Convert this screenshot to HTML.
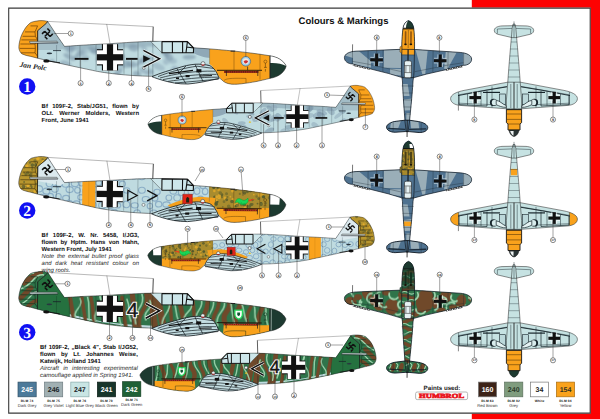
<!DOCTYPE html>
<html><head><meta charset="utf-8"><title>Colours &amp; Markings</title>
<style>html,body{margin:0;padding:0;background:#fff}body{width:600px;height:419px;overflow:hidden;position:relative;font-family:"Liberation Sans",sans-serif}svg{position:absolute;left:0;top:0;display:block}svg text{text-rendering:geometricPrecision}.t{text-rendering:geometricPrecision}.t{position:absolute;font-weight:bold;font-size:5.95px;line-height:7.2px;color:#111;text-align:justify;width:97.6px}.t i{font-weight:normal;color:#262626}.t div{text-align:justify;text-align-last:justify;white-space:nowrap}.t div.l{text-align-last:left}</style></head><body>
<svg width="600" height="419" viewBox="0 0 600 419" font-family="Liberation Sans, sans-serif">
<defs><filter id="bl" x="-5%" y="-20%" width="110%" height="140%"><feGaussianBlur stdDeviation="0.9"/></filter><filter id="b2" x="-5%" y="-20%" width="110%" height="140%"><feGaussianBlur stdDeviation="0.75"/></filter></defs>
<rect width="600" height="419" fill="#fff"/>
<rect x="471.8" y="0" width="129" height="7.6" fill="#fd0202"/><rect x="590.5" y="0" width="10" height="419" fill="#fd0202"/><rect x="471.8" y="413.6" width="129" height="6" fill="#fd0202"/>
<path d="M8.7,8.1 H590.2 V413.1 H8.7 Z" fill="none" stroke="#3a3a3a" stroke-width="1.1"/>
<text x="298.6" y="23.5" font-size="9.52" font-weight="bold" fill="#111">Colours &amp; Markings</text>
<g transform="translate(0,0) rotate(0.7 408 60)">
<clipPath id="tv1w"><path d="M408,49.4 L401,49.4 L356,51.8 C349.4,52.2 344.4,54.6 344.4,58.4 C344.4,62 348,64.6 352.4,64.6 L369,69 L389,73.8 L401.6,77.4 L408,77.4 Z M408,49.4 L415,49.4 L460,51.8 C466.6,52.2 471.6,54.6 471.6,58.4 C471.6,62 468,64.6 463.6,64.6 L447,69 L427,73.8 L414.4,77.4 L408,77.4 Z"/></clipPath><clipPath id="tv1f"><path d="M408,20.6 C405.2,21.4 403,24.6 402.6,28.4 C402,33 401.6,40 401.6,46 L401.8,70 C402,76 402.4,79 402.7,81 C403.6,98 405,112 405.8,122 L407.1,131.6 L408.9,131.6 L410.2,122 C411,112 412.4,98 413.3,81 C413.6,79 414,76 414.2,70 L414.4,46 C414.4,40 414,33 413.4,28.4 C413,24.6 410.8,21.4 408,20.6 Z"/></clipPath><clipPath id="tv1t"><path d="M406,120.2 L397,121.4 C391.4,122.2 387.6,124.6 387.4,127.2 C387.4,130.4 391,132.4 396,132.4 L406,131.6 L410,131.6 L420,132.4 C425,132.4 428.6,130.4 428.6,127.2 C428.4,124.6 424.6,122.2 419,121.4 L410,120.2 Z"/></clipPath>
<path d="M408,49.4 L401,49.4 L356,51.8 C349.4,52.2 344.4,54.6 344.4,58.4 C344.4,62 348,64.6 352.4,64.6 L369,69 L389,73.8 L401.6,77.4 L408,77.4 Z M408,49.4 L415,49.4 L460,51.8 C466.6,52.2 471.6,54.6 471.6,58.4 C471.6,62 468,64.6 463.6,64.6 L447,69 L427,73.8 L414.4,77.4 L408,77.4 Z" fill="#4f7290"/>
<g clip-path="url(#tv1w)" fill="#9aaeb8">
<path d="M344,56 L351,50 L358,51 L371,61.6 L371,68 L353,64.8 L353,58.6 Z"/>
<path d="M383.8,48 L401,48 L401,68 L383.8,68 Z"/>
<path d="M390.2,69 L401,69 L401,75.6 L390.2,74.6 Z"/>
<path d="M414.9,48 L427.8,48 L425.4,74 L422.5,74 Z"/>
<path d="M445.8,50 L457.6,50 L447.6,68.4 L444.2,68.4 Z"/>
<path d="M463.3,50 L473,50 L473,68 L463.3,68 Z"/>
</g>
<path d="M406,120.2 L397,121.4 C391.4,122.2 387.6,124.6 387.4,127.2 C387.4,130.4 391,132.4 396,132.4 L406,131.6 L410,131.6 L420,132.4 C425,132.4 428.6,130.4 428.6,127.2 C428.4,124.6 424.6,122.2 419,121.4 L410,120.2 Z" fill="#4f7290"/>
<g clip-path="url(#tv1t)" fill="#9aaeb8"><path d="M392,120 L402,120 L399,128.4 L391,128.4 Z"/><path d="M411,120 L419,120 L420,128.4 L412,128.4 Z"/></g>
<path d="M408,20.6 C405.2,21.4 403,24.6 402.6,28.4 C402,33 401.6,40 401.6,46 L401.8,70 C402,76 402.4,79 402.7,81 C403.6,98 405,112 405.8,122 L407.1,131.6 L408.9,131.6 L410.2,122 C411,112 412.4,98 413.3,81 C413.6,79 414,76 414.2,70 L414.4,46 C414.4,40 414,33 413.4,28.4 C413,24.6 410.8,21.4 408,20.6 Z" fill="#4f7290"/>
<g clip-path="url(#tv1f)"><path d="M400,84 L408,84 L410,96 L400,96 Z M400,100 L416,98 L416,110 L400,111 Z M407,113 L416,113 L416,120 L407,120 Z" fill="#9aaeb8"/>
<rect x="400" y="28.2" width="16" height="26.4" fill="#f9a21c"/>
</g>
<path d="M408,20.6 C405.2,21.4 403,24.6 402.6,28.4 L413.4,28.4 C413,24.6 410.8,21.4 408,20.6 Z" fill="#1d3a30"/>
<path d="M408,20.6 C405.2,21.4 403,24.6 402.6,28.4 L405.6,28.4 C405.6,25 406.4,22.4 408,20.6 Z" fill="#fff"/>
<path d="M402.6,28.2 H413.4" stroke="#111" stroke-width="1"/>
<path d="M408,49.4 L401,49.4 L356,51.8 C349.4,52.2 344.4,54.6 344.4,58.4 C344.4,62 348,64.6 352.4,64.6 L369,69 L389,73.8 L401.6,77.4 L408,77.4 Z M408,49.4 L415,49.4 L460,51.8 C466.6,52.2 471.6,54.6 471.6,58.4 C471.6,62 468,64.6 463.6,64.6 L447,69 L427,73.8 L414.4,77.4 L408,77.4 Z" fill="none" stroke="#0e1822" stroke-width="0.7"/>
<path d="M389,128.6 L406,129.4 M427,128.6 L410,129.4" stroke="#0e1822" stroke-width="1.3" opacity="0.75"/>
<path d="M406,120.2 L397,121.4 C391.4,122.2 387.6,124.6 387.4,127.2 C387.4,130.4 391,132.4 396,132.4 L406,131.6 L410,131.6 L420,132.4 C425,132.4 428.6,130.4 428.6,127.2 C428.4,124.6 424.6,122.2 419,121.4 L410,120.2 Z" fill="none" stroke="#0e1822" stroke-width="0.9"/>
<path d="M408,20.6 C405.2,21.4 403,24.6 402.6,28.4 C402,33 401.6,40 401.6,46 L401.8,70 C402,76 402.4,79 402.7,81 C403.6,98 405,112 405.8,122 L407.1,131.6 L408.9,131.6 L410.2,122 C411,112 412.4,98 413.3,81 C413.6,79 414,76 414.2,70 L414.4,46 C414.4,40 414,33 413.4,28.4 C413,24.6 410.8,21.4 408,20.6 Z" fill="none" stroke="#0e1822" stroke-width="0.7"/>
<path d="M408,120 V137" stroke="#1a1a1a" stroke-width="0.8"/>
<path d="M353,65.6 L370,69.6 M463,65.6 L446,69.6" stroke="#111" stroke-width="1.5"/><path d="M353,65.6 L370,69.6 M463,65.6 L446,69.6" stroke="#f4f8fa" stroke-width="1" stroke-dasharray="1 0.7"/>
<path d="M352.4,52 V64.6 M463.6,52 V64.6 M368,51.2 V68.6 M448,51.2 V68.6 M383,50.4 V72 M433,50.4 V72 M352.4,62 L368,64.6 L401,71.6 M463.6,62 L448,64.6 L415,71.6 M401.1,55 H414.9 M401.6,78 H414.4 M402,86 H414 M402.8,93 H413.2 M403.4,100 H412.6 M404,107 H412 M404.8,114 H411.2 M394,123 V131.6 M422,123 V131.6" fill="none" stroke="#15222c" stroke-width="0.4" opacity="0.8"/>
<path d="M352.4,45 V52.6" stroke="#1c1c1c" stroke-width="0.6"/>
<path d="M405.3,31.6 V43 M410.7,31.6 V43" stroke="#b86c10" stroke-width="2" fill="none" opacity="0.9"/>
<path d="M405.3,31 V43.6 M410.7,31 V43.6 M408,30 V48" stroke="#3b2a10" stroke-width="0.5" fill="none" opacity="0.85"/>
<ellipse cx="405.3" cy="44.2" rx="1.3" ry="1" fill="#1a1208"/><ellipse cx="410.7" cy="44.2" rx="1.3" ry="1" fill="#1a1208"/>
<path d="M402.4,29.6 H413.6" stroke="#3b2a10" stroke-width="0.5"/>
<path d="M401.6,46 l-1.8,1 v5 l1.8,1 z" fill="#f9a21c" stroke="#1c1c1c" stroke-width="0.4"/>
<rect x="404.5" y="60.8" width="7" height="17" rx="1.6" fill="#e6f2f4" stroke="#1c1c1c" stroke-width="0.6"/><path d="M404.5,65.6 H411.5 M404.5,72.6 H411.5 M406,66 V72.4 M410,66 V72.4" stroke="#1c1c1c" stroke-width="0.5"/>
<path d="M374.25,53.90 V57.85 H370.30 M378.95,53.90 V57.85 H382.90 M374.25,66.50 V62.55 H370.30 M378.95,66.50 V62.55 H382.90" fill="none" stroke="#cfdde4" stroke-width="0.7"/><rect x="375.15" y="53.90" width="2.90" height="12.60" fill="#111"/><rect x="370.30" y="58.75" width="12.60" height="2.90" fill="#111"/>
<path d="M437.85,54.00 V57.95 H433.90 M442.55,54.00 V57.95 H446.50 M437.85,66.60 V62.65 H433.90 M442.55,66.60 V62.65 H446.50" fill="none" stroke="#cfdde4" stroke-width="0.7"/><rect x="438.75" y="54.00" width="2.90" height="12.60" fill="#111"/><rect x="433.90" y="58.85" width="12.60" height="2.90" fill="#111"/>
</g>
<g transform="translate(0,120.4) rotate(0.7 408 60)">
<clipPath id="tv2w"><path d="M408,49.4 L401,49.4 L356,51.8 C349.4,52.2 344.4,54.6 344.4,58.4 C344.4,62 348,64.6 352.4,64.6 L369,69 L389,73.8 L401.6,77.4 L408,77.4 Z M408,49.4 L415,49.4 L460,51.8 C466.6,52.2 471.6,54.6 471.6,58.4 C471.6,62 468,64.6 463.6,64.6 L447,69 L427,73.8 L414.4,77.4 L408,77.4 Z"/></clipPath><clipPath id="tv2f"><path d="M408,20.6 C405.2,21.4 403,24.6 402.6,28.4 C402,33 401.6,40 401.6,46 L401.8,70 C402,76 402.4,79 402.7,81 C403.6,98 405,112 405.8,122 L407.1,131.6 L408.9,131.6 L410.2,122 C411,112 412.4,98 413.3,81 C413.6,79 414,76 414.2,70 L414.4,46 C414.4,40 414,33 413.4,28.4 C413,24.6 410.8,21.4 408,20.6 Z"/></clipPath><clipPath id="tv2t"><path d="M406,120.2 L397,121.4 C391.4,122.2 387.6,124.6 387.4,127.2 C387.4,130.4 391,132.4 396,132.4 L406,131.6 L410,131.6 L420,132.4 C425,132.4 428.6,130.4 428.6,127.2 C428.4,124.6 424.6,122.2 419,121.4 L410,120.2 Z"/></clipPath>
<path d="M408,49.4 L401,49.4 L356,51.8 C349.4,52.2 344.4,54.6 344.4,58.4 C344.4,62 348,64.6 352.4,64.6 L369,69 L389,73.8 L401.6,77.4 L408,77.4 Z M408,49.4 L415,49.4 L460,51.8 C466.6,52.2 471.6,54.6 471.6,58.4 C471.6,62 468,64.6 463.6,64.6 L447,69 L427,73.8 L414.4,77.4 L408,77.4 Z" fill="#4f7290"/>
<g clip-path="url(#tv2w)" fill="#9aaeb8">
<path d="M344,56 L351,50 L358,51 L371,61.6 L371,68 L353,64.8 L353,58.6 Z"/>
<path d="M383.8,48 L401,48 L401,68 L383.8,68 Z"/>
<path d="M390.2,69 L401,69 L401,75.6 L390.2,74.6 Z"/>
<path d="M414.9,48 L427.8,48 L425.4,74 L422.5,74 Z"/>
<path d="M445.8,50 L457.6,50 L447.6,68.4 L444.2,68.4 Z"/>
<path d="M463.3,50 L473,50 L473,68 L463.3,68 Z"/>
</g>
<path d="M406,120.2 L397,121.4 C391.4,122.2 387.6,124.6 387.4,127.2 C387.4,130.4 391,132.4 396,132.4 L406,131.6 L410,131.6 L420,132.4 C425,132.4 428.6,130.4 428.6,127.2 C428.4,124.6 424.6,122.2 419,121.4 L410,120.2 Z" fill="#4f7290"/>
<g clip-path="url(#tv2t)" fill="#9aaeb8"><path d="M392,120 L402,120 L399,128.4 L391,128.4 Z"/><path d="M411,120 L419,120 L420,128.4 L412,128.4 Z"/></g>
<path d="M408,20.6 C405.2,21.4 403,24.6 402.6,28.4 C402,33 401.6,40 401.6,46 L401.8,70 C402,76 402.4,79 402.7,81 C403.6,98 405,112 405.8,122 L407.1,131.6 L408.9,131.6 L410.2,122 C411,112 412.4,98 413.3,81 C413.6,79 414,76 414.2,70 L414.4,46 C414.4,40 414,33 413.4,28.4 C413,24.6 410.8,21.4 408,20.6 Z" fill="#4f7290"/>
<g clip-path="url(#tv2f)"><path d="M400,84 L408,84 L410,96 L400,96 Z M400,100 L416,98 L416,110 L400,111 Z M407,113 L416,113 L416,120 L407,120 Z" fill="#9aaeb8"/>
<rect x="400" y="28.2" width="16" height="26.4" fill="#a88a2c"/>
<circle cx="403.1" cy="44.4" r="0.9" fill="#7d702c"/>
<circle cx="406.4" cy="44.5" r="1.2" fill="#6f6a2e"/>
<circle cx="411.1" cy="42.5" r="1.3" fill="#7d702c"/>
<circle cx="411.3" cy="38.2" r="1.0" fill="#7d702c"/>
<circle cx="402.2" cy="29.8" r="0.9" fill="#d9a52a"/>
<circle cx="413.6" cy="50.2" r="1.3" fill="#7d702c"/>
<circle cx="407.9" cy="39.1" r="1.1" fill="#6f6a2e"/>
<circle cx="404.5" cy="30.8" r="1.0" fill="#7d702c"/>
<circle cx="408.1" cy="47.8" r="1.1" fill="#d9a52a"/>
<circle cx="402.9" cy="49.3" r="1.1" fill="#6f6a2e"/>
<circle cx="409.2" cy="44.8" r="1.1" fill="#d9a52a"/>
<circle cx="414.5" cy="48.3" r="1.0" fill="#5f6430"/>
<circle cx="409.9" cy="40.6" r="1.5" fill="#d9a52a"/>
<circle cx="413.2" cy="54.1" r="1.2" fill="#7d702c"/>
<circle cx="406.5" cy="47.7" r="1.2" fill="#7d702c"/>
<circle cx="408.5" cy="53.7" r="1.2" fill="#d9a52a"/>
<circle cx="402.7" cy="40.7" r="1.4" fill="#5f6430"/>
<circle cx="402.0" cy="50.7" r="1.4" fill="#d9a52a"/>
<circle cx="411.2" cy="39.2" r="1.4" fill="#7d702c"/>
<circle cx="404.0" cy="40.0" r="1.3" fill="#7d702c"/>
<circle cx="408.2" cy="32.0" r="1.2" fill="#7d702c"/>
<circle cx="401.1" cy="34.7" r="1.0" fill="#6f6a2e"/>
<circle cx="402.7" cy="32.3" r="1.1" fill="#5f6430"/>
<circle cx="404.7" cy="40.0" r="1.3" fill="#d9a52a"/>
<circle cx="403.6" cy="36.1" r="1.3" fill="#7d702c"/>
<circle cx="401.3" cy="33.3" r="1.3" fill="#d9a52a"/>
<circle cx="409.0" cy="33.8" r="1.3" fill="#5f6430"/>
<circle cx="402.3" cy="32.8" r="1.4" fill="#d9a52a"/>
<circle cx="410.4" cy="48.3" r="1.4" fill="#d9a52a"/>
<circle cx="403.0" cy="35.0" r="1.1" fill="#7d702c"/>
<circle cx="410.1" cy="46.6" r="1.4" fill="#7d702c"/>
<circle cx="414.4" cy="45.0" r="1.1" fill="#7d702c"/>
<circle cx="404.8" cy="48.6" r="1.3" fill="#6f6a2e"/>
<circle cx="410.7" cy="45.8" r="1.4" fill="#7d702c"/>
<circle cx="407.3" cy="44.0" r="1.1" fill="#6f6a2e"/>
<circle cx="414.4" cy="37.3" r="0.9" fill="#d9a52a"/>
<rect x="400" y="101.2" width="16" height="4.6" fill="#f9a21c"/>
</g>
<path d="M408,20.6 C405.2,21.4 403,24.6 402.6,28.4 L413.4,28.4 C413,24.6 410.8,21.4 408,20.6 Z" fill="#1d3a30"/>
<path d="M409,23.6 L412.2,23.6 L413.2,27.6 L409.4,27.6 Z" fill="#fff"/>
<path d="M402.6,28.2 H413.4" stroke="#111" stroke-width="1"/>
<path d="M408,49.4 L401,49.4 L356,51.8 C349.4,52.2 344.4,54.6 344.4,58.4 C344.4,62 348,64.6 352.4,64.6 L369,69 L389,73.8 L401.6,77.4 L408,77.4 Z M408,49.4 L415,49.4 L460,51.8 C466.6,52.2 471.6,54.6 471.6,58.4 C471.6,62 468,64.6 463.6,64.6 L447,69 L427,73.8 L414.4,77.4 L408,77.4 Z" fill="none" stroke="#0e1822" stroke-width="0.7"/>
<path d="M389,128.6 L406,129.4 M427,128.6 L410,129.4" stroke="#0e1822" stroke-width="1.3" opacity="0.75"/>
<path d="M406,120.2 L397,121.4 C391.4,122.2 387.6,124.6 387.4,127.2 C387.4,130.4 391,132.4 396,132.4 L406,131.6 L410,131.6 L420,132.4 C425,132.4 428.6,130.4 428.6,127.2 C428.4,124.6 424.6,122.2 419,121.4 L410,120.2 Z" fill="none" stroke="#0e1822" stroke-width="0.9"/>
<path d="M408,20.6 C405.2,21.4 403,24.6 402.6,28.4 C402,33 401.6,40 401.6,46 L401.8,70 C402,76 402.4,79 402.7,81 C403.6,98 405,112 405.8,122 L407.1,131.6 L408.9,131.6 L410.2,122 C411,112 412.4,98 413.3,81 C413.6,79 414,76 414.2,70 L414.4,46 C414.4,40 414,33 413.4,28.4 C413,24.6 410.8,21.4 408,20.6 Z" fill="none" stroke="#0e1822" stroke-width="0.7"/>
<path d="M408,120 V137" stroke="#1a1a1a" stroke-width="0.8"/>
<path d="M353,65.6 L370,69.6 M463,65.6 L446,69.6" stroke="#111" stroke-width="1.5"/><path d="M353,65.6 L370,69.6 M463,65.6 L446,69.6" stroke="#f4f8fa" stroke-width="1" stroke-dasharray="1 0.7"/>
<path d="M352.4,52 V64.6 M463.6,52 V64.6 M368,51.2 V68.6 M448,51.2 V68.6 M383,50.4 V72 M433,50.4 V72 M352.4,62 L368,64.6 L401,71.6 M463.6,62 L448,64.6 L415,71.6 M401.1,55 H414.9 M401.6,78 H414.4 M402,86 H414 M402.8,93 H413.2 M403.4,100 H412.6 M404,107 H412 M404.8,114 H411.2 M394,123 V131.6 M422,123 V131.6" fill="none" stroke="#15222c" stroke-width="0.4" opacity="0.8"/>
<path d="M352.4,45 V52.6" stroke="#1c1c1c" stroke-width="0.6"/>
<path d="M405.3,31.6 V43 M410.7,31.6 V43" stroke="#4a4418" stroke-width="2" fill="none" opacity="0.9"/>
<path d="M405.3,31 V43.6 M410.7,31 V43.6 M408,30 V48" stroke="#3b2a10" stroke-width="0.5" fill="none" opacity="0.85"/>
<ellipse cx="405.3" cy="44.2" rx="1.3" ry="1" fill="#1a1208"/><ellipse cx="410.7" cy="44.2" rx="1.3" ry="1" fill="#1a1208"/>
<path d="M402.4,29.6 H413.6" stroke="#3b2a10" stroke-width="0.5"/>
<path d="M401.6,46 l-1.8,1 v5 l1.8,1 z" fill="#8a7a2c" stroke="#1c1c1c" stroke-width="0.4"/>
<rect x="404.5" y="60.8" width="7" height="17" rx="1.6" fill="#e6f2f4" stroke="#1c1c1c" stroke-width="0.6"/><path d="M404.5,65.6 H411.5 M404.5,72.6 H411.5 M406,66 V72.4 M410,66 V72.4" stroke="#1c1c1c" stroke-width="0.5"/>
<path d="M374.25,53.90 V57.85 H370.30 M378.95,53.90 V57.85 H382.90 M374.25,66.50 V62.55 H370.30 M378.95,66.50 V62.55 H382.90" fill="none" stroke="#cfdde4" stroke-width="0.7"/><rect x="375.15" y="53.90" width="2.90" height="12.60" fill="#111"/><rect x="370.30" y="58.75" width="12.60" height="2.90" fill="#111"/>
<path d="M437.85,54.00 V57.95 H433.90 M442.55,54.00 V57.95 H446.50 M437.85,66.60 V62.65 H433.90 M442.55,66.60 V62.65 H446.50" fill="none" stroke="#cfdde4" stroke-width="0.7"/><rect x="438.75" y="54.00" width="2.90" height="12.60" fill="#111"/><rect x="433.90" y="58.85" width="12.60" height="2.90" fill="#111"/>
</g>
<g transform="translate(0,240.8) rotate(0.7 408 60)">
<clipPath id="tv3w"><path d="M408,49.4 L401,49.4 L356,51.8 C349.4,52.2 344.4,54.6 344.4,58.4 C344.4,62 348,64.6 352.4,64.6 L369,69 L389,73.8 L401.6,77.4 L408,77.4 Z M408,49.4 L415,49.4 L460,51.8 C466.6,52.2 471.6,54.6 471.6,58.4 C471.6,62 468,64.6 463.6,64.6 L447,69 L427,73.8 L414.4,77.4 L408,77.4 Z"/></clipPath><clipPath id="tv3f"><path d="M408,20.6 C405.2,21.4 403,24.6 402.6,28.4 C402,33 401.6,40 401.6,46 L401.8,70 C402,76 402.4,79 402.7,81 C403.6,98 405,112 405.8,122 L407.1,131.6 L408.9,131.6 L410.2,122 C411,112 412.4,98 413.3,81 C413.6,79 414,76 414.2,70 L414.4,46 C414.4,40 414,33 413.4,28.4 C413,24.6 410.8,21.4 408,20.6 Z"/></clipPath><clipPath id="tv3t"><path d="M406,120.2 L397,121.4 C391.4,122.2 387.6,124.6 387.4,127.2 C387.4,130.4 391,132.4 396,132.4 L406,131.6 L410,131.6 L420,132.4 C425,132.4 428.6,130.4 428.6,127.2 C428.4,124.6 424.6,122.2 419,121.4 L410,120.2 Z"/></clipPath>
<path d="M408,49.4 L401,49.4 L356,51.8 C349.4,52.2 344.4,54.6 344.4,58.4 C344.4,62 348,64.6 352.4,64.6 L369,69 L389,73.8 L401.6,77.4 L408,77.4 Z M408,49.4 L415,49.4 L460,51.8 C466.6,52.2 471.6,54.6 471.6,58.4 C471.6,62 468,64.6 463.6,64.6 L447,69 L427,73.8 L414.4,77.4 L408,77.4 Z" fill="#2f744a"/>
<g clip-path="url(#tv3w)">
<g filter="url(#b2)">
<ellipse cx="351" cy="62" rx="6" ry="5" fill="#70482a" transform="rotate(20 351 62)"/>
<ellipse cx="367" cy="53" rx="5" ry="6" fill="#70482a" transform="rotate(-10 367 53)"/>
<ellipse cx="379" cy="66" rx="5" ry="4" fill="#70482a" transform="rotate(10 379 66)"/>
<ellipse cx="392" cy="66" rx="7" ry="8" fill="#70482a" transform="rotate(0 392 66)"/>
<ellipse cx="386" cy="52" rx="4" ry="3" fill="#70482a" transform="rotate(0 386 52)"/>
<ellipse cx="401" cy="55" rx="3" ry="5" fill="#70482a" transform="rotate(0 401 55)"/>
<ellipse cx="425" cy="60" rx="9" ry="12" fill="#70482a" transform="rotate(10 425 60)"/>
<ellipse cx="415" cy="72" rx="5" ry="4" fill="#70482a" transform="rotate(0 415 72)"/>
<ellipse cx="446" cy="55" rx="6" ry="6" fill="#70482a" transform="rotate(-20 446 55)"/>
<ellipse cx="441" cy="69" rx="5" ry="3" fill="#70482a" transform="rotate(0 441 69)"/>
<ellipse cx="461" cy="60" rx="5" ry="7" fill="#70482a" transform="rotate(15 461 60)"/>
<ellipse cx="471" cy="56" rx="3" ry="4" fill="#70482a" transform="rotate(0 471 56)"/>
<ellipse cx="358" cy="57" rx="4" ry="3" fill="#70482a" transform="rotate(0 358 57)"/>
<ellipse cx="374" cy="60" rx="4" ry="5" fill="#70482a" transform="rotate(30 374 60)"/>
<ellipse cx="436" cy="62" rx="4" ry="6" fill="#70482a" transform="rotate(0 436 62)"/>
<ellipse cx="453" cy="66" rx="4" ry="3" fill="#70482a" transform="rotate(0 453 66)"/>
<path d="M343.3,55.3 A5,5 0 0 1 352.9,56.1" fill="none" stroke="#9fd6ae" stroke-width="1.7" stroke-linecap="round"/>
<path d="M361.7,61.7 A5,5 0 0 1 352.1,60.9" fill="none" stroke="#9fd6ae" stroke-width="1.7" stroke-linecap="round"/>
<path d="M360.6,60.2 A4,4 0 0 0 365.1,66.6" fill="none" stroke="#9fd6ae" stroke-width="1.7" stroke-linecap="round"/>
<path d="M369.5,62.3 A5,5 0 0 1 372.0,53.0" fill="none" stroke="#9fd6ae" stroke-width="1.7" stroke-linecap="round"/>
<path d="M380.0,51.5 A4,4 0 0 0 378.0,59.0" fill="none" stroke="#9fd6ae" stroke-width="1.7" stroke-linecap="round"/>
<path d="M386.5,66.3 A5,5 0 0 1 379.7,59.5" fill="none" stroke="#9fd6ae" stroke-width="1.7" stroke-linecap="round"/>
<path d="M389.2,52.8 A5,5 0 0 0 397.9,56.9" fill="none" stroke="#9fd6ae" stroke-width="1.7" stroke-linecap="round"/>
<path d="M401.5,68.0 A4,4 0 0 1 396.0,73.5" fill="none" stroke="#9fd6ae" stroke-width="1.7" stroke-linecap="round"/>
<path d="M402.0,68.0 A4,4 0 0 1 400.0,60.5" fill="none" stroke="#9fd6ae" stroke-width="1.7" stroke-linecap="round"/>
<path d="M410.7,58.5 A5,5 0 0 0 417.5,51.7" fill="none" stroke="#9fd6ae" stroke-width="1.7" stroke-linecap="round"/>
<path d="M425.3,70.5 A5,5 0 0 1 416.0,68.0" fill="none" stroke="#9fd6ae" stroke-width="1.7" stroke-linecap="round"/>
<path d="M429.1,49.1 A5,5 0 0 1 433.2,57.8" fill="none" stroke="#9fd6ae" stroke-width="1.7" stroke-linecap="round"/>
<path d="M435.1,68.9 A5,5 0 0 0 434.3,59.3" fill="none" stroke="#9fd6ae" stroke-width="1.7" stroke-linecap="round"/>
<path d="M439.2,58.6 A4,4 0 0 1 446.9,59.3" fill="none" stroke="#9fd6ae" stroke-width="1.7" stroke-linecap="round"/>
<path d="M454.7,62.3 A5,5 0 0 0 446.8,67.8" fill="none" stroke="#9fd6ae" stroke-width="1.7" stroke-linecap="round"/>
<path d="M457.0,59.5 A4,4 0 0 1 451.5,54.0" fill="none" stroke="#9fd6ae" stroke-width="1.7" stroke-linecap="round"/>
<path d="M458.0,66.0 A4,4 0 0 0 465.5,64.0" fill="none" stroke="#9fd6ae" stroke-width="1.7" stroke-linecap="round"/>
<path d="M468.7,56.1 A4,4 0 0 1 469.4,63.8" fill="none" stroke="#9fd6ae" stroke-width="1.7" stroke-linecap="round"/>
</g>
</g>
<path d="M406,120.2 L397,121.4 C391.4,122.2 387.6,124.6 387.4,127.2 C387.4,130.4 391,132.4 396,132.4 L406,131.6 L410,131.6 L420,132.4 C425,132.4 428.6,130.4 428.6,127.2 C428.4,124.6 424.6,122.2 419,121.4 L410,120.2 Z" fill="#2f744a"/>
<g clip-path="url(#tv3t)">
<ellipse cx="394" cy="126.6" rx="2.2" ry="4.6" fill="#70482a" transform="rotate(15 394 126.6)"/>
<ellipse cx="402" cy="126.6" rx="2.2" ry="4.6" fill="#70482a" transform="rotate(15 402 126.6)"/>
<ellipse cx="415" cy="126.6" rx="2.2" ry="4.6" fill="#70482a" transform="rotate(15 415 126.6)"/>
<ellipse cx="423" cy="126.6" rx="2.2" ry="4.6" fill="#70482a" transform="rotate(15 423 126.6)"/>
<path d="M-4,0 q2,-2.4 4,0 t4,0" transform="translate(391,126.4) rotate(75)" fill="none" stroke="#9fd6ae" stroke-width="1.1"/>
<path d="M-4,0 q2,-2.4 4,0 t4,0" transform="translate(398,126.4) rotate(75)" fill="none" stroke="#9fd6ae" stroke-width="1.1"/>
<path d="M-4,0 q2,-2.4 4,0 t4,0" transform="translate(412,126.4) rotate(75)" fill="none" stroke="#9fd6ae" stroke-width="1.1"/>
<path d="M-4,0 q2,-2.4 4,0 t4,0" transform="translate(419,126.4) rotate(75)" fill="none" stroke="#9fd6ae" stroke-width="1.1"/>
<path d="M-4,0 q2,-2.4 4,0 t4,0" transform="translate(426,126.4) rotate(75)" fill="none" stroke="#9fd6ae" stroke-width="1.1"/>
</g>
<path d="M408,20.6 C405.2,21.4 403,24.6 402.6,28.4 C402,33 401.6,40 401.6,46 L401.8,70 C402,76 402.4,79 402.7,81 C403.6,98 405,112 405.8,122 L407.1,131.6 L408.9,131.6 L410.2,122 C411,112 412.4,98 413.3,81 C413.6,79 414,76 414.2,70 L414.4,46 C414.4,40 414,33 413.4,28.4 C413,24.6 410.8,21.4 408,20.6 Z" fill="#2f744a"/>
<g clip-path="url(#tv3f)">
<path d="M400,24 q4,-3 8,0 t8,0" fill="none" stroke="#70482a" stroke-width="3.6"/>
<path d="M400,32 q4,3 8,0 t8,0" fill="none" stroke="#70482a" stroke-width="3.6"/>
<path d="M400,40 q4,-3 8,0 t8,0" fill="none" stroke="#70482a" stroke-width="3.6"/>
<path d="M400,48 q4,3 8,0 t8,0" fill="none" stroke="#70482a" stroke-width="3.6"/>
<path d="M400,56 q4,-3 8,0 t8,0" fill="none" stroke="#70482a" stroke-width="3.6"/>
<path d="M400,64 q4,3 8,0 t8,0" fill="none" stroke="#70482a" stroke-width="3.6"/>
<path d="M400,72 q4,-3 8,0 t8,0" fill="none" stroke="#70482a" stroke-width="3.6"/>
<path d="M400,80 q4,3 8,0 t8,0" fill="none" stroke="#70482a" stroke-width="3.6"/>
<path d="M400,88 q4,-3 8,0 t8,0" fill="none" stroke="#70482a" stroke-width="3.6"/>
<path d="M400,96 q4,3 8,0 t8,0" fill="none" stroke="#70482a" stroke-width="3.6"/>
<path d="M400,104 q4,-3 8,0 t8,0" fill="none" stroke="#70482a" stroke-width="3.6"/>
<path d="M400,112 q4,3 8,0 t8,0" fill="none" stroke="#70482a" stroke-width="3.6"/>
<path d="M400,120 q4,-3 8,0 t8,0" fill="none" stroke="#70482a" stroke-width="3.6"/>
<path d="M401,28 q3.5,2.6 7,0 t7,0" fill="none" stroke="#9fd6ae" stroke-width="1.1" opacity="0.9"/>
<path d="M401,36 q3.5,-2.6 7,0 t7,0" fill="none" stroke="#9fd6ae" stroke-width="1.1" opacity="0.9"/>
<path d="M401,44 q3.5,2.6 7,0 t7,0" fill="none" stroke="#9fd6ae" stroke-width="1.1" opacity="0.9"/>
<path d="M401,52 q3.5,-2.6 7,0 t7,0" fill="none" stroke="#9fd6ae" stroke-width="1.1" opacity="0.9"/>
<path d="M401,60 q3.5,2.6 7,0 t7,0" fill="none" stroke="#9fd6ae" stroke-width="1.1" opacity="0.9"/>
<path d="M401,68 q3.5,-2.6 7,0 t7,0" fill="none" stroke="#9fd6ae" stroke-width="1.1" opacity="0.9"/>
<path d="M401,76 q3.5,2.6 7,0 t7,0" fill="none" stroke="#9fd6ae" stroke-width="1.1" opacity="0.9"/>
<path d="M401,84 q3.5,-2.6 7,0 t7,0" fill="none" stroke="#9fd6ae" stroke-width="1.1" opacity="0.9"/>
<path d="M401,92 q3.5,2.6 7,0 t7,0" fill="none" stroke="#9fd6ae" stroke-width="1.1" opacity="0.9"/>
<path d="M401,100 q3.5,-2.6 7,0 t7,0" fill="none" stroke="#9fd6ae" stroke-width="1.1" opacity="0.9"/>
<path d="M401,108 q3.5,2.6 7,0 t7,0" fill="none" stroke="#9fd6ae" stroke-width="1.1" opacity="0.9"/>
<path d="M401,116 q3.5,-2.6 7,0 t7,0" fill="none" stroke="#9fd6ae" stroke-width="1.1" opacity="0.9"/>
<path d="M401,124 q3.5,2.6 7,0 t7,0" fill="none" stroke="#9fd6ae" stroke-width="1.1" opacity="0.9"/>
<rect x="400" y="28" width="16" height="20" fill="#173a2a" opacity="0.55"/>
</g>
<path d="M408,20.6 C405.2,21.4 403,24.6 402.6,28.4 L413.4,28.4 C413,24.6 410.8,21.4 408,20.6 Z" fill="#1d3a30"/>
<path d="M402.6,28.2 H413.4" stroke="#111" stroke-width="1"/>
<path d="M408,49.4 L401,49.4 L356,51.8 C349.4,52.2 344.4,54.6 344.4,58.4 C344.4,62 348,64.6 352.4,64.6 L369,69 L389,73.8 L401.6,77.4 L408,77.4 Z M408,49.4 L415,49.4 L460,51.8 C466.6,52.2 471.6,54.6 471.6,58.4 C471.6,62 468,64.6 463.6,64.6 L447,69 L427,73.8 L414.4,77.4 L408,77.4 Z" fill="none" stroke="#0e1822" stroke-width="0.7"/>
<path d="M389,128.6 L406,129.4 M427,128.6 L410,129.4" stroke="#0e1822" stroke-width="1.3" opacity="0.75"/>
<path d="M406,120.2 L397,121.4 C391.4,122.2 387.6,124.6 387.4,127.2 C387.4,130.4 391,132.4 396,132.4 L406,131.6 L410,131.6 L420,132.4 C425,132.4 428.6,130.4 428.6,127.2 C428.4,124.6 424.6,122.2 419,121.4 L410,120.2 Z" fill="none" stroke="#0e1822" stroke-width="0.9"/>
<path d="M408,20.6 C405.2,21.4 403,24.6 402.6,28.4 C402,33 401.6,40 401.6,46 L401.8,70 C402,76 402.4,79 402.7,81 C403.6,98 405,112 405.8,122 L407.1,131.6 L408.9,131.6 L410.2,122 C411,112 412.4,98 413.3,81 C413.6,79 414,76 414.2,70 L414.4,46 C414.4,40 414,33 413.4,28.4 C413,24.6 410.8,21.4 408,20.6 Z" fill="none" stroke="#0e1822" stroke-width="0.7"/>
<path d="M408,120 V137" stroke="#1a1a1a" stroke-width="0.8"/>
<path d="M353,65.6 L370,69.6 M463,65.6 L446,69.6" stroke="#111" stroke-width="1.5"/><path d="M353,65.6 L370,69.6 M463,65.6 L446,69.6" stroke="#f4f8fa" stroke-width="1" stroke-dasharray="1 0.7"/>
<path d="M352.4,52 V64.6 M463.6,52 V64.6 M368,51.2 V68.6 M448,51.2 V68.6 M383,50.4 V72 M433,50.4 V72 M352.4,62 L368,64.6 L401,71.6 M463.6,62 L448,64.6 L415,71.6 M401.1,55 H414.9 M401.6,78 H414.4 M402,86 H414 M402.8,93 H413.2 M403.4,100 H412.6 M404,107 H412 M404.8,114 H411.2 M394,123 V131.6 M422,123 V131.6" fill="none" stroke="#15222c" stroke-width="0.4" opacity="0.8"/>
<path d="M352.4,45 V52.6" stroke="#1c1c1c" stroke-width="0.6"/>
<path d="M405.3,31.6 V43 M410.7,31.6 V43" stroke="#143222" stroke-width="2" fill="none" opacity="0.9"/>
<path d="M405.3,31 V43.6 M410.7,31 V43.6 M408,30 V48" stroke="#0c2414" stroke-width="0.5" fill="none" opacity="0.85"/>
<ellipse cx="405.3" cy="44.2" rx="1.3" ry="1" fill="#1a1208"/><ellipse cx="410.7" cy="44.2" rx="1.3" ry="1" fill="#1a1208"/>
<path d="M402.4,29.6 H413.6" stroke="#0c2414" stroke-width="0.5"/>
<path d="M401.6,46 l-1.8,1 v5 l1.8,1 z" fill="#2f744a" stroke="#1c1c1c" stroke-width="0.4"/>
<rect x="404.5" y="60.8" width="7" height="17" rx="1.6" fill="#e6f2f4" stroke="#1c1c1c" stroke-width="0.6"/><path d="M404.5,65.6 H411.5 M404.5,72.6 H411.5 M406,66 V72.4 M410,66 V72.4" stroke="#1c1c1c" stroke-width="0.5"/>
<path d="M374.25,53.90 V57.85 H370.30 M378.95,53.90 V57.85 H382.90 M374.25,66.50 V62.55 H370.30 M378.95,66.50 V62.55 H382.90" fill="none" stroke="#ffffff" stroke-width="0.7"/><rect x="375.15" y="53.90" width="2.90" height="12.60" fill="#111"/><rect x="370.30" y="58.75" width="12.60" height="2.90" fill="#111"/>
<path d="M437.85,54.00 V57.95 H433.90 M442.55,54.00 V57.95 H446.50 M437.85,66.60 V62.65 H433.90 M442.55,66.60 V62.65 H446.50" fill="none" stroke="#ffffff" stroke-width="0.7"/><rect x="438.75" y="54.00" width="2.90" height="12.60" fill="#111"/><rect x="433.90" y="58.85" width="12.60" height="2.90" fill="#111"/>
</g>
<g transform="translate(0,0)">
<path d="M514.0,82.2 L507.6,82.2 L464.0,90.4 C457.0,91.8 450.6,94.4 450.6,98.6 C450.6,102.6 455.0,105 460.0,105.4 L507.0,108.8 L514.0,108.8 Z M514.0,82.2 L520.4,82.2 L564.0,90.4 C571.0,91.8 577.4,94.4 577.4,98.6 C577.4,102.6 573.0,105 568.0,105.4 L521.0,108.8 L514.0,108.8 Z" fill="#c6e2e2"/>
<path d="M512.0,37.6 L500.0,34.8 C496.6,34.2 494.4,33 494.3,30.6 C494.2,28 497.0,26.2 502.0,25.9 L512.0,25.7 L516.0,25.7 L526.0,25.9 C531.0,26.2 533.8,28 533.7,30.6 C533.6,33 531.4,34.2 528.0,34.8 L516.0,37.6 Z" fill="#c6e2e2"/>
<path d="M513.1,24 L512.2,28 C510.8,44 509.0,64 507.8,82 L506.4,100 L506.4,109.6 L521.6,109.6 L521.6,100 L520.2,82 C519.0,64 517.2,44 515.8,28 L514.9,24 Z" fill="#c6e2e2"/>
<path d="M506.4,109.6 H521.6 V122.6 L520.0,124 V130 H508.0 V124 L506.4,122.6 Z" fill="#f9a21c" stroke="#161616" stroke-width="0.9"/>
<path d="M506.4,114 H521.6 M506.4,119.4 H521.6 M508.0,124 H520.0" stroke="#5a3a08" stroke-width="0.6"/>
<path d="M509.0,130 C509.2,133 511.4,136 514.0,136.6 C516.6,136 518.8,133 519.0,130 Z" fill="#2a3434" stroke="#111" stroke-width="0.5"/>
<path d="M510.2,131 C510.6,133 512.0,135 513.4,135.8 L513.6,131 Z" fill="#eef2f2"/>
<path d="M514.0,82.2 L507.6,82.2 L464.0,90.4 C457.0,91.8 450.6,94.4 450.6,98.6 C450.6,102.6 455.0,105 460.0,105.4 L507.0,108.8 L514.0,108.8 Z M514.0,82.2 L520.4,82.2 L564.0,90.4 C571.0,91.8 577.4,94.4 577.4,98.6 C577.4,102.6 573.0,105 568.0,105.4 L521.0,108.8 L514.0,108.8 Z" fill="none" stroke="#1c1c1c" stroke-width="0.5"/>
<path d="M512.0,37.6 L500.0,34.8 C496.6,34.2 494.4,33 494.3,30.6 C494.2,28 497.0,26.2 502.0,25.9 L512.0,25.7 L516.0,25.7 L526.0,25.9 C531.0,26.2 533.8,28 533.7,30.6 C533.6,33 531.4,34.2 528.0,34.8 L516.0,37.6 Z" fill="none" stroke="#1c1c1c" stroke-width="0.5"/>
<path d="M513.1,24 L512.2,28 C510.8,44 509.0,64 507.8,82 L506.4,100 L506.4,109.6 L521.6,109.6 L521.6,100 L520.2,82 C519.0,64 517.2,44 515.8,28 L514.9,24 Z" fill="none" stroke="#1c1c1c" stroke-width="0.5"/>
<path d="M458.6,92 V105 M569.4,92 V105 M492.0,86.4 V107.6 M536.0,86.4 V107.6 M458.6,94.8 L507.0,86.4 M569.4,94.8 L521.0,86.4 M458.6,103.2 L492.0,104.6 M569.4,103.2 L536.0,104.6 M510.8,84 V108 M517.2,84 V108 M514.0,21.4 V37.4 M497.4,29 L512.0,28.4 M530.6,29 L516.0,28.4 M497.4,29 V33.6 M530.6,29 V33.6" fill="none" stroke="#16242a" stroke-width="0.5" opacity="0.9"/>
<path d="M511.0,42 H517.0" stroke="#16242a" stroke-width="0.4" opacity="0.85"/>
<path d="M510.4,49 H517.6" stroke="#16242a" stroke-width="0.4" opacity="0.85"/>
<path d="M509.8,56 H518.2" stroke="#16242a" stroke-width="0.4" opacity="0.85"/>
<path d="M509.3,63 H518.7" stroke="#16242a" stroke-width="0.4" opacity="0.85"/>
<path d="M508.7,70 H519.3" stroke="#16242a" stroke-width="0.4" opacity="0.85"/>
<path d="M508.1,77 H519.9" stroke="#16242a" stroke-width="0.4" opacity="0.85"/>
<path d="M507.0,86.8 L484.0,90.6 L458.0,95.6" fill="none" stroke="#16242a" stroke-width="0.9"/>
<path d="M500.0,92.4 H483.0" stroke="#16242a" stroke-width="1.2"/>
<path d="M459.0,95.4 V104.6 L487.0,106 V91" fill="none" stroke="#16242a" stroke-width="0.7"/>
<path d="M467.5,94 V105 M481.0,91.4 V105.6" fill="none" stroke="#16242a" stroke-width="0.5"/>
<rect x="499.6" y="94" width="6" height="11" fill="#bcd8da" stroke="#16242a" stroke-width="0.6"/>
<circle cx="493.6" cy="102.4" r="3.7" fill="#18262c"/>
<circle cx="494.70000000000005" cy="102.4" r="2.9" fill="#d8ecec"/>
<path d="M496.20000000000005,100.4 C500.0,100.6 502.0,104 506.0,105.4 L506.4,107.4 C502.0,107.4 499.0,106 496.20000000000005,104.6 Z" fill="#e4f2f2" stroke="#16242a" stroke-width="0.7"/>
<path d="M521.0,86.8 L544.0,90.6 L570.0,95.6" fill="none" stroke="#16242a" stroke-width="0.9"/>
<path d="M528.0,92.4 H545.0" stroke="#16242a" stroke-width="1.2"/>
<path d="M569.0,95.4 V104.6 L541.0,106 V91" fill="none" stroke="#16242a" stroke-width="0.7"/>
<path d="M560.5,94 V105 M547.0,91.4 V105.6" fill="none" stroke="#16242a" stroke-width="0.5"/>
<rect x="522.4" y="94" width="6" height="11" fill="#bcd8da" stroke="#16242a" stroke-width="0.6"/>
<circle cx="534.4" cy="102.4" r="3.7" fill="#18262c"/>
<circle cx="533.3" cy="102.4" r="2.9" fill="#d8ecec"/>
<path d="M531.8,100.4 C528.0,100.6 526.0,104 522.0,105.4 L521.6,107.4 C526.0,107.4 529.0,106 531.8,104.6 Z" fill="#e4f2f2" stroke="#16242a" stroke-width="0.7"/>
<path d="M458.4,105 V110.6" stroke="#555" stroke-width="0.7"/>
<path d="M472.75,91.80 V95.15 H469.40 M477.65,91.80 V95.15 H481.00 M472.75,103.40 V100.05 H469.40 M477.65,103.40 V100.05 H481.00" fill="none" stroke="#fff" stroke-width="0.7"/><rect x="473.65" y="91.80" width="3.10" height="11.60" fill="#111"/><rect x="469.40" y="96.05" width="11.60" height="3.10" fill="#111"/>
<path d="M551.75,91.80 V95.15 H548.40 M556.65,91.80 V95.15 H560.00 M551.75,103.40 V100.05 H548.40 M556.65,103.40 V100.05 H560.00" fill="none" stroke="#fff" stroke-width="0.7"/><rect x="552.65" y="91.80" width="3.10" height="11.60" fill="#111"/><rect x="548.40" y="96.05" width="11.60" height="3.10" fill="#111"/>
</g>
<g transform="translate(0,120.5)">
<path d="M514.0,82.2 L507.6,82.2 L464.0,90.4 C457.0,91.8 450.6,94.4 450.6,98.6 C450.6,102.6 455.0,105 460.0,105.4 L507.0,108.8 L514.0,108.8 Z M514.0,82.2 L520.4,82.2 L564.0,90.4 C571.0,91.8 577.4,94.4 577.4,98.6 C577.4,102.6 573.0,105 568.0,105.4 L521.0,108.8 L514.0,108.8 Z" fill="#c6e2e2"/>
<clipPath id="bv4"><path d="M514.0,82.2 L507.6,82.2 L464.0,90.4 C457.0,91.8 450.6,94.4 450.6,98.6 C450.6,102.6 455.0,105 460.0,105.4 L507.0,108.8 L514.0,108.8 Z M514.0,82.2 L520.4,82.2 L564.0,90.4 C571.0,91.8 577.4,94.4 577.4,98.6 C577.4,102.6 573.0,105 568.0,105.4 L521.0,108.8 L514.0,108.8 Z"/></clipPath><g clip-path="url(#bv4)" fill="#f9a21c"><rect x="450.0" y="85" width="8.6" height="25"/><rect x="569.4" y="85" width="8.6" height="25"/></g>
<path d="M512.0,37.6 L500.0,34.8 C496.6,34.2 494.4,33 494.3,30.6 C494.2,28 497.0,26.2 502.0,25.9 L512.0,25.7 L516.0,25.7 L526.0,25.9 C531.0,26.2 533.8,28 533.7,30.6 C533.6,33 531.4,34.2 528.0,34.8 L516.0,37.6 Z" fill="#c6e2e2"/>
<path d="M513.1,24 L512.2,28 C510.8,44 509.0,64 507.8,82 L506.4,100 L506.4,109.6 L521.6,109.6 L521.6,100 L520.2,82 C519.0,64 517.2,44 515.8,28 L514.9,24 Z" fill="#c6e2e2"/>
<rect x="510.9" y="48.4" width="6.2" height="6.4" fill="#f9a21c"/>
<path d="M506.4,109.6 H521.6 V122.6 L520.0,124 V130 H508.0 V124 L506.4,122.6 Z" fill="#f9a21c" stroke="#161616" stroke-width="0.9"/>
<path d="M506.4,114 H521.6 M506.4,119.4 H521.6 M508.0,124 H520.0" stroke="#5a3a08" stroke-width="0.6"/>
<path d="M509.0,130 C509.2,133 511.4,136 514.0,136.6 C516.6,136 518.8,133 519.0,130 Z" fill="#2a3434" stroke="#111" stroke-width="0.5"/>
<path d="M510.2,131 C510.6,133 512.0,135 513.4,135.8 L513.6,131 Z" fill="#eef2f2"/>
<path d="M514.0,82.2 L507.6,82.2 L464.0,90.4 C457.0,91.8 450.6,94.4 450.6,98.6 C450.6,102.6 455.0,105 460.0,105.4 L507.0,108.8 L514.0,108.8 Z M514.0,82.2 L520.4,82.2 L564.0,90.4 C571.0,91.8 577.4,94.4 577.4,98.6 C577.4,102.6 573.0,105 568.0,105.4 L521.0,108.8 L514.0,108.8 Z" fill="none" stroke="#1c1c1c" stroke-width="0.5"/>
<path d="M512.0,37.6 L500.0,34.8 C496.6,34.2 494.4,33 494.3,30.6 C494.2,28 497.0,26.2 502.0,25.9 L512.0,25.7 L516.0,25.7 L526.0,25.9 C531.0,26.2 533.8,28 533.7,30.6 C533.6,33 531.4,34.2 528.0,34.8 L516.0,37.6 Z" fill="none" stroke="#1c1c1c" stroke-width="0.5"/>
<path d="M513.1,24 L512.2,28 C510.8,44 509.0,64 507.8,82 L506.4,100 L506.4,109.6 L521.6,109.6 L521.6,100 L520.2,82 C519.0,64 517.2,44 515.8,28 L514.9,24 Z" fill="none" stroke="#1c1c1c" stroke-width="0.5"/>
<path d="M458.6,92 V105 M569.4,92 V105 M492.0,86.4 V107.6 M536.0,86.4 V107.6 M458.6,94.8 L507.0,86.4 M569.4,94.8 L521.0,86.4 M458.6,103.2 L492.0,104.6 M569.4,103.2 L536.0,104.6 M510.8,84 V108 M517.2,84 V108 M514.0,21.4 V37.4 M497.4,29 L512.0,28.4 M530.6,29 L516.0,28.4 M497.4,29 V33.6 M530.6,29 V33.6" fill="none" stroke="#16242a" stroke-width="0.5" opacity="0.9"/>
<path d="M511.0,42 H517.0" stroke="#16242a" stroke-width="0.4" opacity="0.85"/>
<path d="M510.4,49 H517.6" stroke="#16242a" stroke-width="0.4" opacity="0.85"/>
<path d="M509.8,56 H518.2" stroke="#16242a" stroke-width="0.4" opacity="0.85"/>
<path d="M509.3,63 H518.7" stroke="#16242a" stroke-width="0.4" opacity="0.85"/>
<path d="M508.7,70 H519.3" stroke="#16242a" stroke-width="0.4" opacity="0.85"/>
<path d="M508.1,77 H519.9" stroke="#16242a" stroke-width="0.4" opacity="0.85"/>
<path d="M507.0,86.8 L484.0,90.6 L458.0,95.6" fill="none" stroke="#16242a" stroke-width="0.9"/>
<path d="M500.0,92.4 H483.0" stroke="#16242a" stroke-width="1.2"/>
<path d="M459.0,95.4 V104.6 L487.0,106 V91" fill="none" stroke="#16242a" stroke-width="0.7"/>
<path d="M467.5,94 V105 M481.0,91.4 V105.6" fill="none" stroke="#16242a" stroke-width="0.5"/>
<rect x="499.6" y="94" width="6" height="11" fill="#bcd8da" stroke="#16242a" stroke-width="0.6"/>
<circle cx="493.6" cy="102.4" r="3.7" fill="#18262c"/>
<circle cx="494.70000000000005" cy="102.4" r="2.9" fill="#d8ecec"/>
<path d="M496.20000000000005,100.4 C500.0,100.6 502.0,104 506.0,105.4 L506.4,107.4 C502.0,107.4 499.0,106 496.20000000000005,104.6 Z" fill="#e4f2f2" stroke="#16242a" stroke-width="0.7"/>
<path d="M521.0,86.8 L544.0,90.6 L570.0,95.6" fill="none" stroke="#16242a" stroke-width="0.9"/>
<path d="M528.0,92.4 H545.0" stroke="#16242a" stroke-width="1.2"/>
<path d="M569.0,95.4 V104.6 L541.0,106 V91" fill="none" stroke="#16242a" stroke-width="0.7"/>
<path d="M560.5,94 V105 M547.0,91.4 V105.6" fill="none" stroke="#16242a" stroke-width="0.5"/>
<rect x="522.4" y="94" width="6" height="11" fill="#bcd8da" stroke="#16242a" stroke-width="0.6"/>
<circle cx="534.4" cy="102.4" r="3.7" fill="#18262c"/>
<circle cx="533.3" cy="102.4" r="2.9" fill="#d8ecec"/>
<path d="M531.8,100.4 C528.0,100.6 526.0,104 522.0,105.4 L521.6,107.4 C526.0,107.4 529.0,106 531.8,104.6 Z" fill="#e4f2f2" stroke="#16242a" stroke-width="0.7"/>
<path d="M458.4,105 V110.6" stroke="#555" stroke-width="0.7"/>
<path d="M472.75,91.80 V95.15 H469.40 M477.65,91.80 V95.15 H481.00 M472.75,103.40 V100.05 H469.40 M477.65,103.40 V100.05 H481.00" fill="none" stroke="#fff" stroke-width="0.7"/><rect x="473.65" y="91.80" width="3.10" height="11.60" fill="#111"/><rect x="469.40" y="96.05" width="11.60" height="3.10" fill="#111"/>
<path d="M551.75,91.80 V95.15 H548.40 M556.65,91.80 V95.15 H560.00 M551.75,103.40 V100.05 H548.40 M556.65,103.40 V100.05 H560.00" fill="none" stroke="#fff" stroke-width="0.7"/><rect x="552.65" y="91.80" width="3.10" height="11.60" fill="#111"/><rect x="548.40" y="96.05" width="11.60" height="3.10" fill="#111"/>
</g>
<g transform="translate(0,240.7)">
<path d="M514.0,82.2 L507.6,82.2 L464.0,90.4 C457.0,91.8 450.6,94.4 450.6,98.6 C450.6,102.6 455.0,105 460.0,105.4 L507.0,108.8 L514.0,108.8 Z M514.0,82.2 L520.4,82.2 L564.0,90.4 C571.0,91.8 577.4,94.4 577.4,98.6 C577.4,102.6 573.0,105 568.0,105.4 L521.0,108.8 L514.0,108.8 Z" fill="#c6e2e2"/>
<path d="M512.0,37.6 L500.0,34.8 C496.6,34.2 494.4,33 494.3,30.6 C494.2,28 497.0,26.2 502.0,25.9 L512.0,25.7 L516.0,25.7 L526.0,25.9 C531.0,26.2 533.8,28 533.7,30.6 C533.6,33 531.4,34.2 528.0,34.8 L516.0,37.6 Z" fill="#c6e2e2"/>
<path d="M513.1,24 L512.2,28 C510.8,44 509.0,64 507.8,82 L506.4,100 L506.4,109.6 L521.6,109.6 L521.6,100 L520.2,82 C519.0,64 517.2,44 515.8,28 L514.9,24 Z" fill="#c6e2e2"/>
<path d="M506.4,109.6 H521.6 V122.6 L520.0,124 V130 H508.0 V124 L506.4,122.6 Z" fill="#f9a21c" stroke="#161616" stroke-width="0.9"/>
<path d="M506.4,114 H521.6 M506.4,119.4 H521.6 M508.0,124 H520.0" stroke="#5a3a08" stroke-width="0.6"/>
<path d="M509.0,130 C509.2,133 511.4,136 514.0,136.6 C516.6,136 518.8,133 519.0,130 Z" fill="#1d3a30" stroke="#111" stroke-width="0.5"/>
<path d="M514.0,82.2 L507.6,82.2 L464.0,90.4 C457.0,91.8 450.6,94.4 450.6,98.6 C450.6,102.6 455.0,105 460.0,105.4 L507.0,108.8 L514.0,108.8 Z M514.0,82.2 L520.4,82.2 L564.0,90.4 C571.0,91.8 577.4,94.4 577.4,98.6 C577.4,102.6 573.0,105 568.0,105.4 L521.0,108.8 L514.0,108.8 Z" fill="none" stroke="#1c1c1c" stroke-width="0.5"/>
<path d="M512.0,37.6 L500.0,34.8 C496.6,34.2 494.4,33 494.3,30.6 C494.2,28 497.0,26.2 502.0,25.9 L512.0,25.7 L516.0,25.7 L526.0,25.9 C531.0,26.2 533.8,28 533.7,30.6 C533.6,33 531.4,34.2 528.0,34.8 L516.0,37.6 Z" fill="none" stroke="#1c1c1c" stroke-width="0.5"/>
<path d="M513.1,24 L512.2,28 C510.8,44 509.0,64 507.8,82 L506.4,100 L506.4,109.6 L521.6,109.6 L521.6,100 L520.2,82 C519.0,64 517.2,44 515.8,28 L514.9,24 Z" fill="none" stroke="#1c1c1c" stroke-width="0.5"/>
<path d="M458.6,92 V105 M569.4,92 V105 M492.0,86.4 V107.6 M536.0,86.4 V107.6 M458.6,94.8 L507.0,86.4 M569.4,94.8 L521.0,86.4 M458.6,103.2 L492.0,104.6 M569.4,103.2 L536.0,104.6 M510.8,84 V108 M517.2,84 V108 M514.0,21.4 V37.4 M497.4,29 L512.0,28.4 M530.6,29 L516.0,28.4 M497.4,29 V33.6 M530.6,29 V33.6" fill="none" stroke="#16242a" stroke-width="0.5" opacity="0.9"/>
<path d="M511.0,42 H517.0" stroke="#16242a" stroke-width="0.4" opacity="0.85"/>
<path d="M510.4,49 H517.6" stroke="#16242a" stroke-width="0.4" opacity="0.85"/>
<path d="M509.8,56 H518.2" stroke="#16242a" stroke-width="0.4" opacity="0.85"/>
<path d="M509.3,63 H518.7" stroke="#16242a" stroke-width="0.4" opacity="0.85"/>
<path d="M508.7,70 H519.3" stroke="#16242a" stroke-width="0.4" opacity="0.85"/>
<path d="M508.1,77 H519.9" stroke="#16242a" stroke-width="0.4" opacity="0.85"/>
<path d="M507.0,86.8 L484.0,90.6 L458.0,95.6" fill="none" stroke="#16242a" stroke-width="0.9"/>
<path d="M500.0,92.4 H483.0" stroke="#16242a" stroke-width="1.2"/>
<path d="M459.0,95.4 V104.6 L487.0,106 V91" fill="none" stroke="#16242a" stroke-width="0.7"/>
<path d="M467.5,94 V105 M481.0,91.4 V105.6" fill="none" stroke="#16242a" stroke-width="0.5"/>
<rect x="499.6" y="94" width="6" height="11" fill="#bcd8da" stroke="#16242a" stroke-width="0.6"/>
<circle cx="493.6" cy="102.4" r="3.7" fill="#18262c"/>
<circle cx="494.70000000000005" cy="102.4" r="2.9" fill="#d8ecec"/>
<path d="M496.20000000000005,100.4 C500.0,100.6 502.0,104 506.0,105.4 L506.4,107.4 C502.0,107.4 499.0,106 496.20000000000005,104.6 Z" fill="#e4f2f2" stroke="#16242a" stroke-width="0.7"/>
<path d="M521.0,86.8 L544.0,90.6 L570.0,95.6" fill="none" stroke="#16242a" stroke-width="0.9"/>
<path d="M528.0,92.4 H545.0" stroke="#16242a" stroke-width="1.2"/>
<path d="M569.0,95.4 V104.6 L541.0,106 V91" fill="none" stroke="#16242a" stroke-width="0.7"/>
<path d="M560.5,94 V105 M547.0,91.4 V105.6" fill="none" stroke="#16242a" stroke-width="0.5"/>
<rect x="522.4" y="94" width="6" height="11" fill="#bcd8da" stroke="#16242a" stroke-width="0.6"/>
<circle cx="534.4" cy="102.4" r="3.7" fill="#18262c"/>
<circle cx="533.3" cy="102.4" r="2.9" fill="#d8ecec"/>
<path d="M531.8,100.4 C528.0,100.6 526.0,104 522.0,105.4 L521.6,107.4 C526.0,107.4 529.0,106 531.8,104.6 Z" fill="#e4f2f2" stroke="#16242a" stroke-width="0.7"/>
<path d="M458.4,105 V110.6" stroke="#555" stroke-width="0.7"/>
<path d="M472.75,91.80 V95.15 H469.40 M477.65,91.80 V95.15 H481.00 M472.75,103.40 V100.05 H469.40 M477.65,103.40 V100.05 H481.00" fill="none" stroke="#fff" stroke-width="0.7"/><rect x="473.65" y="91.80" width="3.10" height="11.60" fill="#111"/><rect x="469.40" y="96.05" width="11.60" height="3.10" fill="#111"/>
<path d="M551.75,91.80 V95.15 H548.40 M556.65,91.80 V95.15 H560.00 M551.75,103.40 V100.05 H548.40 M556.65,103.40 V100.05 H560.00" fill="none" stroke="#fff" stroke-width="0.7"/><rect x="552.65" y="91.80" width="3.10" height="11.60" fill="#111"/><rect x="548.40" y="96.05" width="11.60" height="3.10" fill="#111"/>
</g>
<g transform="translate(0,0)">
<clipPath id="fc5"><path d="M47.6,21.4 Q57,36 64.5,46.4 C80,45.2 100,44.2 110,43.7 C125,42.6 140,41.6 150.6,41.4 L162,41.4 L187.5,41.4 L193.8,47.8 L210,48.9 C232,50.6 255,53.2 270,55.8 L270,78.3 C260,81 250,82.8 245,83.3 C240,84.2 235,84.4 231.7,84.2 C227,83.6 224,82.4 222,80 L217,76 L156,76.3 C146,76.3 138,75.9 130,75.3 C118,74.4 106,73 97.5,71.4 C85,68.8 62,64 37.6,58.2 L37.6,30.75 L46.4,23.25 Z"/></clipPath>
<path d="M47.6,21.4 Q57,36 64.5,46.4 C80,45.2 100,44.2 110,43.7 C125,42.6 140,41.6 150.6,41.4 L162,41.4 L187.5,41.4 L193.8,47.8 L210,48.9 C232,50.6 255,53.2 270,55.8 L270,78.3 C260,81 250,82.8 245,83.3 C240,84.2 235,84.4 231.7,84.2 C227,83.6 224,82.4 222,80 L217,76 L156,76.3 C146,76.3 138,75.9 130,75.3 C118,74.4 106,73 97.5,71.4 C85,68.8 62,64 37.6,58.2 L37.6,30.75 L46.4,23.25 Z" fill="#bfdbe0"/>
<g clip-path="url(#fc5)">
<g filter="url(#bl)">
<path d="M40,18 L70,44 L150,39 L210,46 L210,52 L150,46.4 L66,51 L40,34 Z" fill="#8ea9b8" opacity="0.7"/>
<ellipse cx="95.8" cy="50.8" rx="5.6" ry="1.9" fill="#7690a4" opacity="0.55" transform="rotate(-13 95.8 50.8)"/>
<ellipse cx="51.6" cy="62.2" rx="3.1" ry="2.6" fill="#7690a4" opacity="0.55" transform="rotate(-26 51.6 62.2)"/>
<ellipse cx="133.5" cy="47.9" rx="5.3" ry="3.5" fill="#7690a4" opacity="0.55" transform="rotate(8 133.5 47.9)"/>
<ellipse cx="107.8" cy="77.2" rx="3.2" ry="3.3" fill="#8fa9b9" opacity="0.55" transform="rotate(-8 107.8 77.2)"/>
<ellipse cx="131.8" cy="64.3" rx="5.2" ry="3.0" fill="#7690a4" opacity="0.55" transform="rotate(8 131.8 64.3)"/>
<ellipse cx="148.1" cy="57.9" rx="5.2" ry="1.9" fill="#7690a4" opacity="0.55" transform="rotate(12 148.1 57.9)"/>
<ellipse cx="124.4" cy="63.0" rx="6.1" ry="2.6" fill="#7a95a8" opacity="0.55" transform="rotate(-14 124.4 63.0)"/>
<ellipse cx="83.2" cy="51.8" rx="6.1" ry="1.9" fill="#8fa9b9" opacity="0.55" transform="rotate(3 83.2 51.8)"/>
<ellipse cx="187.3" cy="69.3" rx="4.2" ry="3.6" fill="#7690a4" opacity="0.55" transform="rotate(1 187.3 69.3)"/>
<ellipse cx="69.4" cy="56.9" rx="6.7" ry="2.6" fill="#7690a4" opacity="0.55" transform="rotate(26 69.4 56.9)"/>
<ellipse cx="137.1" cy="74.0" rx="4.3" ry="3.1" fill="#7a95a8" opacity="0.55" transform="rotate(8 137.1 74.0)"/>
<ellipse cx="117.7" cy="72.9" rx="6.8" ry="2.7" fill="#7690a4" opacity="0.55" transform="rotate(-44 117.7 72.9)"/>
<ellipse cx="158.4" cy="66.7" rx="7.0" ry="3.3" fill="#8fa9b9" opacity="0.55" transform="rotate(22 158.4 66.7)"/>
<ellipse cx="189.2" cy="57.1" rx="6.8" ry="2.4" fill="#7690a4" opacity="0.55" transform="rotate(-1 189.2 57.1)"/>
<ellipse cx="78.2" cy="55.2" rx="6.0" ry="2.5" fill="#7a95a8" opacity="0.55" transform="rotate(-42 78.2 55.2)"/>
<ellipse cx="116.6" cy="63.6" rx="6.5" ry="3.3" fill="#8fa9b9" opacity="0.55" transform="rotate(21 116.6 63.6)"/>
<ellipse cx="205.8" cy="67.8" rx="4.5" ry="2.2" fill="#7690a4" opacity="0.55" transform="rotate(-32 205.8 67.8)"/>
<ellipse cx="80.5" cy="53.5" rx="4.9" ry="2.9" fill="#8fa9b9" opacity="0.55" transform="rotate(-22 80.5 53.5)"/>
<ellipse cx="66.2" cy="63.1" rx="5.4" ry="2.4" fill="#839db0" opacity="0.55" transform="rotate(19 66.2 63.1)"/>
<ellipse cx="127.6" cy="65.8" rx="5.7" ry="1.9" fill="#7a95a8" opacity="0.55" transform="rotate(-10 127.6 65.8)"/>
<ellipse cx="107.4" cy="61.4" rx="4.6" ry="2.1" fill="#839db0" opacity="0.55" transform="rotate(-6 107.4 61.4)"/>
<ellipse cx="60.2" cy="65.2" rx="3.4" ry="2.8" fill="#7690a4" opacity="0.55" transform="rotate(45 60.2 65.2)"/>
<ellipse cx="143.9" cy="48.3" rx="3.8" ry="2.5" fill="#8fa9b9" opacity="0.55" transform="rotate(46 143.9 48.3)"/>
<ellipse cx="142.0" cy="61.2" rx="3.5" ry="2.7" fill="#7a95a8" opacity="0.55" transform="rotate(-2 142.0 61.2)"/>
<ellipse cx="93.8" cy="50.6" rx="6.0" ry="3.1" fill="#7a95a8" opacity="0.55" transform="rotate(33 93.8 50.6)"/>
<ellipse cx="68.8" cy="46.7" rx="6.8" ry="2.8" fill="#839db0" opacity="0.55" transform="rotate(19 68.8 46.7)"/>
<ellipse cx="193.7" cy="70.3" rx="4.2" ry="3.0" fill="#7690a4" opacity="0.55" transform="rotate(20 193.7 70.3)"/>
<ellipse cx="85.3" cy="57.7" rx="3.7" ry="3.2" fill="#8fa9b9" opacity="0.55" transform="rotate(14 85.3 57.7)"/>
<ellipse cx="143.8" cy="71.2" rx="6.0" ry="2.2" fill="#839db0" opacity="0.55" transform="rotate(32 143.8 71.2)"/>
<ellipse cx="164.8" cy="53.3" rx="5.1" ry="2.4" fill="#7690a4" opacity="0.55" transform="rotate(49 164.8 53.3)"/>
<ellipse cx="173.2" cy="61.1" rx="3.8" ry="2.9" fill="#8fa9b9" opacity="0.55" transform="rotate(-5 173.2 61.1)"/>
<ellipse cx="197.5" cy="77.6" rx="6.8" ry="2.5" fill="#839db0" opacity="0.55" transform="rotate(-40 197.5 77.6)"/>
<ellipse cx="120.0" cy="56.8" rx="4.9" ry="3.6" fill="#7690a4" opacity="0.55" transform="rotate(-2 120.0 56.8)"/>
<ellipse cx="150.4" cy="71.6" rx="3.3" ry="3.0" fill="#7a95a8" opacity="0.55" transform="rotate(28 150.4 71.6)"/>
<ellipse cx="166.5" cy="61.3" rx="3.7" ry="3.2" fill="#8fa9b9" opacity="0.55" transform="rotate(-41 166.5 61.3)"/>
<ellipse cx="199.1" cy="69.1" rx="4.9" ry="3.1" fill="#7690a4" opacity="0.55" transform="rotate(22 199.1 69.1)"/>
<ellipse cx="70.2" cy="50.1" rx="3.6" ry="3.4" fill="#839db0" opacity="0.55" transform="rotate(11 70.2 50.1)"/>
<ellipse cx="140.9" cy="61.2" rx="6.7" ry="2.1" fill="#839db0" opacity="0.55" transform="rotate(-48 140.9 61.2)"/>
<ellipse cx="174.7" cy="69.2" rx="3.4" ry="3.1" fill="#839db0" opacity="0.55" transform="rotate(-7 174.7 69.2)"/>
<ellipse cx="186.7" cy="72.4" rx="3.8" ry="2.3" fill="#8fa9b9" opacity="0.55" transform="rotate(0 186.7 72.4)"/>
<ellipse cx="168.8" cy="56.4" rx="5.2" ry="3.3" fill="#7690a4" opacity="0.55" transform="rotate(41 168.8 56.4)"/>
<ellipse cx="100.7" cy="60.7" rx="5.3" ry="3.4" fill="#7a95a8" opacity="0.55" transform="rotate(33 100.7 60.7)"/>
</g>
<path d="M37,30 L47.6,21 L65,47 L60,50 L37.6,50 Z" fill="#a3bcc6" opacity="0.9"/>
<path d="M193,46 L211,47 L211,58 C204,58 198,55 193,53 Z" fill="#8fa8b7"/>
</g>
<path d="M209.5,48.9 C232,50.6 255,53.2 270,55.8 L270,78.3 C260,81 250,82.8 245,83.3 C240,84.2 235,84.4 231.7,84.2 C227,83.6 224,82.4 222,80 L217,74 L212,66 L209.5,64 Z" fill="#f9a21c"/>
<path d="M47.6,21.4 C44,20.4 40,20.4 37,21 C34,21.4 32,22 30.75,22.6 C28,24.6 26,27 24.5,29.5 C22.4,33 21,36 20.1,39.5 C19.2,43 18.7,46 18.9,48.25 C19.4,51 20.4,52.6 22,53.9 C24.6,55.2 27.6,55.9 30.75,56.4 L37.6,58.2 L37.6,30.75 L46.4,23.25 Z" fill="#f9a21c"/>
<path d="M47.6,21.4 C44,20.4 40,20.4 37,21 C34,21.4 32,22 30.75,22.6 C28,24.6 26,27 24.5,29.5 C22.4,33 21,36 20.1,39.5 C19.2,43 18.7,46 18.9,48.25 C19.4,51 20.4,52.6 22,53.9 C24.6,55.2 27.6,55.9 30.75,56.4 L37.6,58.2 L37.6,30.75 L46.4,23.25 Z" fill="none" stroke="#1c1c1c" stroke-width="0.5"/>
<path d="M30.5,25.9 H37.6 M25,31.9 H35 M22.6,36.3 H35.4 M21.4,39.9 H37.6 M20.4,44 H35 M19.8,48.4 H35.4 M20.8,52.8 H35 M37.6,25.9 L35,31.9 L35.4,36.3 L37.6,39.9 M37.6,41 L35,44 L35.4,48.4 L35,52.8 L37.6,56.4 M37.6,30.75 V58" fill="none" stroke="#6b3d05" stroke-width="0.7"/>
<path d="M270,55.8 C277,56.6 283.5,60.4 286.2,66 C284.6,72.6 278,77.2 270,78.3 Z" fill="#1d3a30"/>
<path d="M270,55.8 C277,56.6 283.5,60.4 286.2,66 C282,63.6 276,62.6 270,63 Z" fill="#fff"/>
<path d="M270,55.8 C277,56.6 283.5,60.4 286.2,66 C284.6,72.6 278,77.2 270,78.3 Z" fill="none" stroke="#1c1c1c" stroke-width="0.5"/>
<path d="M47.6,21.4 Q57,36 64.5,46.4 C80,45.2 100,44.2 110,43.7 C125,42.6 140,41.6 150.6,41.4 L162,41.4 L187.5,41.4 L193.8,47.8 L210,48.9 C232,50.6 255,53.2 270,55.8 L270,78.3 C260,81 250,82.8 245,83.3 C240,84.2 235,84.4 231.7,84.2 C227,83.6 224,82.4 222,80 L217,76 L156,76.3 C146,76.3 138,75.9 130,75.3 C118,74.4 106,73 97.5,71.4 C85,68.8 62,64 37.6,58.2 L37.6,30.75 L46.4,23.25 Z" fill="none" stroke="#1c1c1c" stroke-width="0.5"/>
<path d="M56.6,45 V62 M69.5,46.2 V65 M80,45.3 V67.6 M96,44.4 V70 M124,42.8 V73.8 M138,41.8 V74.8 M152.8,41.4 V75.6 M209.6,48.9 V64 M270,55.8 V78.3" fill="none" stroke="#2c3c46" stroke-width="0.35" opacity="0.8"/>
<path d="M29.5,41.4 L57,41.2 L58,42.6 L30,43.2 Z" fill="#d4e2e4" stroke="#1c1c1c" stroke-width="0.45"/><path d="M30,43.6 L58,43.2" stroke="#223" stroke-width="0.5" opacity="0.7"/>
<ellipse cx="46.4" cy="60.9" rx="3" ry="1.7" fill="#111"/><path d="M48,61 L60,62.8" stroke="#111" stroke-width="0.9"/>
<path d="M53,50.6 H61" stroke="#182028" stroke-width="0.8"/><ellipse cx="49.4" cy="53.3" rx="2.8" ry="0.9" fill="#2a3640"/>
<path d="M217,70.3 H262" stroke="#1a1208" stroke-width="0.9"/>
<rect x="224" y="71" width="34.4" height="1.9" fill="#5a1a10"/><path d="M224,72 H258.4" stroke="#e23a2a" stroke-width="0.8" stroke-dasharray="1.5 0.7"/>
<path d="M226.4,70.4 V76 M257.8,70.4 V76 M247.6,66.6 V70.2" stroke="#1c1c1c" stroke-width="0.7" fill="none"/>
<path d="M224,80.6 C226,78.6 230,78 246,78.4 L246,83" fill="none" stroke="#5a3a08" stroke-width="0.45"/>
<path d="M234,51 V70 M260,54 V79.6" stroke="#5a3a08" stroke-width="0.45" fill="none" opacity="0.9"/>
<path d="M230.6,50.6 h4.6 v1 h-4.6 z" fill="#222"/>
<circle cx="265.4" cy="61.6" r="1.5" fill="none" stroke="#5a3a08" stroke-width="0.5"/><path d="M265.4,63 V67.4 M264,67.4 H266.8 M265.4,69 V71.6" stroke="#5a3a08" stroke-width="0.6"/>
<path d="M150.6,41.4 L162,41.6 L162,52.8 Z" fill="#cfe6ea" stroke="#1c1c1c" stroke-width="0.4"/>
<path d="M154,42 L162,41.6 L187.4,41.6 L193.6,48 L193.4,52.8 L162,52.8 Z" fill="#cde6ea"/>
<path d="M162,41.6 L187.4,41.6 L193.6,48 L193.4,52.8 L162,52.8 Z M172.4,41.6 V52.8 M182.6,41.6 V52.8 M187.4,41.6 L186,52.8 M186.6,47 L193.6,48" fill="none" stroke="#111" stroke-width="1.1" stroke-linejoin="round"/>
<path d="M152,76.6 C161,72.8 170,70.2 176.7,68.3 C184,66 190,64.6 195,64.25 C200,63.9 206,64.6 210,65.75 C214,68 217,72 219,78.3 C210,80.6 198,83.2 188,84 C178,84.2 170,82.4 163,80.4 C159,79.2 155,78 152,76.6 Z" fill="#c4dde2" stroke="#10181c" stroke-width="0.8"/>
<path d="M158,76.6 C170,71.6 186,67.6 197,66.2 L213.4,68.4 M160,78 C174,74 194,70.6 215,71.2 M163,79.6 C178,76.6 198,73.8 216.6,74.4 M168,81.4 C182,79.4 200,77 218,77.2 M175,83 C188,82 204,80.4 218.6,79.2 M176.7,68.3 L186,83.8 M195,64.4 L203,81.4 M186,66 L178,74" fill="none" stroke="#10181c" stroke-width="0.7"/>
<rect x="196.4" y="69.2" width="5" height="3.2" fill="#111"/><rect x="185.6" y="75" width="4" height="2.2" fill="#111"/><rect x="176" y="77.4" width="3" height="1.6" fill="#111"/>
<path d="M169,73.6 L193,70.4" stroke="#111" stroke-width="1.2"/><path d="M199,76 L212,75.6" stroke="#111" stroke-width="1"/>
<circle cx="203" cy="63.6" r="2" fill="#e8f2f4" stroke="#222" stroke-width="0.5"/><path d="M201.1,64.4 a2,2 0 0 0 3.8,0 z" fill="#a22"/>
<circle cx="143.8" cy="67.8" r="1.5" fill="#eef4f6" stroke="#333" stroke-width="0.45"/>
<path d="M152.8,41.4 L153.2,26.7" stroke="#1c1c1c" stroke-width="0.8"/>
<path d="M47.6,21.4 L153.2,26.7 M106.7,24.1 L110,43.6" stroke="#333" stroke-width="0.35" fill="none"/>
<rect x="101.90" y="44.15" width="16.20" height="26.30" fill="#111"/><rect x="96.85" y="49.20" width="26.30" height="16.20" fill="#111"/><rect x="103.00" y="44.15" width="14.00" height="26.30" fill="#fff"/><rect x="96.85" y="50.30" width="26.30" height="14.00" fill="#fff"/><rect x="106.90" y="44.15" width="6.20" height="26.30" fill="#111"/><rect x="96.85" y="54.20" width="26.30" height="6.20" fill="#111"/>
<g transform="translate(47.40,33.90) rotate(45) scale(-1,1)" fill="none" stroke="#111" stroke-width="1.52"><path d="M0,-3.80 V3.80 M-3.80,0 H3.80 M0,-3.80 H3.80 M3.80,0 V3.80 M0,3.80 H-3.80 M-3.80,0 V-3.80"/></g>
<rect x="74.7" y="57.9" width="13.8" height="1.9" fill="#111"/><rect x="126" y="57.9" width="11.6" height="1.9" fill="#111"/>
<path d="M143.4,50.4 L159.6,58.8 L143.4,67.2" fill="none" stroke="#fff" stroke-width="2.6"/>
<path d="M143.4,50.4 L159.6,58.8 L143.4,67.2" fill="none" stroke="#111" stroke-width="1.5"/>
<path d="M143.2,55.2 L150.4,58.8 L143.2,62.4 Z" fill="#111"/>
<circle cx="245.8" cy="61.3" r="4.8" fill="#9fd0e8" stroke="#247" stroke-width="0.5"/><circle cx="245.8" cy="61.3" r="3" fill="#f4e8e0"/><path d="M243.6,61.6 q2.2,-2.6 4.6,-0.4 q-1,2.6 -3.2,2.4 z" fill="#c33"/>
</g>
<g transform="translate(0,136) rotate(0.65 47 40)">
<clipPath id="fc6"><path d="M47.6,21.4 Q57,36 64.5,46.4 C80,45.2 100,44.2 110,43.7 C125,42.6 140,41.6 150.6,41.4 L162,41.4 L187.5,41.4 L193.8,47.8 L210,48.9 C232,50.6 255,53.2 270,55.8 L270,78.3 C260,81 250,82.8 245,83.3 C240,84.2 235,84.4 231.7,84.2 C227,83.6 224,82.4 222,80 L217,76 L156,76.3 C146,76.3 138,75.9 130,75.3 C118,74.4 106,73 97.5,71.4 C85,68.8 62,64 37.6,58.2 L37.6,30.75 L46.4,23.25 Z"/></clipPath>
<path d="M47.6,21.4 Q57,36 64.5,46.4 C80,45.2 100,44.2 110,43.7 C125,42.6 140,41.6 150.6,41.4 L162,41.4 L187.5,41.4 L193.8,47.8 L210,48.9 C232,50.6 255,53.2 270,55.8 L270,78.3 C260,81 250,82.8 245,83.3 C240,84.2 235,84.4 231.7,84.2 C227,83.6 224,82.4 222,80 L217,76 L156,76.3 C146,76.3 138,75.9 130,75.3 C118,74.4 106,73 97.5,71.4 C85,68.8 62,64 37.6,58.2 L37.6,30.75 L46.4,23.25 Z" fill="#bfdbe0"/>
<g clip-path="url(#fc6)">
<ellipse cx="37.1" cy="40.5" rx="3.6" ry="2.8" fill="none" stroke="#86aac4" stroke-width="1.15" opacity="0.9"/>
<ellipse cx="45.4" cy="40.6" rx="3.0" ry="3.1" fill="none" stroke="#86aac4" stroke-width="1.15" opacity="0.9"/>
<ellipse cx="53.8" cy="40.7" rx="2.9" ry="3.3" fill="none" stroke="#86aac4" stroke-width="1.15" opacity="0.9"/>
<ellipse cx="70.3" cy="39.2" rx="3.4" ry="2.7" fill="none" stroke="#86aac4" stroke-width="1.15" opacity="0.9"/>
<ellipse cx="78.4" cy="39.1" rx="2.8" ry="2.8" fill="none" stroke="#86aac4" stroke-width="1.15" opacity="0.9"/>
<ellipse cx="102.4" cy="39.1" rx="3.3" ry="2.7" fill="none" stroke="#86aac4" stroke-width="1.15" opacity="0.9"/>
<ellipse cx="109.0" cy="40.9" rx="2.9" ry="3.0" fill="none" stroke="#86aac4" stroke-width="1.15" opacity="0.9"/>
<ellipse cx="117.3" cy="40.7" rx="2.8" ry="3.3" fill="none" stroke="#86aac4" stroke-width="1.15" opacity="0.9"/>
<ellipse cx="125.0" cy="39.5" rx="3.4" ry="2.7" fill="none" stroke="#86aac4" stroke-width="1.15" opacity="0.9"/>
<ellipse cx="134.1" cy="39.0" rx="3.4" ry="3.0" fill="none" stroke="#86aac4" stroke-width="1.15" opacity="0.9"/>
<ellipse cx="141.9" cy="40.0" rx="3.3" ry="2.7" fill="none" stroke="#86aac4" stroke-width="1.15" opacity="0.9"/>
<ellipse cx="159.1" cy="39.0" rx="3.4" ry="3.1" fill="none" stroke="#86aac4" stroke-width="1.15" opacity="0.9"/>
<ellipse cx="173.8" cy="39.6" rx="3.6" ry="2.8" fill="none" stroke="#86aac4" stroke-width="1.15" opacity="0.9"/>
<ellipse cx="181.5" cy="39.3" rx="3.2" ry="2.8" fill="none" stroke="#86aac4" stroke-width="1.15" opacity="0.9"/>
<ellipse cx="189.7" cy="38.9" rx="3.7" ry="3.1" fill="none" stroke="#86aac4" stroke-width="1.15" opacity="0.9"/>
<ellipse cx="197.5" cy="41.0" rx="3.0" ry="2.6" fill="none" stroke="#86aac4" stroke-width="1.15" opacity="0.9"/>
<ellipse cx="205.2" cy="39.3" rx="3.6" ry="2.8" fill="none" stroke="#86aac4" stroke-width="1.15" opacity="0.9"/>
<ellipse cx="49.5" cy="47.6" rx="3.3" ry="3.1" fill="none" stroke="#86aac4" stroke-width="1.15" opacity="0.9"/>
<ellipse cx="59.1" cy="47.6" rx="3.5" ry="2.9" fill="none" stroke="#86aac4" stroke-width="1.15" opacity="0.9"/>
<ellipse cx="65.7" cy="48.1" rx="3.5" ry="2.9" fill="none" stroke="#86aac4" stroke-width="1.15" opacity="0.9"/>
<ellipse cx="75.0" cy="47.3" rx="3.6" ry="3.0" fill="none" stroke="#86aac4" stroke-width="1.15" opacity="0.9"/>
<ellipse cx="81.6" cy="46.4" rx="2.9" ry="3.2" fill="none" stroke="#86aac4" stroke-width="1.15" opacity="0.9"/>
<ellipse cx="89.1" cy="46.4" rx="3.2" ry="2.9" fill="none" stroke="#86aac4" stroke-width="1.15" opacity="0.9"/>
<ellipse cx="98.7" cy="46.4" rx="3.1" ry="2.7" fill="none" stroke="#86aac4" stroke-width="1.15" opacity="0.9"/>
<ellipse cx="105.3" cy="46.2" rx="2.8" ry="3.1" fill="none" stroke="#86aac4" stroke-width="1.15" opacity="0.9"/>
<ellipse cx="113.3" cy="47.4" rx="3.1" ry="3.3" fill="none" stroke="#86aac4" stroke-width="1.15" opacity="0.9"/>
<ellipse cx="122.4" cy="47.1" rx="3.1" ry="2.8" fill="none" stroke="#86aac4" stroke-width="1.15" opacity="0.9"/>
<ellipse cx="162.8" cy="48.0" rx="3.5" ry="2.8" fill="none" stroke="#86aac4" stroke-width="1.15" opacity="0.9"/>
<ellipse cx="169.1" cy="46.7" rx="2.7" ry="3.0" fill="none" stroke="#86aac4" stroke-width="1.15" opacity="0.9"/>
<ellipse cx="178.7" cy="47.0" rx="3.0" ry="3.4" fill="none" stroke="#86aac4" stroke-width="1.15" opacity="0.9"/>
<ellipse cx="185.4" cy="47.4" rx="2.7" ry="3.4" fill="none" stroke="#86aac4" stroke-width="1.15" opacity="0.9"/>
<ellipse cx="203.0" cy="47.9" rx="3.1" ry="2.9" fill="none" stroke="#86aac4" stroke-width="1.15" opacity="0.9"/>
<ellipse cx="39.0" cy="52.9" rx="3.7" ry="3.2" fill="none" stroke="#86aac4" stroke-width="1.15" opacity="0.9"/>
<ellipse cx="46.5" cy="55.1" rx="3.5" ry="3.0" fill="none" stroke="#86aac4" stroke-width="1.15" opacity="0.9"/>
<ellipse cx="55.0" cy="53.0" rx="3.3" ry="3.2" fill="none" stroke="#86aac4" stroke-width="1.15" opacity="0.9"/>
<ellipse cx="69.8" cy="53.3" rx="3.6" ry="3.0" fill="none" stroke="#86aac4" stroke-width="1.15" opacity="0.9"/>
<ellipse cx="77.7" cy="54.0" rx="2.9" ry="2.8" fill="none" stroke="#86aac4" stroke-width="1.15" opacity="0.9"/>
<ellipse cx="85.4" cy="54.9" rx="2.8" ry="3.3" fill="none" stroke="#86aac4" stroke-width="1.15" opacity="0.9"/>
<ellipse cx="94.1" cy="52.9" rx="3.4" ry="3.1" fill="none" stroke="#86aac4" stroke-width="1.15" opacity="0.9"/>
<ellipse cx="102.7" cy="53.8" rx="3.4" ry="3.1" fill="none" stroke="#86aac4" stroke-width="1.15" opacity="0.9"/>
<ellipse cx="110.5" cy="53.2" rx="3.4" ry="2.9" fill="none" stroke="#86aac4" stroke-width="1.15" opacity="0.9"/>
<ellipse cx="118.2" cy="53.9" rx="3.0" ry="3.0" fill="none" stroke="#86aac4" stroke-width="1.15" opacity="0.9"/>
<ellipse cx="126.8" cy="53.5" rx="3.3" ry="2.7" fill="none" stroke="#86aac4" stroke-width="1.15" opacity="0.9"/>
<ellipse cx="142.1" cy="53.2" rx="3.4" ry="3.0" fill="none" stroke="#86aac4" stroke-width="1.15" opacity="0.9"/>
<ellipse cx="157.2" cy="54.7" rx="3.2" ry="2.7" fill="none" stroke="#86aac4" stroke-width="1.15" opacity="0.9"/>
<ellipse cx="173.5" cy="53.8" rx="3.3" ry="2.9" fill="none" stroke="#86aac4" stroke-width="1.15" opacity="0.9"/>
<ellipse cx="181.6" cy="54.8" rx="3.1" ry="3.3" fill="none" stroke="#86aac4" stroke-width="1.15" opacity="0.9"/>
<ellipse cx="191.2" cy="53.8" rx="3.0" ry="3.3" fill="none" stroke="#86aac4" stroke-width="1.15" opacity="0.9"/>
<ellipse cx="197.2" cy="53.3" rx="2.8" ry="3.3" fill="none" stroke="#86aac4" stroke-width="1.15" opacity="0.9"/>
<ellipse cx="205.3" cy="53.7" rx="2.8" ry="3.2" fill="none" stroke="#86aac4" stroke-width="1.15" opacity="0.9"/>
<ellipse cx="41.9" cy="61.6" rx="2.8" ry="3.3" fill="none" stroke="#86aac4" stroke-width="1.15" opacity="0.9"/>
<ellipse cx="50.8" cy="60.4" rx="2.9" ry="3.0" fill="none" stroke="#86aac4" stroke-width="1.15" opacity="0.9"/>
<ellipse cx="58.6" cy="60.7" rx="2.8" ry="3.3" fill="none" stroke="#86aac4" stroke-width="1.15" opacity="0.9"/>
<ellipse cx="66.3" cy="61.8" rx="3.4" ry="2.7" fill="none" stroke="#86aac4" stroke-width="1.15" opacity="0.9"/>
<ellipse cx="81.1" cy="60.9" rx="3.1" ry="2.7" fill="none" stroke="#86aac4" stroke-width="1.15" opacity="0.9"/>
<ellipse cx="90.4" cy="62.1" rx="3.6" ry="2.9" fill="none" stroke="#86aac4" stroke-width="1.15" opacity="0.9"/>
<ellipse cx="106.7" cy="61.3" rx="3.2" ry="2.6" fill="none" stroke="#86aac4" stroke-width="1.15" opacity="0.9"/>
<ellipse cx="112.9" cy="60.7" rx="2.8" ry="3.0" fill="none" stroke="#86aac4" stroke-width="1.15" opacity="0.9"/>
<ellipse cx="146.1" cy="62.1" rx="3.6" ry="2.7" fill="none" stroke="#86aac4" stroke-width="1.15" opacity="0.9"/>
<ellipse cx="155.1" cy="61.1" rx="3.0" ry="2.8" fill="none" stroke="#86aac4" stroke-width="1.15" opacity="0.9"/>
<ellipse cx="169.1" cy="60.4" rx="2.9" ry="2.8" fill="none" stroke="#86aac4" stroke-width="1.15" opacity="0.9"/>
<ellipse cx="177.4" cy="60.4" rx="3.4" ry="3.1" fill="none" stroke="#86aac4" stroke-width="1.15" opacity="0.9"/>
<ellipse cx="185.5" cy="62.0" rx="2.9" ry="3.4" fill="none" stroke="#86aac4" stroke-width="1.15" opacity="0.9"/>
<ellipse cx="200.8" cy="61.8" rx="3.2" ry="3.4" fill="none" stroke="#86aac4" stroke-width="1.15" opacity="0.9"/>
<ellipse cx="37.9" cy="67.4" rx="3.6" ry="3.0" fill="none" stroke="#86aac4" stroke-width="1.15" opacity="0.9"/>
<ellipse cx="55.0" cy="69.0" rx="3.6" ry="2.8" fill="none" stroke="#86aac4" stroke-width="1.15" opacity="0.9"/>
<ellipse cx="61.1" cy="68.3" rx="3.7" ry="2.9" fill="none" stroke="#86aac4" stroke-width="1.15" opacity="0.9"/>
<ellipse cx="69.8" cy="67.5" rx="3.2" ry="3.2" fill="none" stroke="#86aac4" stroke-width="1.15" opacity="0.9"/>
<ellipse cx="76.8" cy="67.6" rx="3.7" ry="3.0" fill="none" stroke="#86aac4" stroke-width="1.15" opacity="0.9"/>
<ellipse cx="85.9" cy="69.0" rx="3.1" ry="2.9" fill="none" stroke="#86aac4" stroke-width="1.15" opacity="0.9"/>
<ellipse cx="93.4" cy="68.5" rx="3.2" ry="3.1" fill="none" stroke="#86aac4" stroke-width="1.15" opacity="0.9"/>
<ellipse cx="102.6" cy="68.6" rx="3.6" ry="3.4" fill="none" stroke="#86aac4" stroke-width="1.15" opacity="0.9"/>
<ellipse cx="111.1" cy="68.5" rx="3.1" ry="3.3" fill="none" stroke="#86aac4" stroke-width="1.15" opacity="0.9"/>
<ellipse cx="117.9" cy="68.6" rx="3.1" ry="2.6" fill="none" stroke="#86aac4" stroke-width="1.15" opacity="0.9"/>
<ellipse cx="126.6" cy="67.5" rx="3.4" ry="3.3" fill="none" stroke="#86aac4" stroke-width="1.15" opacity="0.9"/>
<ellipse cx="135.1" cy="68.4" rx="3.6" ry="2.6" fill="none" stroke="#86aac4" stroke-width="1.15" opacity="0.9"/>
<ellipse cx="150.2" cy="68.9" rx="2.7" ry="2.8" fill="none" stroke="#86aac4" stroke-width="1.15" opacity="0.9"/>
<ellipse cx="159.0" cy="66.9" rx="3.2" ry="2.8" fill="none" stroke="#86aac4" stroke-width="1.15" opacity="0.9"/>
<ellipse cx="166.9" cy="67.1" rx="3.7" ry="2.6" fill="none" stroke="#86aac4" stroke-width="1.15" opacity="0.9"/>
<ellipse cx="190.3" cy="68.8" rx="3.2" ry="2.6" fill="none" stroke="#86aac4" stroke-width="1.15" opacity="0.9"/>
<ellipse cx="198.8" cy="66.9" rx="3.1" ry="3.1" fill="none" stroke="#86aac4" stroke-width="1.15" opacity="0.9"/>
<ellipse cx="204.8" cy="68.3" rx="3.0" ry="2.6" fill="none" stroke="#86aac4" stroke-width="1.15" opacity="0.9"/>
<ellipse cx="42.5" cy="75.8" rx="3.0" ry="2.8" fill="none" stroke="#86aac4" stroke-width="1.15" opacity="0.9"/>
<ellipse cx="57.8" cy="75.9" rx="3.5" ry="3.0" fill="none" stroke="#86aac4" stroke-width="1.15" opacity="0.9"/>
<ellipse cx="66.7" cy="75.0" rx="3.2" ry="2.6" fill="none" stroke="#86aac4" stroke-width="1.15" opacity="0.9"/>
<ellipse cx="74.4" cy="74.6" rx="3.5" ry="3.0" fill="none" stroke="#86aac4" stroke-width="1.15" opacity="0.9"/>
<ellipse cx="89.8" cy="75.1" rx="3.1" ry="3.4" fill="none" stroke="#86aac4" stroke-width="1.15" opacity="0.9"/>
<ellipse cx="98.0" cy="76.2" rx="2.7" ry="2.6" fill="none" stroke="#86aac4" stroke-width="1.15" opacity="0.9"/>
<ellipse cx="114.6" cy="75.3" rx="3.1" ry="2.7" fill="none" stroke="#86aac4" stroke-width="1.15" opacity="0.9"/>
<ellipse cx="137.5" cy="75.9" rx="3.3" ry="3.1" fill="none" stroke="#86aac4" stroke-width="1.15" opacity="0.9"/>
<ellipse cx="154.1" cy="76.1" rx="3.6" ry="3.3" fill="none" stroke="#86aac4" stroke-width="1.15" opacity="0.9"/>
<ellipse cx="177.0" cy="75.3" rx="3.6" ry="2.8" fill="none" stroke="#86aac4" stroke-width="1.15" opacity="0.9"/>
<ellipse cx="185.1" cy="75.0" rx="3.5" ry="2.8" fill="none" stroke="#86aac4" stroke-width="1.15" opacity="0.9"/>
<ellipse cx="193.5" cy="74.5" rx="2.8" ry="3.0" fill="none" stroke="#86aac4" stroke-width="1.15" opacity="0.9"/>
<ellipse cx="202.8" cy="75.5" rx="3.2" ry="2.7" fill="none" stroke="#86aac4" stroke-width="1.15" opacity="0.9"/>
<path d="M37,30 L47.6,21 L65,47 L60,49 L37.6,45 Z" fill="#dbe9ee"/>
<rect x="82.5" y="40" width="13" height="32" fill="#f9a21c"/>
<line x1="89" y1="40" x2="89" y2="72" stroke="#c77f10" stroke-width="0.4"/>
</g>
<path d="M209.5,48.9 C232,50.6 255,53.2 270,55.8 L270,78.3 C260,81 250,82.8 245,83.3 C240,84.2 235,84.4 231.7,84.2 C227,83.6 224,82.4 222,80 L217,74 L212,66 L209.5,64 Z" fill="#f9a21c"/>
<clipPath id="fc6c"><path d="M209.5,48.9 C232,50.6 255,53.2 270,55.8 L270,70 L209.5,70 Z"/></clipPath>
<g clip-path="url(#fc6c)">
<rect x="209" y="48" width="62" height="22" fill="#a98c2e"/>
<circle cx="238.3" cy="65.0" r="0.9" fill="#6a6a30"/>
<circle cx="226.8" cy="55.7" r="1.5" fill="#7d722c"/>
<circle cx="215.1" cy="61.5" r="1.7" fill="#7d722c"/>
<circle cx="265.9" cy="64.8" r="1.4" fill="#7d722c"/>
<circle cx="252.6" cy="66.0" r="1.3" fill="#6a6a30"/>
<circle cx="234.8" cy="66.3" r="1.0" fill="#d9a52a"/>
<circle cx="240.0" cy="55.7" r="1.1" fill="#7d722c"/>
<circle cx="263.8" cy="58.4" r="1.7" fill="#565c2e"/>
<circle cx="261.4" cy="65.0" r="1.4" fill="#565c2e"/>
<circle cx="238.3" cy="64.6" r="1.3" fill="#565c2e"/>
<circle cx="238.0" cy="65.8" r="1.1" fill="#7d722c"/>
<circle cx="237.2" cy="64.4" r="1.8" fill="#d9a52a"/>
<circle cx="244.7" cy="54.8" r="1.7" fill="#66642c"/>
<circle cx="262.8" cy="55.0" r="1.8" fill="#d9a52a"/>
<circle cx="223.1" cy="68.8" r="0.9" fill="#7d722c"/>
<circle cx="244.7" cy="66.6" r="1.7" fill="#66642c"/>
<circle cx="245.5" cy="69.6" r="1.6" fill="#d9a52a"/>
<circle cx="224.3" cy="63.7" r="1.4" fill="#7d722c"/>
<circle cx="212.3" cy="67.3" r="1.0" fill="#66642c"/>
<circle cx="244.1" cy="63.7" r="1.3" fill="#66642c"/>
<circle cx="220.2" cy="59.4" r="1.1" fill="#d9a52a"/>
<circle cx="222.2" cy="59.1" r="1.2" fill="#7d722c"/>
<circle cx="263.8" cy="54.6" r="1.1" fill="#d9a52a"/>
<circle cx="256.8" cy="58.1" r="1.2" fill="#7d722c"/>
<circle cx="225.2" cy="59.9" r="1.5" fill="#d9a52a"/>
<circle cx="214.5" cy="53.0" r="1.3" fill="#d9a52a"/>
<circle cx="227.0" cy="61.6" r="1.5" fill="#66642c"/>
<circle cx="249.8" cy="68.1" r="1.6" fill="#6a6a30"/>
<circle cx="269.8" cy="59.2" r="1.8" fill="#7d722c"/>
<circle cx="221.8" cy="56.8" r="1.7" fill="#66642c"/>
<circle cx="217.6" cy="63.9" r="1.2" fill="#565c2e"/>
<circle cx="257.8" cy="65.2" r="0.9" fill="#66642c"/>
<circle cx="233.4" cy="50.3" r="1.1" fill="#d9a52a"/>
<circle cx="218.6" cy="50.2" r="1.8" fill="#6a6a30"/>
<circle cx="218.8" cy="51.6" r="1.5" fill="#d9a52a"/>
<circle cx="216.4" cy="65.7" r="1.7" fill="#66642c"/>
<circle cx="219.5" cy="57.7" r="1.6" fill="#d9a52a"/>
<circle cx="256.8" cy="49.3" r="1.4" fill="#d9a52a"/>
<circle cx="235.8" cy="51.1" r="1.8" fill="#565c2e"/>
<circle cx="213.9" cy="49.6" r="1.6" fill="#565c2e"/>
<circle cx="252.7" cy="61.6" r="1.3" fill="#6a6a30"/>
<circle cx="258.9" cy="60.3" r="1.4" fill="#6a6a30"/>
<circle cx="213.8" cy="69.3" r="1.4" fill="#66642c"/>
<circle cx="212.8" cy="67.9" r="1.5" fill="#565c2e"/>
<circle cx="243.7" cy="53.9" r="1.0" fill="#66642c"/>
<circle cx="263.8" cy="54.1" r="1.5" fill="#d9a52a"/>
<circle cx="220.5" cy="55.0" r="1.8" fill="#7d722c"/>
<circle cx="244.1" cy="50.0" r="1.8" fill="#6a6a30"/>
<circle cx="216.3" cy="66.2" r="1.7" fill="#565c2e"/>
<circle cx="253.8" cy="51.5" r="1.3" fill="#6a6a30"/>
<circle cx="229.0" cy="68.2" r="1.8" fill="#7d722c"/>
<circle cx="241.8" cy="66.4" r="1.6" fill="#7d722c"/>
<circle cx="230.7" cy="69.7" r="0.9" fill="#7d722c"/>
<circle cx="241.1" cy="49.5" r="1.8" fill="#565c2e"/>
<circle cx="217.9" cy="50.2" r="1.1" fill="#66642c"/>
<circle cx="215.9" cy="64.8" r="1.1" fill="#565c2e"/>
<circle cx="217.0" cy="62.1" r="1.1" fill="#d9a52a"/>
<circle cx="247.6" cy="53.5" r="1.5" fill="#6a6a30"/>
<circle cx="214.9" cy="59.1" r="1.6" fill="#66642c"/>
<circle cx="254.0" cy="56.2" r="0.9" fill="#d9a52a"/>
<circle cx="210.5" cy="67.0" r="0.9" fill="#6a6a30"/>
<circle cx="232.7" cy="52.8" r="1.5" fill="#d9a52a"/>
<circle cx="261.5" cy="66.0" r="1.6" fill="#6a6a30"/>
<circle cx="263.5" cy="53.8" r="1.5" fill="#6a6a30"/>
<circle cx="260.2" cy="56.5" r="1.8" fill="#d9a52a"/>
<circle cx="217.1" cy="59.0" r="1.7" fill="#d9a52a"/>
<circle cx="229.3" cy="69.4" r="1.4" fill="#7d722c"/>
<circle cx="236.2" cy="68.0" r="1.2" fill="#565c2e"/>
<circle cx="233.1" cy="61.3" r="1.4" fill="#d9a52a"/>
<circle cx="230.6" cy="58.6" r="0.9" fill="#d9a52a"/>
<circle cx="213.5" cy="67.4" r="1.4" fill="#d9a52a"/>
<circle cx="232.2" cy="63.4" r="1.8" fill="#66642c"/>
<circle cx="219.4" cy="60.2" r="1.2" fill="#d9a52a"/>
<circle cx="251.3" cy="66.3" r="1.6" fill="#66642c"/>
<circle cx="211.1" cy="62.9" r="1.2" fill="#7d722c"/>
<circle cx="237.9" cy="67.3" r="1.3" fill="#7d722c"/>
<circle cx="237.5" cy="67.1" r="1.4" fill="#7d722c"/>
<circle cx="245.3" cy="51.9" r="1.5" fill="#7d722c"/>
<circle cx="227.6" cy="59.0" r="1.0" fill="#7d722c"/>
<circle cx="250.7" cy="52.5" r="1.6" fill="#6a6a30"/>
</g>
<path d="M172,70.6 C183,66.6 196,64.2 210,65.6 L214,68 L216,60 L200,59 C189,60 179,63 168,68 Z" fill="#f5a01c"/>
<path d="M47.6,21.4 C44,20.4 40,20.4 37,21 C34,21.4 32,22 30.75,22.6 C28,24.6 26,27 24.5,29.5 C22.4,33 21,36 20.1,39.5 C19.2,43 18.7,46 18.9,48.25 C19.4,51 20.4,52.6 22,53.9 C24.6,55.2 27.6,55.9 30.75,56.4 L37.6,58.2 L37.6,30.75 L46.4,23.25 Z" fill="#b8962e"/>
<clipPath id="fc6r"><path d="M47.6,21.4 C44,20.4 40,20.4 37,21 C34,21.4 32,22 30.75,22.6 C28,24.6 26,27 24.5,29.5 C22.4,33 21,36 20.1,39.5 C19.2,43 18.7,46 18.9,48.25 C19.4,51 20.4,52.6 22,53.9 C24.6,55.2 27.6,55.9 30.75,56.4 L37.6,58.2 L37.6,30.75 L46.4,23.25 Z"/></clipPath><g clip-path="url(#fc6r)">
<circle cx="44.0" cy="49.6" r="1.6" fill="#77702e"/>
<circle cx="25.8" cy="38.7" r="1.4" fill="#77702e"/>
<circle cx="32.2" cy="33.8" r="1.2" fill="#85762c"/>
<circle cx="34.9" cy="25.2" r="1.7" fill="#85762c"/>
<circle cx="38.7" cy="50.6" r="1.6" fill="#77702e"/>
<circle cx="39.3" cy="49.2" r="1.1" fill="#7a6f2c"/>
<circle cx="23.4" cy="55.3" r="1.0" fill="#e2ac2c"/>
<circle cx="35.5" cy="29.4" r="1.5" fill="#6a682e"/>
<circle cx="36.3" cy="48.1" r="1.2" fill="#7a6f2c"/>
<circle cx="38.8" cy="46.2" r="1.0" fill="#85762c"/>
<circle cx="43.8" cy="36.6" r="1.5" fill="#e2ac2c"/>
<circle cx="40.6" cy="45.4" r="1.2" fill="#77702e"/>
<circle cx="23.6" cy="50.7" r="1.8" fill="#7a6f2c"/>
<circle cx="24.4" cy="25.7" r="1.1" fill="#e2ac2c"/>
<circle cx="29.8" cy="26.7" r="1.3" fill="#77702e"/>
<circle cx="36.9" cy="31.8" r="1.0" fill="#7a6f2c"/>
<circle cx="19.9" cy="53.4" r="1.0" fill="#6a682e"/>
<circle cx="24.2" cy="46.2" r="1.0" fill="#77702e"/>
<circle cx="31.2" cy="38.0" r="1.4" fill="#7a6f2c"/>
<circle cx="37.5" cy="55.5" r="1.1" fill="#7a6f2c"/>
<circle cx="43.8" cy="26.5" r="1.6" fill="#7a6f2c"/>
<circle cx="42.4" cy="23.4" r="1.2" fill="#85762c"/>
<circle cx="40.2" cy="31.9" r="1.4" fill="#85762c"/>
<circle cx="42.5" cy="27.6" r="1.8" fill="#e2ac2c"/>
<circle cx="42.9" cy="47.8" r="1.4" fill="#85762c"/>
<circle cx="27.4" cy="30.1" r="1.3" fill="#6a682e"/>
<circle cx="29.7" cy="39.1" r="1.1" fill="#6a682e"/>
<circle cx="27.1" cy="30.1" r="1.7" fill="#e2ac2c"/>
<circle cx="43.3" cy="53.4" r="1.4" fill="#6a682e"/>
<circle cx="23.9" cy="51.3" r="1.5" fill="#6a682e"/>
<circle cx="38.5" cy="38.5" r="1.6" fill="#85762c"/>
<circle cx="35.4" cy="27.8" r="0.9" fill="#6a682e"/>
<circle cx="45.5" cy="30.5" r="1.2" fill="#6a682e"/>
<circle cx="45.6" cy="39.5" r="1.4" fill="#e2ac2c"/>
<circle cx="22.0" cy="56.2" r="1.7" fill="#e2ac2c"/>
<circle cx="28.8" cy="55.9" r="1.1" fill="#e2ac2c"/>
<circle cx="45.8" cy="24.7" r="1.6" fill="#7a6f2c"/>
<circle cx="28.5" cy="21.3" r="1.2" fill="#6a682e"/>
<circle cx="41.4" cy="44.2" r="1.2" fill="#77702e"/>
<circle cx="33.9" cy="56.5" r="1.2" fill="#6a682e"/>
<circle cx="32.3" cy="31.6" r="1.1" fill="#6a682e"/>
<circle cx="24.2" cy="37.1" r="0.9" fill="#7a6f2c"/>
<circle cx="27.7" cy="37.2" r="1.8" fill="#77702e"/>
<circle cx="34.6" cy="55.8" r="1.3" fill="#e2ac2c"/>
<circle cx="24.2" cy="31.7" r="1.0" fill="#6a682e"/>
<circle cx="38.3" cy="46.2" r="1.3" fill="#6a682e"/>
<circle cx="31.8" cy="51.2" r="1.1" fill="#6a682e"/>
<circle cx="37.7" cy="22.6" r="1.8" fill="#e2ac2c"/>
<circle cx="39.1" cy="36.2" r="1.7" fill="#6a682e"/>
<circle cx="30.9" cy="49.7" r="1.3" fill="#7a6f2c"/>
<circle cx="32.2" cy="29.1" r="1.8" fill="#6a682e"/>
<circle cx="26.0" cy="27.0" r="1.1" fill="#7a6f2c"/>
<circle cx="27.9" cy="50.7" r="1.8" fill="#6a682e"/>
<circle cx="44.9" cy="28.4" r="1.7" fill="#6a682e"/>
<circle cx="28.1" cy="49.9" r="1.8" fill="#e2ac2c"/>
<circle cx="30.9" cy="40.8" r="1.6" fill="#7a6f2c"/>
<circle cx="43.1" cy="25.3" r="1.3" fill="#e2ac2c"/>
<circle cx="22.3" cy="27.5" r="1.7" fill="#7a6f2c"/>
<circle cx="23.3" cy="26.2" r="1.4" fill="#e2ac2c"/>
<circle cx="23.0" cy="50.8" r="1.0" fill="#7a6f2c"/>
</g>
<path d="M47.6,21.4 C44,20.4 40,20.4 37,21 C34,21.4 32,22 30.75,22.6 C28,24.6 26,27 24.5,29.5 C22.4,33 21,36 20.1,39.5 C19.2,43 18.7,46 18.9,48.25 C19.4,51 20.4,52.6 22,53.9 C24.6,55.2 27.6,55.9 30.75,56.4 L37.6,58.2 L37.6,30.75 L46.4,23.25 Z" fill="none" stroke="#1c1c1c" stroke-width="0.5"/>
<path d="M30.5,25.9 H37.6 M25,31.9 H35 M22.6,36.3 H35.4 M21.4,39.9 H37.6 M20.4,44 H35 M19.8,48.4 H35.4 M20.8,52.8 H35 M37.6,25.9 L35,31.9 L35.4,36.3 L37.6,39.9 M37.6,41 L35,44 L35.4,48.4 L35,52.8 L37.6,56.4 M37.6,30.75 V58" fill="none" stroke="#4a3a10" stroke-width="0.7"/>
<path d="M270,55.8 C277,56.6 283.5,60.4 286.2,66 C284.6,72.6 278,77.2 270,78.3 Z" fill="#1d3a30"/>
<path d="M270,55.8 C274,56.2 277.4,57.4 280,59.2 L279.6,66 L270,66 Z" fill="#fff"/>
<path d="M270,55.8 C277,56.6 283.5,60.4 286.2,66 C284.6,72.6 278,77.2 270,78.3 Z" fill="none" stroke="#1c1c1c" stroke-width="0.5"/>
<path d="M47.6,21.4 Q57,36 64.5,46.4 C80,45.2 100,44.2 110,43.7 C125,42.6 140,41.6 150.6,41.4 L162,41.4 L187.5,41.4 L193.8,47.8 L210,48.9 C232,50.6 255,53.2 270,55.8 L270,78.3 C260,81 250,82.8 245,83.3 C240,84.2 235,84.4 231.7,84.2 C227,83.6 224,82.4 222,80 L217,76 L156,76.3 C146,76.3 138,75.9 130,75.3 C118,74.4 106,73 97.5,71.4 C85,68.8 62,64 37.6,58.2 L37.6,30.75 L46.4,23.25 Z" fill="none" stroke="#1c1c1c" stroke-width="0.5"/>
<path d="M56.6,45 V62 M69.5,46.2 V65 M80,45.3 V67.6 M96,44.4 V70 M124,42.8 V73.8 M138,41.8 V74.8 M152.8,41.4 V75.6 M209.6,48.9 V64 M270,55.8 V78.3" fill="none" stroke="#2c3c46" stroke-width="0.35" opacity="0.8"/>
<path d="M29.5,41.4 L57,41.2 L58,42.6 L30,43.2 Z" fill="#d4e2e4" stroke="#1c1c1c" stroke-width="0.45"/><path d="M30,43.6 L58,43.2" stroke="#223" stroke-width="0.5" opacity="0.7"/>
<ellipse cx="46.4" cy="60.9" rx="3" ry="1.7" fill="#111"/><path d="M48,61 L60,62.8" stroke="#111" stroke-width="0.9"/>
<path d="M53,50.6 H61" stroke="#182028" stroke-width="0.8"/><ellipse cx="49.4" cy="53.3" rx="2.8" ry="0.9" fill="#2a3640"/>
<path d="M217,70.3 H262" stroke="#1a1208" stroke-width="0.9"/>
<rect x="224" y="71" width="34.4" height="1.9" fill="#5a1a10"/><path d="M224,72 H258.4" stroke="#e23a2a" stroke-width="0.8" stroke-dasharray="1.5 0.7"/>
<path d="M226.4,70.4 V76 M257.8,70.4 V76 M247.6,66.6 V70.2" stroke="#1c1c1c" stroke-width="0.7" fill="none"/>
<path d="M224,80.6 C226,78.6 230,78 246,78.4 L246,83" fill="none" stroke="#5a3a08" stroke-width="0.45"/>
<path d="M234,51 V70 M260,54 V79.6" stroke="#5a3a08" stroke-width="0.45" fill="none" opacity="0.9"/>
<path d="M230.6,50.6 h4.6 v1 h-4.6 z" fill="#222"/>
<circle cx="265.4" cy="61.6" r="1.5" fill="none" stroke="#5a3a08" stroke-width="0.5"/><path d="M265.4,63 V67.4 M264,67.4 H266.8 M265.4,69 V71.6" stroke="#5a3a08" stroke-width="0.6"/>
<path d="M150.6,41.4 L162,41.6 L162,52.8 Z" fill="#cfe6ea" stroke="#1c1c1c" stroke-width="0.4"/>
<path d="M154,42 L162,41.6 L187.4,41.6 L193.6,48 L193.4,52.8 L162,52.8 Z" fill="#cde6ea"/>
<path d="M162,41.6 L187.4,41.6 L193.6,48 L193.4,52.8 L162,52.8 Z M172.4,41.6 V52.8 M182.6,41.6 V52.8 M187.4,41.6 L186,52.8 M186.6,47 L193.6,48" fill="none" stroke="#111" stroke-width="1.1" stroke-linejoin="round"/>
<path d="M152,76.6 C161,72.8 170,70.2 176.7,68.3 C184,66 190,64.6 195,64.25 C200,63.9 206,64.6 210,65.75 C214,68 217,72 219,78.3 C210,80.6 198,83.2 188,84 C178,84.2 170,82.4 163,80.4 C159,79.2 155,78 152,76.6 Z" fill="#c4dde2" stroke="#10181c" stroke-width="0.8"/>
<path d="M158,76.6 C170,71.6 186,67.6 197,66.2 L213.4,68.4 M160,78 C174,74 194,70.6 215,71.2 M163,79.6 C178,76.6 198,73.8 216.6,74.4 M168,81.4 C182,79.4 200,77 218,77.2 M175,83 C188,82 204,80.4 218.6,79.2 M176.7,68.3 L186,83.8 M195,64.4 L203,81.4 M186,66 L178,74" fill="none" stroke="#10181c" stroke-width="0.7"/>
<rect x="196.4" y="69.2" width="5" height="3.2" fill="#111"/><rect x="185.6" y="75" width="4" height="2.2" fill="#111"/><rect x="176" y="77.4" width="3" height="1.6" fill="#111"/>
<path d="M169,73.6 L193,70.4" stroke="#111" stroke-width="1.2"/><path d="M199,76 L212,75.6" stroke="#111" stroke-width="1"/>
<circle cx="203" cy="63.6" r="2" fill="#e8f2f4" stroke="#222" stroke-width="0.5"/><path d="M201.1,64.4 a2,2 0 0 0 3.8,0 z" fill="#a22"/>
<circle cx="143.8" cy="67.8" r="1.5" fill="#eef4f6" stroke="#333" stroke-width="0.45"/>
<path d="M152.8,41.4 L153.2,26.7" stroke="#1c1c1c" stroke-width="0.8"/>
<path d="M47.6,21.4 L153.2,26.7 M106.7,24.1 L110,43.6" stroke="#333" stroke-width="0.35" fill="none"/>
<rect x="101.90" y="44.15" width="16.20" height="26.30" fill="#111"/><rect x="96.85" y="49.20" width="26.30" height="16.20" fill="#111"/><rect x="103.00" y="44.15" width="14.00" height="26.30" fill="#fff"/><rect x="96.85" y="50.30" width="26.30" height="14.00" fill="#fff"/><rect x="106.90" y="44.15" width="6.20" height="26.30" fill="#111"/><rect x="96.85" y="54.20" width="26.30" height="6.20" fill="#111"/>
<g transform="translate(47.40,33.90) rotate(45) scale(-1,1)" fill="none" stroke="#111" stroke-width="1.52"><path d="M0,-3.80 V3.80 M-3.80,0 H3.80 M0,-3.80 H3.80 M3.80,0 V3.80 M0,3.80 H-3.80 M-3.80,0 V-3.80"/></g>
<path d="M128,189.4 L137.4,194.4 L128,199.6 Z" transform="translate(0,-136)" fill="none" stroke="#111" stroke-width="1.2"/>
<path d="M147.4,189.2 L157.2,194.4 L147.4,199.8" transform="translate(0,-136)" fill="none" stroke="#111" stroke-width="1.3"/>
<rect x="183" y="56.6" width="9.6" height="9.6" fill="#e02418" stroke="#611" stroke-width="0.4"/><path d="M186.4,64.8 v-4 q1.6,-3 3,0 v4 z" fill="#221"/>
<path d="M235.4,64.6 q1.6,-6 6.4,-3.4 q3,2.4 6.4,-1.4 q1.8,3 -1.6,5.6 q-4,2.4 -7,-0.4 q-2,-1.8 -4.2,-0.4 z" fill="#19d656" stroke="#0a8a30" stroke-width="0.4"/><path d="M241,64 q1.6,3 4.6,1.6" fill="none" stroke="#0a8a30" stroke-width="0.5"/><path d="M248.6,61.4 l7.4,-0.8 l-7,2.6 z" fill="#f03a1a"/>
</g>
<g transform="translate(0,251) rotate(0.45 47 40)">
<clipPath id="fc7"><path d="M47.6,21.4 Q57,36 64.5,46.4 C80,45.2 100,44.2 110,43.7 C125,42.6 140,41.6 150.6,41.4 L162,41.4 L187.5,41.4 L193.8,47.8 L210,48.9 C232,50.6 255,53.2 270,55.8 L270,78.3 C260,81 250,82.8 245,83.3 C240,84.2 235,84.4 231.7,84.2 C227,83.6 224,82.4 222,80 L217,76 L156,76.3 C146,76.3 138,75.9 130,75.3 C118,74.4 106,73 97.5,71.4 C85,68.8 62,64 37.6,58.2 L37.6,30.75 L46.4,23.25 Z"/></clipPath>
<path d="M47.6,21.4 Q57,36 64.5,46.4 C80,45.2 100,44.2 110,43.7 C125,42.6 140,41.6 150.6,41.4 L162,41.4 L187.5,41.4 L193.8,47.8 L210,48.9 C232,50.6 255,53.2 270,55.8 L270,78.3 C260,81 250,82.8 245,83.3 C240,84.2 235,84.4 231.7,84.2 C227,83.6 224,82.4 222,80 L217,76 L156,76.3 C146,76.3 138,75.9 130,75.3 C118,74.4 106,73 97.5,71.4 C85,68.8 62,64 37.6,58.2 L37.6,30.75 L46.4,23.25 Z" fill="#2f744a"/>
<g clip-path="url(#fc7)">
<path d="M37,56 C60,60.6 85,66.4 100,69.6 C115,72.2 135,73.4 157,73.8 L157,79 L37,61 Z" fill="#bfdbe0"/>
<path d="M36,20 L48,20 L70,47 L70,66 L36,58 Z" fill="#25713f"/>
<g filter="url(#b2)">
<path d="M70.0,46.1 Q71.4,54.2 73.0,62.4 T76.0,78.6" fill="none" stroke="#70482a" stroke-width="4.1" stroke-linecap="round"/>
<path d="M81.0,40.9 Q82.4,50.1 84.0,59.3 T87.0,77.7" fill="none" stroke="#70482a" stroke-width="3.5" stroke-linecap="round"/>
<path d="M91.0,45.9 Q92.6,52.8 93.0,59.7 T95.0,73.4" fill="none" stroke="#70482a" stroke-width="3.5" stroke-linecap="round"/>
<path d="M122.0,45.9 Q123.6,53.1 124.0,60.3 T126.0,74.7" fill="none" stroke="#70482a" stroke-width="3.7" stroke-linecap="round"/>
<path d="M132.0,40.7 Q133.6,50.5 134.0,60.3 T136.0,79.8" fill="none" stroke="#70482a" stroke-width="5.2" stroke-linecap="round"/>
<path d="M146.0,41.6 Q148.6,50.3 143.0,58.9 T140.0,76.1" fill="none" stroke="#70482a" stroke-width="3.9" stroke-linecap="round"/>
<path d="M151.0,41.7 Q152.6,49.8 153.0,57.9 T155.0,74.2" fill="none" stroke="#70482a" stroke-width="6.5" stroke-linecap="round"/>
<path d="M158.0,46.7 Q159.4,54.1 161.0,61.6 T164.0,76.4" fill="none" stroke="#70482a" stroke-width="6.5" stroke-linecap="round"/>
<path d="M169.0,46.4 Q170.6,53.8 171.0,61.3 T173.0,76.2" fill="none" stroke="#70482a" stroke-width="3.5" stroke-linecap="round"/>
<path d="M179.0,46.9 Q180.4,53.6 182.0,60.2 T185.0,73.5" fill="none" stroke="#70482a" stroke-width="4.7" stroke-linecap="round"/>
<path d="M192.0,43.5 Q193.6,51.7 194.0,59.9 T196.0,76.3" fill="none" stroke="#70482a" stroke-width="3.6" stroke-linecap="round"/>
<path d="M207.0,41.8 Q209.4,51.2 205.0,60.7 T203.0,79.6" fill="none" stroke="#70482a" stroke-width="4.5" stroke-linecap="round"/>
<path d="M218.0,44.6 Q220.4,52.2 216.0,59.9 T214.0,75.2" fill="none" stroke="#70482a" stroke-width="3.8" stroke-linecap="round"/>
<path d="M229.0,47.8 Q231.4,53.4 227.0,58.9 T225.0,70.1" fill="none" stroke="#70482a" stroke-width="5.1" stroke-linecap="round"/>
<path d="M240.0,44.5 Q242.4,51.0 238.0,57.6 T236.0,70.6" fill="none" stroke="#70482a" stroke-width="5.0" stroke-linecap="round"/>
<path d="M252.0,41.5 Q254.4,48.9 250.0,56.2 T248.0,70.8" fill="none" stroke="#70482a" stroke-width="3.4" stroke-linecap="round"/>
<path d="M263.0,40.8 Q265.4,49.6 261.0,58.4 T259.0,76.0" fill="none" stroke="#70482a" stroke-width="4.6" stroke-linecap="round"/>
<path d="M80.0,47.2 Q82.4,52.4 78.0,57.6 T76.0,68.1" fill="none" stroke="#9fd6ae" stroke-width="1.6" stroke-linecap="round" opacity="0.9"/>
<path d="M87.0,42.9 Q89.4,51.2 89.0,59.4 T91.0,76.0" fill="none" stroke="#9fd6ae" stroke-width="1.6" stroke-linecap="round" opacity="0.9"/>
<path d="M100.0,45.6 Q102.4,51.7 98.0,57.8 T96.0,70.1" fill="none" stroke="#9fd6ae" stroke-width="1.6" stroke-linecap="round" opacity="0.9"/>
<path d="M100.0,44.1 Q102.4,50.4 103.0,56.7 T106.0,69.3" fill="none" stroke="#9fd6ae" stroke-width="1.6" stroke-linecap="round" opacity="0.9"/>
<path d="M116.0,49.7 Q118.4,56.3 119.0,62.8 T122.0,76.0" fill="none" stroke="#9fd6ae" stroke-width="1.6" stroke-linecap="round" opacity="0.9"/>
<path d="M127.0,47.7 Q129.4,53.1 129.0,58.6 T131.0,69.5" fill="none" stroke="#9fd6ae" stroke-width="1.6" stroke-linecap="round" opacity="0.9"/>
<path d="M142.0,42.5 Q144.4,49.8 139.0,57.2 T136.0,71.9" fill="none" stroke="#9fd6ae" stroke-width="1.6" stroke-linecap="round" opacity="0.9"/>
<path d="M150.0,48.9 Q152.4,53.7 148.0,58.5 T146.0,68.2" fill="none" stroke="#9fd6ae" stroke-width="1.6" stroke-linecap="round" opacity="0.9"/>
<path d="M169.0,47.1 Q171.4,54.7 166.0,62.4 T163.0,77.6" fill="none" stroke="#9fd6ae" stroke-width="1.6" stroke-linecap="round" opacity="0.9"/>
<path d="M173.0,45.9 Q175.4,51.9 176.0,58.0 T179.0,70.0" fill="none" stroke="#9fd6ae" stroke-width="1.6" stroke-linecap="round" opacity="0.9"/>
<path d="M191.0,49.8 Q193.4,54.9 188.0,60.1 T185.0,70.3" fill="none" stroke="#9fd6ae" stroke-width="1.6" stroke-linecap="round" opacity="0.9"/>
<path d="M201.0,45.9 Q203.4,52.0 199.0,58.1 T197.0,70.2" fill="none" stroke="#9fd6ae" stroke-width="1.6" stroke-linecap="round" opacity="0.9"/>
<path d="M213.0,44.8 Q215.4,53.1 210.0,61.3 T207.0,77.9" fill="none" stroke="#9fd6ae" stroke-width="1.6" stroke-linecap="round" opacity="0.9"/>
<path d="M224.0,46.7 Q226.4,53.4 221.0,60.1 T218.0,73.5" fill="none" stroke="#9fd6ae" stroke-width="1.6" stroke-linecap="round" opacity="0.9"/>
<path d="M229.0,43.1 Q231.4,50.4 232.0,57.7 T235.0,72.3" fill="none" stroke="#9fd6ae" stroke-width="1.6" stroke-linecap="round" opacity="0.9"/>
<path d="M241.0,49.4 Q243.4,54.3 244.0,59.3 T247.0,69.1" fill="none" stroke="#9fd6ae" stroke-width="1.6" stroke-linecap="round" opacity="0.9"/>
<path d="M253.0,49.6 Q255.4,54.5 255.0,59.5 T257.0,69.3" fill="none" stroke="#9fd6ae" stroke-width="1.6" stroke-linecap="round" opacity="0.9"/>
<path d="M264.0,46.4 Q266.4,52.9 266.0,59.4 T268.0,72.4" fill="none" stroke="#9fd6ae" stroke-width="1.6" stroke-linecap="round" opacity="0.9"/>
</g>
</g>
<path d="M224,72.6 L270,72.6 L270,78.3 C260,81 250,82.8 245,83.3 C240,84.2 235,84.4 231.7,84.2 C227,83.6 224.6,82.4 223.4,80.6 Z" fill="#f9a21c"/>
<path d="M47.6,21.4 C44,20.4 40,20.4 37,21 C34,21.4 32,22 30.75,22.6 C28,24.6 26,27 24.5,29.5 C22.4,33 21,36 20.1,39.5 C19.2,43 18.7,46 18.9,48.25 C19.4,51 20.4,52.6 22,53.9 C24.6,55.2 27.6,55.9 30.75,56.4 L37.6,58.2 L37.6,30.75 L46.4,23.25 Z" fill="#2f744a"/>
<clipPath id="fc7r"><path d="M47.6,21.4 C44,20.4 40,20.4 37,21 C34,21.4 32,22 30.75,22.6 C28,24.6 26,27 24.5,29.5 C22.4,33 21,36 20.1,39.5 C19.2,43 18.7,46 18.9,48.25 C19.4,51 20.4,52.6 22,53.9 C24.6,55.2 27.6,55.9 30.75,56.4 L37.6,58.2 L37.6,30.75 L46.4,23.25 Z"/></clipPath><g clip-path="url(#fc7r)">
<path d="M24,32 Q30,27 40,22" fill="none" stroke="#70482a" stroke-width="5.4" stroke-linecap="round"/>
<path d="M21,47 Q27,41 31,37" fill="none" stroke="#70482a" stroke-width="5" stroke-linecap="round"/>
<path d="M27,57 Q31,52 36,50" fill="none" stroke="#70482a" stroke-width="4" stroke-linecap="round"/>
<path d="M21,38 Q28,35 33,29 T44,24" fill="none" stroke="#9fd6ae" stroke-width="1.5"/><path d="M22,53 Q27,50 31,45 T37,41" fill="none" stroke="#9fd6ae" stroke-width="1.4"/><path d="M28,24 q3,-2 6,-1.6" fill="none" stroke="#9fd6ae" stroke-width="1.2"/>
</g>
<path d="M47.6,21.4 C44,20.4 40,20.4 37,21 C34,21.4 32,22 30.75,22.6 C28,24.6 26,27 24.5,29.5 C22.4,33 21,36 20.1,39.5 C19.2,43 18.7,46 18.9,48.25 C19.4,51 20.4,52.6 22,53.9 C24.6,55.2 27.6,55.9 30.75,56.4 L37.6,58.2 L37.6,30.75 L46.4,23.25 Z" fill="none" stroke="#1c1c1c" stroke-width="0.5"/>
<path d="M30.5,25.9 H37.6 M25,31.9 H35 M22.6,36.3 H35.4 M21.4,39.9 H37.6 M20.4,44 H35 M19.8,48.4 H35.4 M20.8,52.8 H35 M37.6,25.9 L35,31.9 L35.4,36.3 L37.6,39.9 M37.6,41 L35,44 L35.4,48.4 L35,52.8 L37.6,56.4 M37.6,30.75 V58" fill="none" stroke="#123a22" stroke-width="0.7"/>
<path d="M270,55.8 C277,56.6 283.5,60.4 286.2,66 C284.6,72.6 278,77.2 270,78.3 Z" fill="#1d3a30"/>
<path d="M271.4,56.4 V78" stroke="#b8c8c0" stroke-width="0.8"/>
<path d="M270,55.8 C277,56.6 283.5,60.4 286.2,66 C284.6,72.6 278,77.2 270,78.3 Z" fill="none" stroke="#1c1c1c" stroke-width="0.5"/>
<path d="M47.6,21.4 Q57,36 64.5,46.4 C80,45.2 100,44.2 110,43.7 C125,42.6 140,41.6 150.6,41.4 L162,41.4 L187.5,41.4 L193.8,47.8 L210,48.9 C232,50.6 255,53.2 270,55.8 L270,78.3 C260,81 250,82.8 245,83.3 C240,84.2 235,84.4 231.7,84.2 C227,83.6 224,82.4 222,80 L217,76 L156,76.3 C146,76.3 138,75.9 130,75.3 C118,74.4 106,73 97.5,71.4 C85,68.8 62,64 37.6,58.2 L37.6,30.75 L46.4,23.25 Z" fill="none" stroke="#1c1c1c" stroke-width="0.5"/>
<path d="M56.6,45 V62 M69.5,46.2 V65 M80,45.3 V67.6 M96,44.4 V70 M124,42.8 V73.8 M138,41.8 V74.8 M152.8,41.4 V75.6 M209.6,48.9 V64 M270,55.8 V78.3" fill="none" stroke="#10281a" stroke-width="0.35" opacity="0.8"/>
<path d="M29.5,41.4 L57,41.2 L58,42.6 L30,43.2 Z" fill="#d4e2e4" stroke="#1c1c1c" stroke-width="0.45"/><path d="M30,43.6 L58,43.2" stroke="#223" stroke-width="0.5" opacity="0.7"/>
<ellipse cx="46.4" cy="60.9" rx="3" ry="1.7" fill="#111"/><path d="M48,61 L60,62.8" stroke="#111" stroke-width="0.9"/>
<path d="M53,50.6 H61" stroke="#182028" stroke-width="0.8"/><ellipse cx="49.4" cy="53.3" rx="2.8" ry="0.9" fill="#2a3640"/>
<path d="M217,70.3 H262" stroke="#1a1208" stroke-width="0.9"/>
<rect x="224" y="71" width="34.4" height="1.9" fill="#5a1a10"/><path d="M224,72 H258.4" stroke="#e23a2a" stroke-width="0.8" stroke-dasharray="1.5 0.7"/>
<path d="M226.4,70.4 V76 M257.8,70.4 V76 M247.6,66.6 V70.2" stroke="#1c1c1c" stroke-width="0.7" fill="none"/>
<path d="M224,80.6 C226,78.6 230,78 246,78.4 L246,83" fill="none" stroke="#0c2414" stroke-width="0.45"/>
<path d="M234,51 V70 M260,54 V79.6" stroke="#0c2414" stroke-width="0.45" fill="none" opacity="0.9"/>
<path d="M230.6,50.6 h4.6 v1 h-4.6 z" fill="#222"/>
<circle cx="265.4" cy="61.6" r="1.5" fill="none" stroke="#0c2414" stroke-width="0.5"/><path d="M265.4,63 V67.4 M264,67.4 H266.8 M265.4,69 V71.6" stroke="#0c2414" stroke-width="0.6"/>
<path d="M150.6,41.4 L162,41.6 L162,52.8 Z" fill="#cfe6ea" stroke="#1c1c1c" stroke-width="0.4"/>
<path d="M154,42 L162,41.6 L187.4,41.6 L193.6,48 L193.4,52.8 L162,52.8 Z" fill="#cde6ea"/>
<path d="M162,41.6 L187.4,41.6 L193.6,48 L193.4,52.8 L162,52.8 Z M172.4,41.6 V52.8 M182.6,41.6 V52.8 M187.4,41.6 L186,52.8 M186.6,47 L193.6,48" fill="none" stroke="#111" stroke-width="1.1" stroke-linejoin="round"/>
<path d="M152,76.6 C161,72.8 170,70.2 176.7,68.3 C184,66 190,64.6 195,64.25 C200,63.9 206,64.6 210,65.75 C214,68 217,72 219,78.3 C210,80.6 198,83.2 188,84 C178,84.2 170,82.4 163,80.4 C159,79.2 155,78 152,76.6 Z" fill="#c4dde2" stroke="#10181c" stroke-width="0.8"/>
<path d="M158,76.6 C170,71.6 186,67.6 197,66.2 L213.4,68.4 M160,78 C174,74 194,70.6 215,71.2 M163,79.6 C178,76.6 198,73.8 216.6,74.4 M168,81.4 C182,79.4 200,77 218,77.2 M175,83 C188,82 204,80.4 218.6,79.2 M176.7,68.3 L186,83.8 M195,64.4 L203,81.4 M186,66 L178,74" fill="none" stroke="#10181c" stroke-width="0.7"/>
<rect x="196.4" y="69.2" width="5" height="3.2" fill="#111"/><rect x="185.6" y="75" width="4" height="2.2" fill="#111"/><rect x="176" y="77.4" width="3" height="1.6" fill="#111"/>
<path d="M169,73.6 L193,70.4" stroke="#111" stroke-width="1.2"/><path d="M199,76 L212,75.6" stroke="#111" stroke-width="1"/>
<circle cx="203" cy="63.6" r="2" fill="#e8f2f4" stroke="#222" stroke-width="0.5"/><path d="M201.1,64.4 a2,2 0 0 0 3.8,0 z" fill="#a22"/>
<path d="M152.8,41.4 L153.2,26.7" stroke="#1c1c1c" stroke-width="0.8"/>
<path d="M47.6,21.4 L153.2,26.7 M106.7,24.1 L110,43.6" stroke="#333" stroke-width="0.35" fill="none"/>
<rect x="101.90" y="44.15" width="16.20" height="26.30" fill="#111"/><rect x="96.85" y="49.20" width="26.30" height="16.20" fill="#111"/><rect x="103.00" y="44.15" width="14.00" height="26.30" fill="#fff"/><rect x="96.85" y="50.30" width="26.30" height="14.00" fill="#fff"/><rect x="106.90" y="44.15" width="6.20" height="26.30" fill="#111"/><rect x="96.85" y="54.20" width="26.30" height="6.20" fill="#111"/>
<g transform="translate(47.40,33.90) rotate(45) scale(-1,1)" fill="none" stroke="#111" stroke-width="1.52"><path d="M0,-3.80 V3.80 M-3.80,0 H3.80 M0,-3.80 H3.80 M3.80,0 V3.80 M0,3.80 H-3.80 M-3.80,0 V-3.80"/></g>
<path d="M146,51.6 L159.6,58.8 L146,66.4" fill="none" stroke="#fff" stroke-width="3"/>
<path d="M146,51.6 L159.6,58.8 L146,66.4" fill="none" stroke="#111" stroke-width="1.7"/>
<path d="M235,57.6 h7.6 v4 q0,3.6 -3.8,5 q-3.8,-1.4 -3.8,-5 z" fill="#f4fff6" stroke="#22d65a" stroke-width="1.3"/><path d="M237.4,60 h2.8 v2.2 q-1.4,2.4 -2.8,0 z" fill="#153"/>
</g>
<g transform="translate(390.6,67.8) scale(-0.848,0.852)">
<clipPath id="fc8"><path d="M47.6,21.4 Q57,36 64.5,46.4 C80,45.2 100,44.2 110,43.7 C125,42.6 140,41.6 150.6,41.4 L162,41.4 L187.5,41.4 L193.8,47.8 L210,48.9 C232,50.6 255,53.2 270,55.8 L270,78.3 C260,81 250,82.8 245,83.3 C240,84.2 235,84.4 231.7,84.2 C227,83.6 224,82.4 222,80 L217,76 L156,76.3 C146,76.3 138,75.9 130,75.3 C118,74.4 106,73 97.5,71.4 C85,68.8 62,64 37.6,58.2 L37.6,30.75 L46.4,23.25 Z"/></clipPath>
<path d="M47.6,21.4 Q57,36 64.5,46.4 C80,45.2 100,44.2 110,43.7 C125,42.6 140,41.6 150.6,41.4 L162,41.4 L187.5,41.4 L193.8,47.8 L210,48.9 C232,50.6 255,53.2 270,55.8 L270,78.3 C260,81 250,82.8 245,83.3 C240,84.2 235,84.4 231.7,84.2 C227,83.6 224,82.4 222,80 L217,76 L156,76.3 C146,76.3 138,75.9 130,75.3 C118,74.4 106,73 97.5,71.4 C85,68.8 62,64 37.6,58.2 L37.6,30.75 L46.4,23.25 Z" fill="#bfdbe0"/>
<g clip-path="url(#fc8)">
<g filter="url(#bl)">
<path d="M40,18 L70,44 L150,39 L210,46 L210,52 L150,46.4 L66,51 L40,34 Z" fill="#8ea9b8" opacity="0.7"/>
<ellipse cx="136.9" cy="59.7" rx="5.3" ry="2.2" fill="#7a95a8" opacity="0.55" transform="rotate(32 136.9 59.7)"/>
<ellipse cx="150.5" cy="51.1" rx="5.1" ry="2.4" fill="#839db0" opacity="0.55" transform="rotate(45 150.5 51.1)"/>
<ellipse cx="165.8" cy="57.6" rx="4.7" ry="2.0" fill="#8fa9b9" opacity="0.55" transform="rotate(-12 165.8 57.6)"/>
<ellipse cx="89.1" cy="67.6" rx="4.8" ry="3.0" fill="#8fa9b9" opacity="0.55" transform="rotate(-37 89.1 67.6)"/>
<ellipse cx="169.5" cy="77.4" rx="6.9" ry="2.9" fill="#7690a4" opacity="0.55" transform="rotate(8 169.5 77.4)"/>
<ellipse cx="81.1" cy="52.2" rx="6.6" ry="2.8" fill="#839db0" opacity="0.55" transform="rotate(-19 81.1 52.2)"/>
<ellipse cx="133.1" cy="60.0" rx="3.3" ry="2.9" fill="#839db0" opacity="0.55" transform="rotate(34 133.1 60.0)"/>
<ellipse cx="203.0" cy="53.6" rx="3.1" ry="2.3" fill="#7690a4" opacity="0.55" transform="rotate(3 203.0 53.6)"/>
<ellipse cx="184.0" cy="50.8" rx="5.3" ry="2.5" fill="#839db0" opacity="0.55" transform="rotate(-39 184.0 50.8)"/>
<ellipse cx="170.7" cy="49.1" rx="3.7" ry="3.3" fill="#8fa9b9" opacity="0.55" transform="rotate(-7 170.7 49.1)"/>
<ellipse cx="110.7" cy="53.9" rx="4.1" ry="2.9" fill="#839db0" opacity="0.55" transform="rotate(36 110.7 53.9)"/>
<ellipse cx="86.3" cy="55.7" rx="5.6" ry="3.5" fill="#839db0" opacity="0.55" transform="rotate(28 86.3 55.7)"/>
<ellipse cx="121.7" cy="57.1" rx="4.7" ry="1.8" fill="#7690a4" opacity="0.55" transform="rotate(-17 121.7 57.1)"/>
<ellipse cx="95.0" cy="48.6" rx="4.8" ry="2.8" fill="#7a95a8" opacity="0.55" transform="rotate(42 95.0 48.6)"/>
<ellipse cx="124.3" cy="74.6" rx="5.9" ry="3.6" fill="#8fa9b9" opacity="0.55" transform="rotate(2 124.3 74.6)"/>
<ellipse cx="141.9" cy="48.0" rx="5.0" ry="2.6" fill="#7a95a8" opacity="0.55" transform="rotate(-36 141.9 48.0)"/>
<ellipse cx="131.9" cy="57.2" rx="4.6" ry="3.1" fill="#7a95a8" opacity="0.55" transform="rotate(-40 131.9 57.2)"/>
<ellipse cx="203.7" cy="72.5" rx="6.5" ry="2.6" fill="#7690a4" opacity="0.55" transform="rotate(-45 203.7 72.5)"/>
<ellipse cx="57.4" cy="49.5" rx="4.8" ry="3.6" fill="#7a95a8" opacity="0.55" transform="rotate(-36 57.4 49.5)"/>
<ellipse cx="185.1" cy="70.8" rx="6.7" ry="2.4" fill="#8fa9b9" opacity="0.55" transform="rotate(40 185.1 70.8)"/>
<ellipse cx="157.8" cy="59.5" rx="5.6" ry="3.4" fill="#839db0" opacity="0.55" transform="rotate(24 157.8 59.5)"/>
<ellipse cx="95.6" cy="47.1" rx="3.8" ry="3.4" fill="#7a95a8" opacity="0.55" transform="rotate(-48 95.6 47.1)"/>
<ellipse cx="61.3" cy="55.5" rx="6.4" ry="2.2" fill="#8fa9b9" opacity="0.55" transform="rotate(39 61.3 55.5)"/>
<ellipse cx="49.7" cy="75.2" rx="6.1" ry="3.5" fill="#8fa9b9" opacity="0.55" transform="rotate(-34 49.7 75.2)"/>
<ellipse cx="121.2" cy="57.6" rx="4.6" ry="3.2" fill="#8fa9b9" opacity="0.55" transform="rotate(-32 121.2 57.6)"/>
<ellipse cx="140.2" cy="59.7" rx="6.9" ry="3.0" fill="#8fa9b9" opacity="0.55" transform="rotate(39 140.2 59.7)"/>
<ellipse cx="119.0" cy="69.8" rx="5.8" ry="2.7" fill="#7a95a8" opacity="0.55" transform="rotate(-5 119.0 69.8)"/>
<ellipse cx="165.4" cy="52.7" rx="5.4" ry="2.0" fill="#7690a4" opacity="0.55" transform="rotate(-29 165.4 52.7)"/>
<ellipse cx="143.2" cy="74.0" rx="6.5" ry="3.0" fill="#7690a4" opacity="0.55" transform="rotate(27 143.2 74.0)"/>
<ellipse cx="174.3" cy="72.4" rx="4.4" ry="2.4" fill="#7a95a8" opacity="0.55" transform="rotate(26 174.3 72.4)"/>
<ellipse cx="146.4" cy="55.0" rx="5.8" ry="2.7" fill="#8fa9b9" opacity="0.55" transform="rotate(-10 146.4 55.0)"/>
<ellipse cx="148.2" cy="57.2" rx="4.1" ry="3.4" fill="#7a95a8" opacity="0.55" transform="rotate(9 148.2 57.2)"/>
<ellipse cx="55.9" cy="63.3" rx="4.5" ry="3.1" fill="#839db0" opacity="0.55" transform="rotate(46 55.9 63.3)"/>
<ellipse cx="206.7" cy="69.1" rx="3.3" ry="3.3" fill="#8fa9b9" opacity="0.55" transform="rotate(-48 206.7 69.1)"/>
<ellipse cx="96.4" cy="56.3" rx="6.0" ry="2.9" fill="#8fa9b9" opacity="0.55" transform="rotate(11 96.4 56.3)"/>
<ellipse cx="82.0" cy="55.8" rx="5.2" ry="3.3" fill="#7690a4" opacity="0.55" transform="rotate(-28 82.0 55.8)"/>
<ellipse cx="165.7" cy="76.4" rx="3.8" ry="2.8" fill="#7a95a8" opacity="0.55" transform="rotate(41 165.7 76.4)"/>
<ellipse cx="175.6" cy="65.0" rx="4.6" ry="2.4" fill="#839db0" opacity="0.55" transform="rotate(2 175.6 65.0)"/>
<ellipse cx="176.4" cy="70.4" rx="6.8" ry="2.4" fill="#7690a4" opacity="0.55" transform="rotate(16 176.4 70.4)"/>
<ellipse cx="138.0" cy="47.2" rx="4.5" ry="3.5" fill="#8fa9b9" opacity="0.55" transform="rotate(10 138.0 47.2)"/>
<ellipse cx="70.5" cy="51.0" rx="5.4" ry="3.4" fill="#839db0" opacity="0.55" transform="rotate(-47 70.5 51.0)"/>
<ellipse cx="194.9" cy="62.4" rx="4.4" ry="2.5" fill="#8fa9b9" opacity="0.55" transform="rotate(-44 194.9 62.4)"/>
</g>
<path d="M37,30 L47.6,21 L65,47 L60,50 L37.6,50 Z" fill="#a3bcc6" opacity="0.9"/>
<path d="M193,46 L211,47 L211,58 C204,58 198,55 193,53 Z" fill="#8fa8b7"/>
</g>
<path d="M209.5,48.9 C232,50.6 255,53.2 270,55.8 L270,78.3 C260,81 250,82.8 245,83.3 C240,84.2 235,84.4 231.7,84.2 C227,83.6 224,82.4 222,80 L217,74 L212,66 L209.5,64 Z" fill="#f9a21c"/>
<path d="M47.6,21.4 C44,20.4 40,20.4 37,21 C34,21.4 32,22 30.75,22.6 C28,24.6 26,27 24.5,29.5 C22.4,33 21,36 20.1,39.5 C19.2,43 18.7,46 18.9,48.25 C19.4,51 20.4,52.6 22,53.9 C24.6,55.2 27.6,55.9 30.75,56.4 L37.6,58.2 L37.6,30.75 L46.4,23.25 Z" fill="#f9a21c"/>
<path d="M47.6,21.4 C44,20.4 40,20.4 37,21 C34,21.4 32,22 30.75,22.6 C28,24.6 26,27 24.5,29.5 C22.4,33 21,36 20.1,39.5 C19.2,43 18.7,46 18.9,48.25 C19.4,51 20.4,52.6 22,53.9 C24.6,55.2 27.6,55.9 30.75,56.4 L37.6,58.2 L37.6,30.75 L46.4,23.25 Z" fill="none" stroke="#1c1c1c" stroke-width="0.5"/>
<path d="M30.5,25.9 H37.6 M25,31.9 H35 M22.6,36.3 H35.4 M21.4,39.9 H37.6 M20.4,44 H35 M19.8,48.4 H35.4 M20.8,52.8 H35 M37.6,25.9 L35,31.9 L35.4,36.3 L37.6,39.9 M37.6,41 L35,44 L35.4,48.4 L35,52.8 L37.6,56.4 M37.6,30.75 V58" fill="none" stroke="#6b3d05" stroke-width="0.7"/>
<path d="M270,55.8 C277,56.6 283.5,60.4 286.2,66 C284.6,72.6 278,77.2 270,78.3 Z" fill="#1d3a30"/>
<path d="M270,55.8 C277,56.6 283.5,60.4 286.2,66 C282,63.6 276,62.6 270,63 Z" fill="#fff"/>
<path d="M270,55.8 C277,56.6 283.5,60.4 286.2,66 C284.6,72.6 278,77.2 270,78.3 Z" fill="none" stroke="#1c1c1c" stroke-width="0.5"/>
<path d="M47.6,21.4 Q57,36 64.5,46.4 C80,45.2 100,44.2 110,43.7 C125,42.6 140,41.6 150.6,41.4 L162,41.4 L187.5,41.4 L193.8,47.8 L210,48.9 C232,50.6 255,53.2 270,55.8 L270,78.3 C260,81 250,82.8 245,83.3 C240,84.2 235,84.4 231.7,84.2 C227,83.6 224,82.4 222,80 L217,76 L156,76.3 C146,76.3 138,75.9 130,75.3 C118,74.4 106,73 97.5,71.4 C85,68.8 62,64 37.6,58.2 L37.6,30.75 L46.4,23.25 Z" fill="none" stroke="#1c1c1c" stroke-width="0.5"/>
<path d="M56.6,45 V62 M69.5,46.2 V65 M80,45.3 V67.6 M96,44.4 V70 M124,42.8 V73.8 M138,41.8 V74.8 M152.8,41.4 V75.6 M209.6,48.9 V64 M270,55.8 V78.3" fill="none" stroke="#2c3c46" stroke-width="0.35" opacity="0.8"/>
<path d="M29.5,41.4 L57,41.2 L58,42.6 L30,43.2 Z" fill="#d4e2e4" stroke="#1c1c1c" stroke-width="0.45"/><path d="M30,43.6 L58,43.2" stroke="#223" stroke-width="0.5" opacity="0.7"/>
<ellipse cx="46.4" cy="60.9" rx="3" ry="1.7" fill="#111"/><path d="M48,61 L60,62.8" stroke="#111" stroke-width="0.9"/>
<path d="M53,50.6 H61" stroke="#182028" stroke-width="0.8"/><ellipse cx="49.4" cy="53.3" rx="2.8" ry="0.9" fill="#2a3640"/>
<path d="M217,70.3 H262" stroke="#1a1208" stroke-width="0.9"/>
<rect x="224" y="71" width="34.4" height="1.9" fill="#5a1a10"/><path d="M224,72 H258.4" stroke="#e23a2a" stroke-width="0.8" stroke-dasharray="1.5 0.7"/>
<path d="M226.4,70.4 V76 M257.8,70.4 V76 M247.6,66.6 V70.2" stroke="#1c1c1c" stroke-width="0.7" fill="none"/>
<path d="M224,80.6 C226,78.6 230,78 246,78.4 L246,83" fill="none" stroke="#5a3a08" stroke-width="0.45"/>
<path d="M234,51 V70 M260,54 V79.6" stroke="#5a3a08" stroke-width="0.45" fill="none" opacity="0.9"/>
<path d="M230.6,50.6 h4.6 v1 h-4.6 z" fill="#222"/>
<circle cx="265.4" cy="61.6" r="1.5" fill="none" stroke="#5a3a08" stroke-width="0.5"/><path d="M265.4,63 V67.4 M264,67.4 H266.8 M265.4,69 V71.6" stroke="#5a3a08" stroke-width="0.6"/>
<path d="M150.6,41.4 L162,41.6 L162,52.8 Z" fill="#cfe6ea" stroke="#1c1c1c" stroke-width="0.4"/>
<path d="M154,42 L162,41.6 L187.4,41.6 L193.6,48 L193.4,52.8 L162,52.8 Z" fill="#cde6ea"/>
<path d="M162,41.6 L187.4,41.6 L193.6,48 L193.4,52.8 L162,52.8 Z M172.4,41.6 V52.8 M182.6,41.6 V52.8 M187.4,41.6 L186,52.8 M186.6,47 L193.6,48" fill="none" stroke="#111" stroke-width="1.1" stroke-linejoin="round"/>
<path d="M152,76.6 C161,72.8 170,70.2 176.7,68.3 C184,66 190,64.6 195,64.25 C200,63.9 206,64.6 210,65.75 C214,68 217,72 219,78.3 C210,80.6 198,83.2 188,84 C178,84.2 170,82.4 163,80.4 C159,79.2 155,78 152,76.6 Z" fill="#c4dde2" stroke="#10181c" stroke-width="0.8"/>
<path d="M158,76.6 C170,71.6 186,67.6 197,66.2 L213.4,68.4 M160,78 C174,74 194,70.6 215,71.2 M163,79.6 C178,76.6 198,73.8 216.6,74.4 M168,81.4 C182,79.4 200,77 218,77.2 M175,83 C188,82 204,80.4 218.6,79.2 M176.7,68.3 L186,83.8 M195,64.4 L203,81.4 M186,66 L178,74" fill="none" stroke="#10181c" stroke-width="0.7"/>
<rect x="196.4" y="69.2" width="5" height="3.2" fill="#111"/><rect x="185.6" y="75" width="4" height="2.2" fill="#111"/><rect x="176" y="77.4" width="3" height="1.6" fill="#111"/>
<path d="M169,73.6 L193,70.4" stroke="#111" stroke-width="1.2"/><path d="M199,76 L212,75.6" stroke="#111" stroke-width="1"/>
<circle cx="203" cy="63.6" r="2" fill="#e8f2f4" stroke="#222" stroke-width="0.5"/><path d="M201.1,64.4 a2,2 0 0 0 3.8,0 z" fill="#a22"/>
<circle cx="166" cy="57.6" r="1.8" fill="#f4f8fa" stroke="#222" stroke-width="0.6"/><path d="M164.4,64.6 l1.5,-2.4 l1.5,2.4 z" fill="#e8c020"/>
<circle cx="143.8" cy="67.8" r="1.5" fill="#eef4f6" stroke="#333" stroke-width="0.45"/>
<path d="M152.8,41.4 L153.2,26.7" stroke="#1c1c1c" stroke-width="0.8"/>
<path d="M47.6,21.4 L153.2,26.7 M106.7,24.1 L110,43.6" stroke="#333" stroke-width="0.35" fill="none"/>
<rect x="102.20" y="44.15" width="15.60" height="26.30" fill="#111"/><rect x="96.85" y="49.50" width="26.30" height="15.60" fill="#111"/><rect x="103.30" y="44.15" width="13.40" height="26.30" fill="#fff"/><rect x="96.85" y="50.60" width="26.30" height="13.40" fill="#fff"/><rect x="107.20" y="44.15" width="5.60" height="26.30" fill="#111"/><rect x="96.85" y="54.50" width="26.30" height="5.60" fill="#111"/>
<g transform="translate(47.40,33.90) rotate(45) scale(-1,1)" fill="none" stroke="#111" stroke-width="1.52"><path d="M0,-3.80 V3.80 M-3.80,0 H3.80 M0,-3.80 H3.80 M3.80,0 V3.80 M0,3.80 H-3.80 M-3.80,0 V-3.80"/></g>
<rect x="74.7" y="57.9" width="13.8" height="1.9" fill="#111"/><rect x="126" y="57.9" width="11.6" height="1.9" fill="#111"/>
<path d="M143.4,50.4 L159.6,58.8 L143.4,67.2" fill="none" stroke="#fff" stroke-width="2.6"/>
<path d="M143.4,50.4 L159.6,58.8 L143.4,67.2" fill="none" stroke="#111" stroke-width="1.5"/>
<path d="M143.2,55.2 L150.4,58.8 L143.2,62.4 Z" fill="#111"/>
<circle cx="245.8" cy="61.3" r="4.8" fill="#9fd0e8" stroke="#247" stroke-width="0.5"/><circle cx="245.8" cy="61.3" r="3" fill="#f4e8e0"/><path d="M243.6,61.6 q2.2,-2.6 4.6,-0.4 q-1,2.6 -3.2,2.4 z" fill="#c33"/>
</g>
<g transform="translate(390.4,198.8) scale(-0.848,0.856)">
<clipPath id="fc9"><path d="M47.6,21.4 Q57,36 64.5,46.4 C80,45.2 100,44.2 110,43.7 C125,42.6 140,41.6 150.6,41.4 L162,41.4 L187.5,41.4 L193.8,47.8 L210,48.9 C232,50.6 255,53.2 270,55.8 L270,78.3 C260,81 250,82.8 245,83.3 C240,84.2 235,84.4 231.7,84.2 C227,83.6 224,82.4 222,80 L217,76 L156,76.3 C146,76.3 138,75.9 130,75.3 C118,74.4 106,73 97.5,71.4 C85,68.8 62,64 37.6,58.2 L37.6,30.75 L46.4,23.25 Z"/></clipPath>
<path d="M47.6,21.4 Q57,36 64.5,46.4 C80,45.2 100,44.2 110,43.7 C125,42.6 140,41.6 150.6,41.4 L162,41.4 L187.5,41.4 L193.8,47.8 L210,48.9 C232,50.6 255,53.2 270,55.8 L270,78.3 C260,81 250,82.8 245,83.3 C240,84.2 235,84.4 231.7,84.2 C227,83.6 224,82.4 222,80 L217,76 L156,76.3 C146,76.3 138,75.9 130,75.3 C118,74.4 106,73 97.5,71.4 C85,68.8 62,64 37.6,58.2 L37.6,30.75 L46.4,23.25 Z" fill="#bfdbe0"/>
<g clip-path="url(#fc9)">
<ellipse cx="45.5" cy="40.6" rx="3.4" ry="2.7" fill="none" stroke="#86aac4" stroke-width="1.15" opacity="0.9"/>
<ellipse cx="52.9" cy="39.7" rx="3.0" ry="3.0" fill="none" stroke="#86aac4" stroke-width="1.15" opacity="0.9"/>
<ellipse cx="69.8" cy="41.2" rx="3.5" ry="3.3" fill="none" stroke="#86aac4" stroke-width="1.15" opacity="0.9"/>
<ellipse cx="77.2" cy="40.5" rx="3.7" ry="2.8" fill="none" stroke="#86aac4" stroke-width="1.15" opacity="0.9"/>
<ellipse cx="86.1" cy="40.9" rx="3.0" ry="2.7" fill="none" stroke="#86aac4" stroke-width="1.15" opacity="0.9"/>
<ellipse cx="111.0" cy="38.8" rx="2.8" ry="3.2" fill="none" stroke="#86aac4" stroke-width="1.15" opacity="0.9"/>
<ellipse cx="117.7" cy="41.1" rx="3.5" ry="3.3" fill="none" stroke="#86aac4" stroke-width="1.15" opacity="0.9"/>
<ellipse cx="134.1" cy="39.7" rx="3.5" ry="2.8" fill="none" stroke="#86aac4" stroke-width="1.15" opacity="0.9"/>
<ellipse cx="142.2" cy="40.1" rx="2.8" ry="3.1" fill="none" stroke="#86aac4" stroke-width="1.15" opacity="0.9"/>
<ellipse cx="151.0" cy="39.6" rx="3.6" ry="3.1" fill="none" stroke="#86aac4" stroke-width="1.15" opacity="0.9"/>
<ellipse cx="157.5" cy="38.8" rx="3.0" ry="3.0" fill="none" stroke="#86aac4" stroke-width="1.15" opacity="0.9"/>
<ellipse cx="165.5" cy="40.3" rx="3.0" ry="2.7" fill="none" stroke="#86aac4" stroke-width="1.15" opacity="0.9"/>
<ellipse cx="175.2" cy="41.0" rx="3.3" ry="3.1" fill="none" stroke="#86aac4" stroke-width="1.15" opacity="0.9"/>
<ellipse cx="190.2" cy="39.7" rx="3.0" ry="2.7" fill="none" stroke="#86aac4" stroke-width="1.15" opacity="0.9"/>
<ellipse cx="58.4" cy="46.8" rx="2.8" ry="3.1" fill="none" stroke="#86aac4" stroke-width="1.15" opacity="0.9"/>
<ellipse cx="65.4" cy="47.1" rx="2.9" ry="2.8" fill="none" stroke="#86aac4" stroke-width="1.15" opacity="0.9"/>
<ellipse cx="74.5" cy="47.0" rx="3.2" ry="3.0" fill="none" stroke="#86aac4" stroke-width="1.15" opacity="0.9"/>
<ellipse cx="90.6" cy="46.3" rx="2.9" ry="2.9" fill="none" stroke="#86aac4" stroke-width="1.15" opacity="0.9"/>
<ellipse cx="96.9" cy="47.6" rx="3.1" ry="3.3" fill="none" stroke="#86aac4" stroke-width="1.15" opacity="0.9"/>
<ellipse cx="114.1" cy="47.3" rx="3.7" ry="3.2" fill="none" stroke="#86aac4" stroke-width="1.15" opacity="0.9"/>
<ellipse cx="121.5" cy="46.7" rx="3.2" ry="3.0" fill="none" stroke="#86aac4" stroke-width="1.15" opacity="0.9"/>
<ellipse cx="129.3" cy="47.2" rx="3.5" ry="3.0" fill="none" stroke="#86aac4" stroke-width="1.15" opacity="0.9"/>
<ellipse cx="137.9" cy="47.0" rx="3.2" ry="2.6" fill="none" stroke="#86aac4" stroke-width="1.15" opacity="0.9"/>
<ellipse cx="153.9" cy="47.6" rx="3.0" ry="3.0" fill="none" stroke="#86aac4" stroke-width="1.15" opacity="0.9"/>
<ellipse cx="162.5" cy="45.9" rx="3.6" ry="3.1" fill="none" stroke="#86aac4" stroke-width="1.15" opacity="0.9"/>
<ellipse cx="178.8" cy="45.9" rx="3.5" ry="2.8" fill="none" stroke="#86aac4" stroke-width="1.15" opacity="0.9"/>
<ellipse cx="186.4" cy="47.8" rx="3.1" ry="2.6" fill="none" stroke="#86aac4" stroke-width="1.15" opacity="0.9"/>
<ellipse cx="194.1" cy="46.3" rx="3.0" ry="2.9" fill="none" stroke="#86aac4" stroke-width="1.15" opacity="0.9"/>
<ellipse cx="37.8" cy="52.8" rx="3.0" ry="3.2" fill="none" stroke="#86aac4" stroke-width="1.15" opacity="0.9"/>
<ellipse cx="46.8" cy="52.9" rx="3.0" ry="2.9" fill="none" stroke="#86aac4" stroke-width="1.15" opacity="0.9"/>
<ellipse cx="53.6" cy="54.1" rx="3.2" ry="2.8" fill="none" stroke="#86aac4" stroke-width="1.15" opacity="0.9"/>
<ellipse cx="61.1" cy="53.4" rx="3.0" ry="2.8" fill="none" stroke="#86aac4" stroke-width="1.15" opacity="0.9"/>
<ellipse cx="78.7" cy="53.2" rx="3.1" ry="3.0" fill="none" stroke="#86aac4" stroke-width="1.15" opacity="0.9"/>
<ellipse cx="85.7" cy="54.1" rx="2.9" ry="3.0" fill="none" stroke="#86aac4" stroke-width="1.15" opacity="0.9"/>
<ellipse cx="93.2" cy="54.1" rx="3.5" ry="3.3" fill="none" stroke="#86aac4" stroke-width="1.15" opacity="0.9"/>
<ellipse cx="103.1" cy="53.8" rx="2.9" ry="3.2" fill="none" stroke="#86aac4" stroke-width="1.15" opacity="0.9"/>
<ellipse cx="110.7" cy="53.8" rx="3.5" ry="3.2" fill="none" stroke="#86aac4" stroke-width="1.15" opacity="0.9"/>
<ellipse cx="118.7" cy="53.5" rx="3.0" ry="2.8" fill="none" stroke="#86aac4" stroke-width="1.15" opacity="0.9"/>
<ellipse cx="124.8" cy="53.1" rx="3.1" ry="3.3" fill="none" stroke="#86aac4" stroke-width="1.15" opacity="0.9"/>
<ellipse cx="141.0" cy="53.6" rx="3.0" ry="3.4" fill="none" stroke="#86aac4" stroke-width="1.15" opacity="0.9"/>
<ellipse cx="159.0" cy="54.0" rx="2.8" ry="3.3" fill="none" stroke="#86aac4" stroke-width="1.15" opacity="0.9"/>
<ellipse cx="166.9" cy="54.4" rx="3.5" ry="2.8" fill="none" stroke="#86aac4" stroke-width="1.15" opacity="0.9"/>
<ellipse cx="181.8" cy="53.4" rx="3.1" ry="3.3" fill="none" stroke="#86aac4" stroke-width="1.15" opacity="0.9"/>
<ellipse cx="189.3" cy="53.6" rx="3.3" ry="2.6" fill="none" stroke="#86aac4" stroke-width="1.15" opacity="0.9"/>
<ellipse cx="198.4" cy="54.0" rx="3.0" ry="2.8" fill="none" stroke="#86aac4" stroke-width="1.15" opacity="0.9"/>
<ellipse cx="206.9" cy="55.1" rx="2.9" ry="2.8" fill="none" stroke="#86aac4" stroke-width="1.15" opacity="0.9"/>
<ellipse cx="49.4" cy="61.3" rx="3.2" ry="2.8" fill="none" stroke="#86aac4" stroke-width="1.15" opacity="0.9"/>
<ellipse cx="66.0" cy="60.9" rx="2.8" ry="3.3" fill="none" stroke="#86aac4" stroke-width="1.15" opacity="0.9"/>
<ellipse cx="74.6" cy="60.3" rx="3.2" ry="3.3" fill="none" stroke="#86aac4" stroke-width="1.15" opacity="0.9"/>
<ellipse cx="91.0" cy="61.9" rx="3.2" ry="2.9" fill="none" stroke="#86aac4" stroke-width="1.15" opacity="0.9"/>
<ellipse cx="105.2" cy="59.9" rx="2.9" ry="2.8" fill="none" stroke="#86aac4" stroke-width="1.15" opacity="0.9"/>
<ellipse cx="112.9" cy="60.1" rx="2.8" ry="2.8" fill="none" stroke="#86aac4" stroke-width="1.15" opacity="0.9"/>
<ellipse cx="122.3" cy="60.4" rx="3.1" ry="2.8" fill="none" stroke="#86aac4" stroke-width="1.15" opacity="0.9"/>
<ellipse cx="130.2" cy="61.7" rx="3.2" ry="3.0" fill="none" stroke="#86aac4" stroke-width="1.15" opacity="0.9"/>
<ellipse cx="139.0" cy="61.5" rx="3.3" ry="3.3" fill="none" stroke="#86aac4" stroke-width="1.15" opacity="0.9"/>
<ellipse cx="147.1" cy="61.6" rx="3.1" ry="3.0" fill="none" stroke="#86aac4" stroke-width="1.15" opacity="0.9"/>
<ellipse cx="153.6" cy="61.6" rx="3.7" ry="2.6" fill="none" stroke="#86aac4" stroke-width="1.15" opacity="0.9"/>
<ellipse cx="162.7" cy="60.1" rx="2.8" ry="2.9" fill="none" stroke="#86aac4" stroke-width="1.15" opacity="0.9"/>
<ellipse cx="170.3" cy="62.1" rx="3.1" ry="2.7" fill="none" stroke="#86aac4" stroke-width="1.15" opacity="0.9"/>
<ellipse cx="178.6" cy="60.1" rx="3.5" ry="2.6" fill="none" stroke="#86aac4" stroke-width="1.15" opacity="0.9"/>
<ellipse cx="193.1" cy="60.0" rx="3.0" ry="3.1" fill="none" stroke="#86aac4" stroke-width="1.15" opacity="0.9"/>
<ellipse cx="201.5" cy="60.6" rx="2.8" ry="2.6" fill="none" stroke="#86aac4" stroke-width="1.15" opacity="0.9"/>
<ellipse cx="37.9" cy="68.9" rx="3.0" ry="3.0" fill="none" stroke="#86aac4" stroke-width="1.15" opacity="0.9"/>
<ellipse cx="46.6" cy="68.9" rx="3.3" ry="2.8" fill="none" stroke="#86aac4" stroke-width="1.15" opacity="0.9"/>
<ellipse cx="55.0" cy="68.5" rx="3.4" ry="3.2" fill="none" stroke="#86aac4" stroke-width="1.15" opacity="0.9"/>
<ellipse cx="61.0" cy="67.6" rx="2.9" ry="3.3" fill="none" stroke="#86aac4" stroke-width="1.15" opacity="0.9"/>
<ellipse cx="70.2" cy="67.3" rx="3.1" ry="2.7" fill="none" stroke="#86aac4" stroke-width="1.15" opacity="0.9"/>
<ellipse cx="78.8" cy="67.7" rx="3.2" ry="2.9" fill="none" stroke="#86aac4" stroke-width="1.15" opacity="0.9"/>
<ellipse cx="86.6" cy="67.4" rx="3.2" ry="2.9" fill="none" stroke="#86aac4" stroke-width="1.15" opacity="0.9"/>
<ellipse cx="102.8" cy="68.4" rx="3.5" ry="2.8" fill="none" stroke="#86aac4" stroke-width="1.15" opacity="0.9"/>
<ellipse cx="109.0" cy="67.3" rx="2.9" ry="2.9" fill="none" stroke="#86aac4" stroke-width="1.15" opacity="0.9"/>
<ellipse cx="118.8" cy="68.3" rx="2.8" ry="2.6" fill="none" stroke="#86aac4" stroke-width="1.15" opacity="0.9"/>
<ellipse cx="124.9" cy="67.4" rx="3.5" ry="2.9" fill="none" stroke="#86aac4" stroke-width="1.15" opacity="0.9"/>
<ellipse cx="158.4" cy="67.2" rx="3.3" ry="3.1" fill="none" stroke="#86aac4" stroke-width="1.15" opacity="0.9"/>
<ellipse cx="166.2" cy="68.8" rx="3.6" ry="2.7" fill="none" stroke="#86aac4" stroke-width="1.15" opacity="0.9"/>
<ellipse cx="172.9" cy="67.1" rx="3.4" ry="3.3" fill="none" stroke="#86aac4" stroke-width="1.15" opacity="0.9"/>
<ellipse cx="180.8" cy="66.8" rx="3.4" ry="2.9" fill="none" stroke="#86aac4" stroke-width="1.15" opacity="0.9"/>
<ellipse cx="189.5" cy="67.3" rx="3.3" ry="3.4" fill="none" stroke="#86aac4" stroke-width="1.15" opacity="0.9"/>
<ellipse cx="206.5" cy="67.4" rx="3.1" ry="2.7" fill="none" stroke="#86aac4" stroke-width="1.15" opacity="0.9"/>
<ellipse cx="41.1" cy="75.0" rx="3.0" ry="3.2" fill="none" stroke="#86aac4" stroke-width="1.15" opacity="0.9"/>
<ellipse cx="49.4" cy="74.9" rx="2.7" ry="3.2" fill="none" stroke="#86aac4" stroke-width="1.15" opacity="0.9"/>
<ellipse cx="57.4" cy="74.2" rx="2.9" ry="2.6" fill="none" stroke="#86aac4" stroke-width="1.15" opacity="0.9"/>
<ellipse cx="65.1" cy="73.9" rx="3.0" ry="2.8" fill="none" stroke="#86aac4" stroke-width="1.15" opacity="0.9"/>
<ellipse cx="73.2" cy="75.8" rx="3.3" ry="2.6" fill="none" stroke="#86aac4" stroke-width="1.15" opacity="0.9"/>
<ellipse cx="83.0" cy="73.9" rx="3.4" ry="2.9" fill="none" stroke="#86aac4" stroke-width="1.15" opacity="0.9"/>
<ellipse cx="89.6" cy="75.1" rx="3.5" ry="2.6" fill="none" stroke="#86aac4" stroke-width="1.15" opacity="0.9"/>
<ellipse cx="97.0" cy="75.3" rx="3.3" ry="2.9" fill="none" stroke="#86aac4" stroke-width="1.15" opacity="0.9"/>
<ellipse cx="104.9" cy="75.8" rx="3.0" ry="3.2" fill="none" stroke="#86aac4" stroke-width="1.15" opacity="0.9"/>
<ellipse cx="121.6" cy="74.4" rx="3.5" ry="3.1" fill="none" stroke="#86aac4" stroke-width="1.15" opacity="0.9"/>
<ellipse cx="130.3" cy="75.5" rx="3.3" ry="2.9" fill="none" stroke="#86aac4" stroke-width="1.15" opacity="0.9"/>
<ellipse cx="138.9" cy="74.5" rx="3.3" ry="3.2" fill="none" stroke="#86aac4" stroke-width="1.15" opacity="0.9"/>
<ellipse cx="146.7" cy="75.6" rx="3.7" ry="2.6" fill="none" stroke="#86aac4" stroke-width="1.15" opacity="0.9"/>
<ellipse cx="154.6" cy="74.5" rx="3.1" ry="2.7" fill="none" stroke="#86aac4" stroke-width="1.15" opacity="0.9"/>
<ellipse cx="169.7" cy="75.0" rx="3.0" ry="2.7" fill="none" stroke="#86aac4" stroke-width="1.15" opacity="0.9"/>
<ellipse cx="186.3" cy="75.7" rx="3.5" ry="3.2" fill="none" stroke="#86aac4" stroke-width="1.15" opacity="0.9"/>
<ellipse cx="195.0" cy="74.3" rx="2.8" ry="3.1" fill="none" stroke="#86aac4" stroke-width="1.15" opacity="0.9"/>
<ellipse cx="201.9" cy="75.2" rx="3.0" ry="2.7" fill="none" stroke="#86aac4" stroke-width="1.15" opacity="0.9"/>
<path d="M37,30 L47.6,21 L65,47 L60,49 L37.6,45 Z" fill="#dbe9ee"/>
<rect x="82" y="40" width="14" height="32" fill="#f9a21c"/>
<line x1="89" y1="40" x2="89" y2="72" stroke="#c77f10" stroke-width="0.4"/>
</g>
<path d="M209.5,48.9 C232,50.6 255,53.2 270,55.8 L270,78.3 C260,81 250,82.8 245,83.3 C240,84.2 235,84.4 231.7,84.2 C227,83.6 224,82.4 222,80 L217,74 L212,66 L209.5,64 Z" fill="#f9a21c"/>
<clipPath id="fc9c"><path d="M209.5,48.9 C232,50.6 255,53.2 270,55.8 L270,70 L209.5,70 Z"/></clipPath>
<g clip-path="url(#fc9c)">
<rect x="209" y="48" width="62" height="22" fill="#a98c2e"/>
<circle cx="229.3" cy="65.4" r="1.1" fill="#6a6a30"/>
<circle cx="225.8" cy="58.5" r="1.6" fill="#66642c"/>
<circle cx="241.3" cy="52.4" r="1.8" fill="#565c2e"/>
<circle cx="210.5" cy="62.6" r="1.0" fill="#565c2e"/>
<circle cx="217.3" cy="66.0" r="1.5" fill="#565c2e"/>
<circle cx="240.6" cy="63.8" r="1.5" fill="#66642c"/>
<circle cx="224.8" cy="59.4" r="1.6" fill="#66642c"/>
<circle cx="233.6" cy="68.8" r="1.2" fill="#d9a52a"/>
<circle cx="258.8" cy="64.8" r="1.7" fill="#d9a52a"/>
<circle cx="248.6" cy="54.5" r="1.7" fill="#565c2e"/>
<circle cx="244.1" cy="60.2" r="1.0" fill="#565c2e"/>
<circle cx="267.0" cy="66.0" r="0.9" fill="#d9a52a"/>
<circle cx="254.0" cy="60.6" r="1.0" fill="#6a6a30"/>
<circle cx="212.2" cy="66.7" r="1.6" fill="#d9a52a"/>
<circle cx="256.1" cy="56.7" r="1.1" fill="#d9a52a"/>
<circle cx="257.9" cy="54.4" r="1.6" fill="#d9a52a"/>
<circle cx="210.5" cy="57.9" r="1.1" fill="#d9a52a"/>
<circle cx="226.8" cy="62.3" r="1.4" fill="#d9a52a"/>
<circle cx="233.0" cy="61.2" r="1.5" fill="#565c2e"/>
<circle cx="213.3" cy="63.5" r="1.1" fill="#d9a52a"/>
<circle cx="248.9" cy="55.4" r="1.7" fill="#66642c"/>
<circle cx="213.1" cy="53.2" r="1.1" fill="#d9a52a"/>
<circle cx="264.4" cy="59.3" r="0.9" fill="#6a6a30"/>
<circle cx="269.3" cy="58.5" r="1.5" fill="#7d722c"/>
<circle cx="216.1" cy="64.9" r="1.3" fill="#d9a52a"/>
<circle cx="210.3" cy="57.6" r="1.1" fill="#66642c"/>
<circle cx="217.0" cy="54.7" r="1.5" fill="#7d722c"/>
<circle cx="220.9" cy="67.5" r="1.4" fill="#7d722c"/>
<circle cx="233.2" cy="64.6" r="1.0" fill="#565c2e"/>
<circle cx="260.4" cy="63.0" r="1.1" fill="#7d722c"/>
<circle cx="231.7" cy="69.3" r="1.5" fill="#d9a52a"/>
<circle cx="228.4" cy="50.8" r="1.5" fill="#565c2e"/>
<circle cx="247.8" cy="57.5" r="1.3" fill="#565c2e"/>
<circle cx="245.2" cy="67.8" r="1.5" fill="#7d722c"/>
<circle cx="224.5" cy="54.7" r="1.2" fill="#565c2e"/>
<circle cx="220.0" cy="61.7" r="1.5" fill="#565c2e"/>
<circle cx="223.4" cy="65.3" r="1.1" fill="#d9a52a"/>
<circle cx="256.8" cy="63.2" r="1.7" fill="#565c2e"/>
<circle cx="237.9" cy="57.4" r="1.3" fill="#7d722c"/>
<circle cx="223.1" cy="62.0" r="1.4" fill="#6a6a30"/>
<circle cx="230.6" cy="52.4" r="1.4" fill="#6a6a30"/>
<circle cx="266.6" cy="54.2" r="1.1" fill="#7d722c"/>
<circle cx="261.6" cy="51.6" r="1.4" fill="#565c2e"/>
<circle cx="253.0" cy="63.3" r="1.0" fill="#7d722c"/>
<circle cx="267.5" cy="52.0" r="1.1" fill="#7d722c"/>
<circle cx="230.7" cy="69.0" r="1.4" fill="#66642c"/>
<circle cx="265.2" cy="64.4" r="1.2" fill="#6a6a30"/>
<circle cx="260.2" cy="56.8" r="1.1" fill="#7d722c"/>
<circle cx="252.2" cy="58.1" r="0.9" fill="#6a6a30"/>
<circle cx="249.9" cy="68.3" r="1.4" fill="#565c2e"/>
<circle cx="241.6" cy="57.7" r="1.1" fill="#d9a52a"/>
<circle cx="268.3" cy="56.5" r="1.8" fill="#66642c"/>
<circle cx="236.1" cy="59.7" r="1.1" fill="#565c2e"/>
<circle cx="223.5" cy="61.9" r="1.1" fill="#d9a52a"/>
<circle cx="255.6" cy="58.0" r="1.6" fill="#7d722c"/>
<circle cx="213.1" cy="50.5" r="0.9" fill="#66642c"/>
<circle cx="264.5" cy="61.3" r="1.4" fill="#565c2e"/>
<circle cx="248.9" cy="55.9" r="1.4" fill="#66642c"/>
<circle cx="268.0" cy="68.9" r="1.4" fill="#7d722c"/>
<circle cx="220.5" cy="52.0" r="1.6" fill="#66642c"/>
<circle cx="240.8" cy="64.3" r="1.2" fill="#7d722c"/>
<circle cx="259.5" cy="53.2" r="1.7" fill="#6a6a30"/>
<circle cx="255.1" cy="66.0" r="1.5" fill="#7d722c"/>
<circle cx="242.9" cy="53.5" r="1.3" fill="#7d722c"/>
<circle cx="235.5" cy="69.9" r="1.3" fill="#66642c"/>
<circle cx="248.1" cy="52.6" r="1.5" fill="#565c2e"/>
<circle cx="227.5" cy="63.2" r="1.1" fill="#7d722c"/>
<circle cx="265.0" cy="49.4" r="1.3" fill="#7d722c"/>
<circle cx="261.3" cy="65.1" r="1.0" fill="#565c2e"/>
<circle cx="256.6" cy="55.4" r="1.5" fill="#565c2e"/>
<circle cx="211.9" cy="62.4" r="1.4" fill="#565c2e"/>
<circle cx="242.7" cy="59.9" r="1.5" fill="#d9a52a"/>
<circle cx="214.8" cy="49.8" r="1.4" fill="#d9a52a"/>
<circle cx="260.4" cy="67.7" r="1.7" fill="#6a6a30"/>
<circle cx="235.4" cy="52.8" r="1.1" fill="#6a6a30"/>
<circle cx="262.4" cy="49.9" r="1.1" fill="#66642c"/>
<circle cx="227.2" cy="60.5" r="1.1" fill="#565c2e"/>
<circle cx="213.6" cy="68.1" r="1.4" fill="#7d722c"/>
<circle cx="253.5" cy="60.0" r="1.3" fill="#565c2e"/>
<circle cx="228.9" cy="56.6" r="1.7" fill="#d9a52a"/>
</g>
<path d="M172,70.6 C183,66.6 196,64.2 210,65.6 L214,68 L216,60 L200,59 C189,60 179,63 168,68 Z" fill="#f5a01c"/>
<path d="M47.6,21.4 C44,20.4 40,20.4 37,21 C34,21.4 32,22 30.75,22.6 C28,24.6 26,27 24.5,29.5 C22.4,33 21,36 20.1,39.5 C19.2,43 18.7,46 18.9,48.25 C19.4,51 20.4,52.6 22,53.9 C24.6,55.2 27.6,55.9 30.75,56.4 L37.6,58.2 L37.6,30.75 L46.4,23.25 Z" fill="#b8962e"/>
<clipPath id="fc9r"><path d="M47.6,21.4 C44,20.4 40,20.4 37,21 C34,21.4 32,22 30.75,22.6 C28,24.6 26,27 24.5,29.5 C22.4,33 21,36 20.1,39.5 C19.2,43 18.7,46 18.9,48.25 C19.4,51 20.4,52.6 22,53.9 C24.6,55.2 27.6,55.9 30.75,56.4 L37.6,58.2 L37.6,30.75 L46.4,23.25 Z"/></clipPath><g clip-path="url(#fc9r)">
<circle cx="39.9" cy="21.1" r="1.7" fill="#77702e"/>
<circle cx="29.4" cy="50.2" r="1.0" fill="#6a682e"/>
<circle cx="39.1" cy="39.2" r="1.1" fill="#e2ac2c"/>
<circle cx="27.6" cy="26.3" r="1.7" fill="#7a6f2c"/>
<circle cx="44.4" cy="24.0" r="1.0" fill="#85762c"/>
<circle cx="28.2" cy="31.5" r="1.4" fill="#85762c"/>
<circle cx="36.1" cy="28.5" r="1.5" fill="#7a6f2c"/>
<circle cx="45.5" cy="35.1" r="1.7" fill="#77702e"/>
<circle cx="43.2" cy="51.9" r="1.7" fill="#77702e"/>
<circle cx="43.8" cy="26.3" r="1.2" fill="#77702e"/>
<circle cx="27.6" cy="22.9" r="1.2" fill="#85762c"/>
<circle cx="36.4" cy="44.4" r="1.4" fill="#7a6f2c"/>
<circle cx="21.4" cy="36.7" r="1.3" fill="#e2ac2c"/>
<circle cx="44.4" cy="48.6" r="1.3" fill="#85762c"/>
<circle cx="30.7" cy="40.4" r="1.1" fill="#e2ac2c"/>
<circle cx="41.3" cy="36.1" r="1.5" fill="#6a682e"/>
<circle cx="24.3" cy="45.6" r="1.7" fill="#7a6f2c"/>
<circle cx="31.8" cy="33.6" r="1.1" fill="#6a682e"/>
<circle cx="36.4" cy="31.2" r="1.4" fill="#6a682e"/>
<circle cx="24.9" cy="37.5" r="1.5" fill="#85762c"/>
<circle cx="34.5" cy="37.2" r="1.2" fill="#85762c"/>
<circle cx="25.0" cy="32.4" r="1.7" fill="#85762c"/>
<circle cx="19.4" cy="50.5" r="1.6" fill="#77702e"/>
<circle cx="42.6" cy="31.9" r="0.9" fill="#85762c"/>
<circle cx="26.7" cy="44.2" r="1.7" fill="#85762c"/>
<circle cx="21.3" cy="49.8" r="1.1" fill="#77702e"/>
<circle cx="26.8" cy="47.4" r="1.5" fill="#85762c"/>
<circle cx="32.8" cy="36.7" r="0.9" fill="#6a682e"/>
<circle cx="21.7" cy="24.6" r="1.4" fill="#85762c"/>
<circle cx="31.5" cy="29.9" r="1.2" fill="#e2ac2c"/>
<circle cx="31.8" cy="38.4" r="1.5" fill="#85762c"/>
<circle cx="20.4" cy="56.4" r="1.0" fill="#6a682e"/>
<circle cx="30.1" cy="37.7" r="1.4" fill="#77702e"/>
<circle cx="26.2" cy="31.9" r="1.4" fill="#e2ac2c"/>
<circle cx="26.5" cy="38.4" r="1.0" fill="#6a682e"/>
<circle cx="27.3" cy="55.7" r="1.1" fill="#7a6f2c"/>
<circle cx="44.6" cy="50.1" r="1.2" fill="#e2ac2c"/>
<circle cx="32.6" cy="21.4" r="1.3" fill="#e2ac2c"/>
<circle cx="19.4" cy="36.8" r="1.5" fill="#e2ac2c"/>
<circle cx="25.0" cy="33.0" r="1.1" fill="#e2ac2c"/>
<circle cx="44.6" cy="33.7" r="1.6" fill="#85762c"/>
<circle cx="31.8" cy="50.5" r="1.2" fill="#85762c"/>
<circle cx="26.7" cy="56.1" r="1.4" fill="#77702e"/>
<circle cx="32.2" cy="54.3" r="1.5" fill="#6a682e"/>
<circle cx="45.0" cy="30.8" r="1.5" fill="#85762c"/>
<circle cx="29.7" cy="53.1" r="1.0" fill="#7a6f2c"/>
<circle cx="42.4" cy="50.0" r="1.4" fill="#85762c"/>
<circle cx="26.1" cy="40.1" r="1.4" fill="#6a682e"/>
<circle cx="45.2" cy="24.5" r="1.7" fill="#e2ac2c"/>
<circle cx="44.9" cy="47.8" r="1.7" fill="#77702e"/>
<circle cx="40.7" cy="56.2" r="1.4" fill="#7a6f2c"/>
<circle cx="29.8" cy="21.1" r="1.7" fill="#77702e"/>
<circle cx="34.9" cy="50.4" r="0.9" fill="#6a682e"/>
<circle cx="19.5" cy="38.7" r="1.4" fill="#7a6f2c"/>
<circle cx="31.8" cy="36.4" r="1.3" fill="#7a6f2c"/>
<circle cx="27.1" cy="44.9" r="0.9" fill="#85762c"/>
<circle cx="37.3" cy="39.9" r="1.2" fill="#77702e"/>
<circle cx="43.3" cy="41.9" r="1.5" fill="#77702e"/>
<circle cx="26.9" cy="23.0" r="1.5" fill="#7a6f2c"/>
<circle cx="26.7" cy="28.9" r="1.0" fill="#7a6f2c"/>
</g>
<path d="M47.6,21.4 C44,20.4 40,20.4 37,21 C34,21.4 32,22 30.75,22.6 C28,24.6 26,27 24.5,29.5 C22.4,33 21,36 20.1,39.5 C19.2,43 18.7,46 18.9,48.25 C19.4,51 20.4,52.6 22,53.9 C24.6,55.2 27.6,55.9 30.75,56.4 L37.6,58.2 L37.6,30.75 L46.4,23.25 Z" fill="none" stroke="#1c1c1c" stroke-width="0.5"/>
<path d="M30.5,25.9 H37.6 M25,31.9 H35 M22.6,36.3 H35.4 M21.4,39.9 H37.6 M20.4,44 H35 M19.8,48.4 H35.4 M20.8,52.8 H35 M37.6,25.9 L35,31.9 L35.4,36.3 L37.6,39.9 M37.6,41 L35,44 L35.4,48.4 L35,52.8 L37.6,56.4 M37.6,30.75 V58" fill="none" stroke="#4a3a10" stroke-width="0.7"/>
<path d="M270,55.8 C277,56.6 283.5,60.4 286.2,66 C284.6,72.6 278,77.2 270,78.3 Z" fill="#1d3a30"/>
<path d="M270,55.8 C274,56.2 277.4,57.4 280,59.2 L279.6,66 L270,66 Z" fill="#fff"/>
<path d="M270,55.8 C277,56.6 283.5,60.4 286.2,66 C284.6,72.6 278,77.2 270,78.3 Z" fill="none" stroke="#1c1c1c" stroke-width="0.5"/>
<path d="M47.6,21.4 Q57,36 64.5,46.4 C80,45.2 100,44.2 110,43.7 C125,42.6 140,41.6 150.6,41.4 L162,41.4 L187.5,41.4 L193.8,47.8 L210,48.9 C232,50.6 255,53.2 270,55.8 L270,78.3 C260,81 250,82.8 245,83.3 C240,84.2 235,84.4 231.7,84.2 C227,83.6 224,82.4 222,80 L217,76 L156,76.3 C146,76.3 138,75.9 130,75.3 C118,74.4 106,73 97.5,71.4 C85,68.8 62,64 37.6,58.2 L37.6,30.75 L46.4,23.25 Z" fill="none" stroke="#1c1c1c" stroke-width="0.5"/>
<path d="M56.6,45 V62 M69.5,46.2 V65 M80,45.3 V67.6 M96,44.4 V70 M124,42.8 V73.8 M138,41.8 V74.8 M152.8,41.4 V75.6 M209.6,48.9 V64 M270,55.8 V78.3" fill="none" stroke="#2c3c46" stroke-width="0.35" opacity="0.8"/>
<path d="M29.5,41.4 L57,41.2 L58,42.6 L30,43.2 Z" fill="#d4e2e4" stroke="#1c1c1c" stroke-width="0.45"/><path d="M30,43.6 L58,43.2" stroke="#223" stroke-width="0.5" opacity="0.7"/>
<ellipse cx="46.4" cy="60.9" rx="3" ry="1.7" fill="#111"/><path d="M48,61 L60,62.8" stroke="#111" stroke-width="0.9"/>
<path d="M53,50.6 H61" stroke="#182028" stroke-width="0.8"/><ellipse cx="49.4" cy="53.3" rx="2.8" ry="0.9" fill="#2a3640"/>
<path d="M217,70.3 H262" stroke="#1a1208" stroke-width="0.9"/>
<rect x="224" y="71" width="34.4" height="1.9" fill="#5a1a10"/><path d="M224,72 H258.4" stroke="#e23a2a" stroke-width="0.8" stroke-dasharray="1.5 0.7"/>
<path d="M226.4,70.4 V76 M257.8,70.4 V76 M247.6,66.6 V70.2" stroke="#1c1c1c" stroke-width="0.7" fill="none"/>
<path d="M224,80.6 C226,78.6 230,78 246,78.4 L246,83" fill="none" stroke="#5a3a08" stroke-width="0.45"/>
<path d="M234,51 V70 M260,54 V79.6" stroke="#5a3a08" stroke-width="0.45" fill="none" opacity="0.9"/>
<path d="M230.6,50.6 h4.6 v1 h-4.6 z" fill="#222"/>
<circle cx="265.4" cy="61.6" r="1.5" fill="none" stroke="#5a3a08" stroke-width="0.5"/><path d="M265.4,63 V67.4 M264,67.4 H266.8 M265.4,69 V71.6" stroke="#5a3a08" stroke-width="0.6"/>
<path d="M150.6,41.4 L162,41.6 L162,52.8 Z" fill="#cfe6ea" stroke="#1c1c1c" stroke-width="0.4"/>
<path d="M154,42 L162,41.6 L187.4,41.6 L193.6,48 L193.4,52.8 L162,52.8 Z" fill="#cde6ea"/>
<path d="M162,41.6 L187.4,41.6 L193.6,48 L193.4,52.8 L162,52.8 Z M172.4,41.6 V52.8 M182.6,41.6 V52.8 M187.4,41.6 L186,52.8 M186.6,47 L193.6,48" fill="none" stroke="#111" stroke-width="1.1" stroke-linejoin="round"/>
<path d="M152,76.6 C161,72.8 170,70.2 176.7,68.3 C184,66 190,64.6 195,64.25 C200,63.9 206,64.6 210,65.75 C214,68 217,72 219,78.3 C210,80.6 198,83.2 188,84 C178,84.2 170,82.4 163,80.4 C159,79.2 155,78 152,76.6 Z" fill="#c4dde2" stroke="#10181c" stroke-width="0.8"/>
<path d="M158,76.6 C170,71.6 186,67.6 197,66.2 L213.4,68.4 M160,78 C174,74 194,70.6 215,71.2 M163,79.6 C178,76.6 198,73.8 216.6,74.4 M168,81.4 C182,79.4 200,77 218,77.2 M175,83 C188,82 204,80.4 218.6,79.2 M176.7,68.3 L186,83.8 M195,64.4 L203,81.4 M186,66 L178,74" fill="none" stroke="#10181c" stroke-width="0.7"/>
<rect x="196.4" y="69.2" width="5" height="3.2" fill="#111"/><rect x="185.6" y="75" width="4" height="2.2" fill="#111"/><rect x="176" y="77.4" width="3" height="1.6" fill="#111"/>
<path d="M169,73.6 L193,70.4" stroke="#111" stroke-width="1.2"/><path d="M199,76 L212,75.6" stroke="#111" stroke-width="1"/>
<circle cx="203" cy="63.6" r="2" fill="#e8f2f4" stroke="#222" stroke-width="0.5"/><path d="M201.1,64.4 a2,2 0 0 0 3.8,0 z" fill="#a22"/>
<circle cx="166" cy="57.6" r="1.8" fill="#f4f8fa" stroke="#222" stroke-width="0.6"/><path d="M164.4,64.6 l1.5,-2.4 l1.5,2.4 z" fill="#e8c020"/>
<circle cx="143.8" cy="67.8" r="1.5" fill="#eef4f6" stroke="#333" stroke-width="0.45"/>
<path d="M152.8,41.4 L153.2,26.7" stroke="#1c1c1c" stroke-width="0.8"/>
<path d="M47.6,21.4 L153.2,26.7 M106.7,24.1 L110,43.6" stroke="#333" stroke-width="0.35" fill="none"/>
<rect x="102.20" y="44.15" width="15.60" height="26.30" fill="#111"/><rect x="96.85" y="49.50" width="26.30" height="15.60" fill="#111"/><rect x="103.30" y="44.15" width="13.40" height="26.30" fill="#fff"/><rect x="96.85" y="50.60" width="26.30" height="13.40" fill="#fff"/><rect x="107.20" y="44.15" width="5.60" height="26.30" fill="#111"/><rect x="96.85" y="54.50" width="26.30" height="5.60" fill="#111"/>
<g transform="translate(47.40,33.90) rotate(45) scale(-1,1)" fill="none" stroke="#111" stroke-width="1.52"><path d="M0,-3.80 V3.80 M-3.80,0 H3.80 M0,-3.80 H3.80 M3.80,0 V3.80 M0,3.80 H-3.80 M-3.80,0 V-3.80"/></g>
<path d="M128,189.4 L137.4,194.4 L128,199.6 Z" transform="translate(0,-136)" fill="none" stroke="#111" stroke-width="1.2"/>
<path d="M147.4,189.2 L157.2,194.4 L147.4,199.8" transform="translate(0,-136)" fill="none" stroke="#111" stroke-width="1.3"/>
<rect x="183" y="56.6" width="9.6" height="9.6" fill="#e02418" stroke="#611" stroke-width="0.4"/><path d="M186.4,64.8 v-4 q1.6,-3 3,0 v4 z" fill="#221"/>
<path d="M235.4,64.6 q1.6,-6 6.4,-3.4 q3,2.4 6.4,-1.4 q1.8,3 -1.6,5.6 q-4,2.4 -7,-0.4 q-2,-1.8 -4.2,-0.4 z" fill="#19d656" stroke="#0a8a30" stroke-width="0.4"/><path d="M241,64 q1.6,3 4.6,1.6" fill="none" stroke="#0a8a30" stroke-width="0.5"/><path d="M248.6,61.4 l7.4,-0.8 l-7,2.6 z" fill="#f03a1a"/>
</g>
<g transform="translate(392.8,316.7) scale(-0.884,0.884)">
<clipPath id="fc10"><path d="M47.6,21.4 Q57,36 64.5,46.4 C80,45.2 100,44.2 110,43.7 C125,42.6 140,41.6 150.6,41.4 L162,41.4 L187.5,41.4 L193.8,47.8 L210,48.9 C232,50.6 255,53.2 270,55.8 L270,78.3 C260,81 250,82.8 245,83.3 C240,84.2 235,84.4 231.7,84.2 C227,83.6 224,82.4 222,80 L217,76 L156,76.3 C146,76.3 138,75.9 130,75.3 C118,74.4 106,73 97.5,71.4 C85,68.8 62,64 37.6,58.2 L37.6,30.75 L46.4,23.25 Z"/></clipPath>
<path d="M47.6,21.4 Q57,36 64.5,46.4 C80,45.2 100,44.2 110,43.7 C125,42.6 140,41.6 150.6,41.4 L162,41.4 L187.5,41.4 L193.8,47.8 L210,48.9 C232,50.6 255,53.2 270,55.8 L270,78.3 C260,81 250,82.8 245,83.3 C240,84.2 235,84.4 231.7,84.2 C227,83.6 224,82.4 222,80 L217,76 L156,76.3 C146,76.3 138,75.9 130,75.3 C118,74.4 106,73 97.5,71.4 C85,68.8 62,64 37.6,58.2 L37.6,30.75 L46.4,23.25 Z" fill="#2f744a"/>
<g clip-path="url(#fc10)">
<path d="M37,56 C60,60.6 85,66.4 100,69.6 C115,72.2 135,73.4 157,73.8 L157,79 L37,61 Z" fill="#bfdbe0"/>
<path d="M36,20 L48,20 L70,47 L70,66 L36,58 Z" fill="#25713f"/>
<g filter="url(#b2)">
<path d="M70.0,46.1 Q71.4,54.2 73.0,62.4 T76.0,78.6" fill="none" stroke="#70482a" stroke-width="4.1" stroke-linecap="round"/>
<path d="M81.0,40.9 Q82.4,50.1 84.0,59.3 T87.0,77.7" fill="none" stroke="#70482a" stroke-width="3.5" stroke-linecap="round"/>
<path d="M91.0,45.9 Q92.6,52.8 93.0,59.7 T95.0,73.4" fill="none" stroke="#70482a" stroke-width="3.5" stroke-linecap="round"/>
<path d="M122.0,45.9 Q123.6,53.1 124.0,60.3 T126.0,74.7" fill="none" stroke="#70482a" stroke-width="3.7" stroke-linecap="round"/>
<path d="M132.0,40.7 Q133.6,50.5 134.0,60.3 T136.0,79.8" fill="none" stroke="#70482a" stroke-width="5.2" stroke-linecap="round"/>
<path d="M146.0,41.6 Q148.6,50.3 143.0,58.9 T140.0,76.1" fill="none" stroke="#70482a" stroke-width="3.9" stroke-linecap="round"/>
<path d="M151.0,41.7 Q152.6,49.8 153.0,57.9 T155.0,74.2" fill="none" stroke="#70482a" stroke-width="6.5" stroke-linecap="round"/>
<path d="M158.0,46.7 Q159.4,54.1 161.0,61.6 T164.0,76.4" fill="none" stroke="#70482a" stroke-width="6.5" stroke-linecap="round"/>
<path d="M169.0,46.4 Q170.6,53.8 171.0,61.3 T173.0,76.2" fill="none" stroke="#70482a" stroke-width="3.5" stroke-linecap="round"/>
<path d="M179.0,46.9 Q180.4,53.6 182.0,60.2 T185.0,73.5" fill="none" stroke="#70482a" stroke-width="4.7" stroke-linecap="round"/>
<path d="M192.0,43.5 Q193.6,51.7 194.0,59.9 T196.0,76.3" fill="none" stroke="#70482a" stroke-width="3.6" stroke-linecap="round"/>
<path d="M207.0,41.8 Q209.4,51.2 205.0,60.7 T203.0,79.6" fill="none" stroke="#70482a" stroke-width="4.5" stroke-linecap="round"/>
<path d="M218.0,44.6 Q220.4,52.2 216.0,59.9 T214.0,75.2" fill="none" stroke="#70482a" stroke-width="3.8" stroke-linecap="round"/>
<path d="M229.0,47.8 Q231.4,53.4 227.0,58.9 T225.0,70.1" fill="none" stroke="#70482a" stroke-width="5.1" stroke-linecap="round"/>
<path d="M240.0,44.5 Q242.4,51.0 238.0,57.6 T236.0,70.6" fill="none" stroke="#70482a" stroke-width="5.0" stroke-linecap="round"/>
<path d="M252.0,41.5 Q254.4,48.9 250.0,56.2 T248.0,70.8" fill="none" stroke="#70482a" stroke-width="3.4" stroke-linecap="round"/>
<path d="M263.0,40.8 Q265.4,49.6 261.0,58.4 T259.0,76.0" fill="none" stroke="#70482a" stroke-width="4.6" stroke-linecap="round"/>
<path d="M80.0,47.2 Q82.4,52.4 78.0,57.6 T76.0,68.1" fill="none" stroke="#9fd6ae" stroke-width="1.6" stroke-linecap="round" opacity="0.9"/>
<path d="M87.0,42.9 Q89.4,51.2 89.0,59.4 T91.0,76.0" fill="none" stroke="#9fd6ae" stroke-width="1.6" stroke-linecap="round" opacity="0.9"/>
<path d="M100.0,45.6 Q102.4,51.7 98.0,57.8 T96.0,70.1" fill="none" stroke="#9fd6ae" stroke-width="1.6" stroke-linecap="round" opacity="0.9"/>
<path d="M100.0,44.1 Q102.4,50.4 103.0,56.7 T106.0,69.3" fill="none" stroke="#9fd6ae" stroke-width="1.6" stroke-linecap="round" opacity="0.9"/>
<path d="M116.0,49.7 Q118.4,56.3 119.0,62.8 T122.0,76.0" fill="none" stroke="#9fd6ae" stroke-width="1.6" stroke-linecap="round" opacity="0.9"/>
<path d="M127.0,47.7 Q129.4,53.1 129.0,58.6 T131.0,69.5" fill="none" stroke="#9fd6ae" stroke-width="1.6" stroke-linecap="round" opacity="0.9"/>
<path d="M142.0,42.5 Q144.4,49.8 139.0,57.2 T136.0,71.9" fill="none" stroke="#9fd6ae" stroke-width="1.6" stroke-linecap="round" opacity="0.9"/>
<path d="M150.0,48.9 Q152.4,53.7 148.0,58.5 T146.0,68.2" fill="none" stroke="#9fd6ae" stroke-width="1.6" stroke-linecap="round" opacity="0.9"/>
<path d="M169.0,47.1 Q171.4,54.7 166.0,62.4 T163.0,77.6" fill="none" stroke="#9fd6ae" stroke-width="1.6" stroke-linecap="round" opacity="0.9"/>
<path d="M173.0,45.9 Q175.4,51.9 176.0,58.0 T179.0,70.0" fill="none" stroke="#9fd6ae" stroke-width="1.6" stroke-linecap="round" opacity="0.9"/>
<path d="M191.0,49.8 Q193.4,54.9 188.0,60.1 T185.0,70.3" fill="none" stroke="#9fd6ae" stroke-width="1.6" stroke-linecap="round" opacity="0.9"/>
<path d="M201.0,45.9 Q203.4,52.0 199.0,58.1 T197.0,70.2" fill="none" stroke="#9fd6ae" stroke-width="1.6" stroke-linecap="round" opacity="0.9"/>
<path d="M213.0,44.8 Q215.4,53.1 210.0,61.3 T207.0,77.9" fill="none" stroke="#9fd6ae" stroke-width="1.6" stroke-linecap="round" opacity="0.9"/>
<path d="M224.0,46.7 Q226.4,53.4 221.0,60.1 T218.0,73.5" fill="none" stroke="#9fd6ae" stroke-width="1.6" stroke-linecap="round" opacity="0.9"/>
<path d="M229.0,43.1 Q231.4,50.4 232.0,57.7 T235.0,72.3" fill="none" stroke="#9fd6ae" stroke-width="1.6" stroke-linecap="round" opacity="0.9"/>
<path d="M241.0,49.4 Q243.4,54.3 244.0,59.3 T247.0,69.1" fill="none" stroke="#9fd6ae" stroke-width="1.6" stroke-linecap="round" opacity="0.9"/>
<path d="M253.0,49.6 Q255.4,54.5 255.0,59.5 T257.0,69.3" fill="none" stroke="#9fd6ae" stroke-width="1.6" stroke-linecap="round" opacity="0.9"/>
<path d="M264.0,46.4 Q266.4,52.9 266.0,59.4 T268.0,72.4" fill="none" stroke="#9fd6ae" stroke-width="1.6" stroke-linecap="round" opacity="0.9"/>
</g>
</g>
<path d="M224,72.6 L270,72.6 L270,78.3 C260,81 250,82.8 245,83.3 C240,84.2 235,84.4 231.7,84.2 C227,83.6 224.6,82.4 223.4,80.6 Z" fill="#f9a21c"/>
<path d="M47.6,21.4 C44,20.4 40,20.4 37,21 C34,21.4 32,22 30.75,22.6 C28,24.6 26,27 24.5,29.5 C22.4,33 21,36 20.1,39.5 C19.2,43 18.7,46 18.9,48.25 C19.4,51 20.4,52.6 22,53.9 C24.6,55.2 27.6,55.9 30.75,56.4 L37.6,58.2 L37.6,30.75 L46.4,23.25 Z" fill="#2f744a"/>
<clipPath id="fc10r"><path d="M47.6,21.4 C44,20.4 40,20.4 37,21 C34,21.4 32,22 30.75,22.6 C28,24.6 26,27 24.5,29.5 C22.4,33 21,36 20.1,39.5 C19.2,43 18.7,46 18.9,48.25 C19.4,51 20.4,52.6 22,53.9 C24.6,55.2 27.6,55.9 30.75,56.4 L37.6,58.2 L37.6,30.75 L46.4,23.25 Z"/></clipPath><g clip-path="url(#fc10r)">
<path d="M24,32 Q30,27 40,22" fill="none" stroke="#70482a" stroke-width="5.4" stroke-linecap="round"/>
<path d="M21,47 Q27,41 31,37" fill="none" stroke="#70482a" stroke-width="5" stroke-linecap="round"/>
<path d="M27,57 Q31,52 36,50" fill="none" stroke="#70482a" stroke-width="4" stroke-linecap="round"/>
<path d="M21,38 Q28,35 33,29 T44,24" fill="none" stroke="#9fd6ae" stroke-width="1.5"/><path d="M22,53 Q27,50 31,45 T37,41" fill="none" stroke="#9fd6ae" stroke-width="1.4"/><path d="M28,24 q3,-2 6,-1.6" fill="none" stroke="#9fd6ae" stroke-width="1.2"/>
</g>
<path d="M47.6,21.4 C44,20.4 40,20.4 37,21 C34,21.4 32,22 30.75,22.6 C28,24.6 26,27 24.5,29.5 C22.4,33 21,36 20.1,39.5 C19.2,43 18.7,46 18.9,48.25 C19.4,51 20.4,52.6 22,53.9 C24.6,55.2 27.6,55.9 30.75,56.4 L37.6,58.2 L37.6,30.75 L46.4,23.25 Z" fill="none" stroke="#1c1c1c" stroke-width="0.5"/>
<path d="M30.5,25.9 H37.6 M25,31.9 H35 M22.6,36.3 H35.4 M21.4,39.9 H37.6 M20.4,44 H35 M19.8,48.4 H35.4 M20.8,52.8 H35 M37.6,25.9 L35,31.9 L35.4,36.3 L37.6,39.9 M37.6,41 L35,44 L35.4,48.4 L35,52.8 L37.6,56.4 M37.6,30.75 V58" fill="none" stroke="#123a22" stroke-width="0.7"/>
<path d="M270,55.8 C277,56.6 283.5,60.4 286.2,66 C284.6,72.6 278,77.2 270,78.3 Z" fill="#1d3a30"/>
<path d="M271.4,56.4 V78" stroke="#b8c8c0" stroke-width="0.8"/>
<path d="M270,55.8 C277,56.6 283.5,60.4 286.2,66 C284.6,72.6 278,77.2 270,78.3 Z" fill="none" stroke="#1c1c1c" stroke-width="0.5"/>
<path d="M47.6,21.4 Q57,36 64.5,46.4 C80,45.2 100,44.2 110,43.7 C125,42.6 140,41.6 150.6,41.4 L162,41.4 L187.5,41.4 L193.8,47.8 L210,48.9 C232,50.6 255,53.2 270,55.8 L270,78.3 C260,81 250,82.8 245,83.3 C240,84.2 235,84.4 231.7,84.2 C227,83.6 224,82.4 222,80 L217,76 L156,76.3 C146,76.3 138,75.9 130,75.3 C118,74.4 106,73 97.5,71.4 C85,68.8 62,64 37.6,58.2 L37.6,30.75 L46.4,23.25 Z" fill="none" stroke="#1c1c1c" stroke-width="0.5"/>
<path d="M56.6,45 V62 M69.5,46.2 V65 M80,45.3 V67.6 M96,44.4 V70 M124,42.8 V73.8 M138,41.8 V74.8 M152.8,41.4 V75.6 M209.6,48.9 V64 M270,55.8 V78.3" fill="none" stroke="#10281a" stroke-width="0.35" opacity="0.8"/>
<path d="M29.5,41.4 L57,41.2 L58,42.6 L30,43.2 Z" fill="#d4e2e4" stroke="#1c1c1c" stroke-width="0.45"/><path d="M30,43.6 L58,43.2" stroke="#223" stroke-width="0.5" opacity="0.7"/>
<ellipse cx="46.4" cy="60.9" rx="3" ry="1.7" fill="#111"/><path d="M48,61 L60,62.8" stroke="#111" stroke-width="0.9"/>
<path d="M53,50.6 H61" stroke="#182028" stroke-width="0.8"/><ellipse cx="49.4" cy="53.3" rx="2.8" ry="0.9" fill="#2a3640"/>
<path d="M217,70.3 H262" stroke="#1a1208" stroke-width="0.9"/>
<rect x="224" y="71" width="34.4" height="1.9" fill="#5a1a10"/><path d="M224,72 H258.4" stroke="#e23a2a" stroke-width="0.8" stroke-dasharray="1.5 0.7"/>
<path d="M226.4,70.4 V76 M257.8,70.4 V76 M247.6,66.6 V70.2" stroke="#1c1c1c" stroke-width="0.7" fill="none"/>
<path d="M224,80.6 C226,78.6 230,78 246,78.4 L246,83" fill="none" stroke="#0c2414" stroke-width="0.45"/>
<path d="M234,51 V70 M260,54 V79.6" stroke="#0c2414" stroke-width="0.45" fill="none" opacity="0.9"/>
<path d="M230.6,50.6 h4.6 v1 h-4.6 z" fill="#222"/>
<circle cx="265.4" cy="61.6" r="1.5" fill="none" stroke="#0c2414" stroke-width="0.5"/><path d="M265.4,63 V67.4 M264,67.4 H266.8 M265.4,69 V71.6" stroke="#0c2414" stroke-width="0.6"/>
<path d="M150.6,41.4 L162,41.6 L162,52.8 Z" fill="#cfe6ea" stroke="#1c1c1c" stroke-width="0.4"/>
<path d="M154,42 L162,41.6 L187.4,41.6 L193.6,48 L193.4,52.8 L162,52.8 Z" fill="#cde6ea"/>
<path d="M162,41.6 L187.4,41.6 L193.6,48 L193.4,52.8 L162,52.8 Z M172.4,41.6 V52.8 M182.6,41.6 V52.8 M187.4,41.6 L186,52.8 M186.6,47 L193.6,48" fill="none" stroke="#111" stroke-width="1.1" stroke-linejoin="round"/>
<path d="M152,76.6 C161,72.8 170,70.2 176.7,68.3 C184,66 190,64.6 195,64.25 C200,63.9 206,64.6 210,65.75 C214,68 217,72 219,78.3 C210,80.6 198,83.2 188,84 C178,84.2 170,82.4 163,80.4 C159,79.2 155,78 152,76.6 Z" fill="#c4dde2" stroke="#10181c" stroke-width="0.8"/>
<path d="M158,76.6 C170,71.6 186,67.6 197,66.2 L213.4,68.4 M160,78 C174,74 194,70.6 215,71.2 M163,79.6 C178,76.6 198,73.8 216.6,74.4 M168,81.4 C182,79.4 200,77 218,77.2 M175,83 C188,82 204,80.4 218.6,79.2 M176.7,68.3 L186,83.8 M195,64.4 L203,81.4 M186,66 L178,74" fill="none" stroke="#10181c" stroke-width="0.7"/>
<rect x="196.4" y="69.2" width="5" height="3.2" fill="#111"/><rect x="185.6" y="75" width="4" height="2.2" fill="#111"/><rect x="176" y="77.4" width="3" height="1.6" fill="#111"/>
<path d="M169,73.6 L193,70.4" stroke="#111" stroke-width="1.2"/><path d="M199,76 L212,75.6" stroke="#111" stroke-width="1"/>
<circle cx="203" cy="63.6" r="2" fill="#e8f2f4" stroke="#222" stroke-width="0.5"/><path d="M201.1,64.4 a2,2 0 0 0 3.8,0 z" fill="#a22"/>
<circle cx="166" cy="57.6" r="1.8" fill="#f4f8fa" stroke="#222" stroke-width="0.6"/><path d="M164.4,64.6 l1.5,-2.4 l1.5,2.4 z" fill="#e8c020"/>
<path d="M152.8,41.4 L153.2,26.7" stroke="#1c1c1c" stroke-width="0.8"/>
<path d="M47.6,21.4 L153.2,26.7 M106.7,24.1 L110,43.6" stroke="#333" stroke-width="0.35" fill="none"/>
<rect x="104.40" y="44.15" width="15.60" height="26.30" fill="#111"/><rect x="99.05" y="49.50" width="26.30" height="15.60" fill="#111"/><rect x="105.50" y="44.15" width="13.40" height="26.30" fill="#fff"/><rect x="99.05" y="50.60" width="26.30" height="13.40" fill="#fff"/><rect x="109.40" y="44.15" width="5.60" height="26.30" fill="#111"/><rect x="99.05" y="54.50" width="26.30" height="5.60" fill="#111"/>
<g transform="translate(47.40,33.90) rotate(45) scale(-1,1)" fill="none" stroke="#111" stroke-width="1.52"><path d="M0,-3.80 V3.80 M-3.80,0 H3.80 M0,-3.80 H3.80 M3.80,0 V3.80 M0,3.80 H-3.80 M-3.80,0 V-3.80"/></g>
<path d="M146,51.6 L159.6,58.8 L146,66.4" fill="none" stroke="#fff" stroke-width="3"/>
<path d="M146,51.6 L159.6,58.8 L146,66.4" fill="none" stroke="#111" stroke-width="1.7"/>
<path d="M235,57.6 h7.6 v4 q0,3.6 -3.8,5 q-3.8,-1.4 -3.8,-5 z" fill="#f4fff6" stroke="#22d65a" stroke-width="1.3"/><path d="M237.4,60 h2.8 v2.2 q-1.4,2.4 -2.8,0 z" fill="#153"/>
</g>
<text x="132.4" y="317" font-size="20.5" fill="#fff" stroke="#fff" stroke-width="2.4" text-anchor="middle">4</text><text x="132.4" y="317" font-size="20.5" fill="#161616" stroke="#161616" stroke-width="0.45" text-anchor="middle">4</text>
<text x="274.8" y="373.2" font-size="18" fill="#fff" stroke="#fff" stroke-width="2.4" text-anchor="middle">4</text><text x="274.8" y="373.2" font-size="18" fill="#161616" stroke="#161616" stroke-width="0.45" text-anchor="middle">4</text>
<text x="19.4" y="66.9" font-size="7.3" font-family="Liberation Serif, serif" font-style="italic" font-weight="bold" fill="#222" transform="rotate(8 20 67)" textLength="27" lengthAdjust="spacingAndGlyphs">Jan Polc</text>
<circle cx="27.2" cy="86.5" r="8.2" fill="#1010f2"/>
<text x="27.2" y="91.8" font-size="15.6" font-family="Liberation Serif, serif" font-weight="bold" fill="#fff" text-anchor="middle">1</text>
<circle cx="27.2" cy="210.5" r="8.2" fill="#1010f2"/>
<text x="27.2" y="215.8" font-size="15.6" font-family="Liberation Serif, serif" font-weight="bold" fill="#fff" text-anchor="middle">2</text>
<circle cx="27.2" cy="332.2" r="8.2" fill="#1010f2"/>
<text x="27.2" y="337.5" font-size="15.6" font-family="Liberation Serif, serif" font-weight="bold" fill="#fff" text-anchor="middle">3</text>
<line x1="70.75" y1="33.50" x2="53.50" y2="33.50" stroke="#333" stroke-width="0.45"/>
<line x1="80.60" y1="83.20" x2="80.60" y2="60.00" stroke="#333" stroke-width="0.45"/>
<line x1="108.75" y1="83.20" x2="108.75" y2="70.50" stroke="#333" stroke-width="0.45"/>
<line x1="131.50" y1="83.20" x2="131.50" y2="60.00" stroke="#333" stroke-width="0.45"/>
<line x1="148.60" y1="88.90" x2="148.60" y2="64.00" stroke="#333" stroke-width="0.45"/>
<line x1="245.80" y1="37.80" x2="245.80" y2="57.00" stroke="#333" stroke-width="0.45"/>
<line x1="182.00" y1="96.80" x2="182.00" y2="117.00" stroke="#333" stroke-width="0.45"/>
<line x1="263.60" y1="145.40" x2="263.60" y2="124.00" stroke="#333" stroke-width="0.45"/>
<line x1="278.00" y1="145.40" x2="278.00" y2="118.00" stroke="#333" stroke-width="0.45"/>
<line x1="296.60" y1="145.40" x2="296.60" y2="128.00" stroke="#333" stroke-width="0.45"/>
<line x1="322.00" y1="145.40" x2="322.00" y2="118.00" stroke="#333" stroke-width="0.45"/>
<line x1="327.00" y1="95.00" x2="345.00" y2="95.60" stroke="#333" stroke-width="0.45"/>
<line x1="365.40" y1="127.00" x2="365.40" y2="108.00" stroke="#333" stroke-width="0.45"/>
<line x1="68.00" y1="169.50" x2="53.50" y2="169.50" stroke="#333" stroke-width="0.45"/>
<line x1="108.75" y1="225.00" x2="108.75" y2="207.00" stroke="#333" stroke-width="0.45"/>
<line x1="130.75" y1="225.00" x2="130.75" y2="200.00" stroke="#333" stroke-width="0.45"/>
<line x1="150.00" y1="225.00" x2="150.00" y2="200.00" stroke="#333" stroke-width="0.45"/>
<line x1="202.00" y1="169.50" x2="195.00" y2="181.00" stroke="#333" stroke-width="0.45"/>
<line x1="241.00" y1="169.50" x2="243.00" y2="196.00" stroke="#333" stroke-width="0.45"/>
<line x1="187.60" y1="228.80" x2="187.60" y2="247.00" stroke="#333" stroke-width="0.45"/>
<line x1="216.00" y1="228.80" x2="223.00" y2="238.00" stroke="#333" stroke-width="0.45"/>
<line x1="262.00" y1="275.40" x2="262.00" y2="252.00" stroke="#333" stroke-width="0.45"/>
<line x1="278.60" y1="275.40" x2="278.60" y2="252.00" stroke="#333" stroke-width="0.45"/>
<line x1="297.00" y1="275.40" x2="297.00" y2="258.00" stroke="#333" stroke-width="0.45"/>
<line x1="328.70" y1="227.00" x2="345.00" y2="227.00" stroke="#333" stroke-width="0.45"/>
<line x1="365.00" y1="262.00" x2="365.00" y2="240.00" stroke="#333" stroke-width="0.45"/>
<line x1="67.50" y1="283.80" x2="53.50" y2="283.80" stroke="#333" stroke-width="0.45"/>
<line x1="109.50" y1="338.00" x2="109.50" y2="322.00" stroke="#333" stroke-width="0.45"/>
<line x1="132.50" y1="338.00" x2="132.50" y2="317.00" stroke="#333" stroke-width="0.45"/>
<line x1="150.50" y1="338.00" x2="150.50" y2="316.00" stroke="#333" stroke-width="0.45"/>
<line x1="182.00" y1="349.60" x2="182.00" y2="369.00" stroke="#333" stroke-width="0.45"/>
<line x1="258.00" y1="396.60" x2="258.00" y2="376.00" stroke="#333" stroke-width="0.45"/>
<line x1="275.00" y1="396.60" x2="275.00" y2="376.00" stroke="#333" stroke-width="0.45"/>
<line x1="294.00" y1="395.40" x2="294.00" y2="378.00" stroke="#333" stroke-width="0.45"/>
<line x1="328.00" y1="345.00" x2="343.00" y2="345.00" stroke="#333" stroke-width="0.45"/>
<line x1="376.70" y1="37.60" x2="376.70" y2="53.00" stroke="#333" stroke-width="0.45"/>
<line x1="439.40" y1="37.60" x2="439.40" y2="53.00" stroke="#333" stroke-width="0.45"/>
<line x1="376.70" y1="156.60" x2="376.70" y2="174.00" stroke="#333" stroke-width="0.45"/>
<line x1="439.70" y1="156.60" x2="439.70" y2="174.00" stroke="#333" stroke-width="0.45"/>
<line x1="376.70" y1="274.70" x2="376.70" y2="294.00" stroke="#333" stroke-width="0.45"/>
<line x1="439.70" y1="274.70" x2="439.70" y2="294.00" stroke="#333" stroke-width="0.45"/>
<line x1="474.40" y1="119.60" x2="474.40" y2="101.00" stroke="#333" stroke-width="0.45"/>
<line x1="553.00" y1="119.60" x2="553.00" y2="101.00" stroke="#333" stroke-width="0.45"/>
<line x1="474.40" y1="240.10" x2="474.40" y2="221.50" stroke="#333" stroke-width="0.45"/>
<line x1="553.00" y1="240.10" x2="553.00" y2="221.50" stroke="#333" stroke-width="0.45"/>
<line x1="474.40" y1="360.30" x2="474.40" y2="341.70" stroke="#333" stroke-width="0.45"/>
<line x1="553.00" y1="360.30" x2="553.00" y2="341.70" stroke="#333" stroke-width="0.45"/>
<circle cx="70.75" cy="33.50" r="2.55" fill="#fff" stroke="#3a3a3a" stroke-width="0.6"/><text transform="translate(70.75,34.83) scale(0.1)" font-size="37.0" font-weight="bold" text-anchor="middle" fill="#222">1</text>
<circle cx="80.60" cy="83.20" r="2.55" fill="#fff" stroke="#3a3a3a" stroke-width="0.6"/><text transform="translate(80.60,84.53) scale(0.1)" font-size="37.0" font-weight="bold" text-anchor="middle" fill="#222">3</text>
<circle cx="108.75" cy="83.20" r="2.55" fill="#fff" stroke="#3a3a3a" stroke-width="0.6"/><text transform="translate(108.75,84.53) scale(0.1)" font-size="37.0" font-weight="bold" text-anchor="middle" fill="#222">2</text>
<circle cx="131.50" cy="83.20" r="2.55" fill="#fff" stroke="#3a3a3a" stroke-width="0.6"/><text transform="translate(131.50,84.53) scale(0.1)" font-size="37.0" font-weight="bold" text-anchor="middle" fill="#222">4</text>
<circle cx="148.60" cy="88.90" r="2.55" fill="#fff" stroke="#3a3a3a" stroke-width="0.6"/><text transform="translate(148.60,90.23) scale(0.1)" font-size="37.0" font-weight="bold" text-anchor="middle" fill="#222">5</text>
<circle cx="245.80" cy="37.80" r="2.55" fill="#fff" stroke="#3a3a3a" stroke-width="0.6"/><text transform="translate(245.80,39.13) scale(0.1)" font-size="37.0" font-weight="bold" text-anchor="middle" fill="#222">6</text>
<circle cx="182.00" cy="96.80" r="2.55" fill="#fff" stroke="#3a3a3a" stroke-width="0.6"/><text transform="translate(182.00,98.13) scale(0.1)" font-size="37.0" font-weight="bold" text-anchor="middle" fill="#222">6</text>
<circle cx="263.60" cy="145.40" r="2.55" fill="#fff" stroke="#3a3a3a" stroke-width="0.6"/><text transform="translate(263.60,146.73) scale(0.1)" font-size="37.0" font-weight="bold" text-anchor="middle" fill="#222">5</text>
<circle cx="278.00" cy="145.40" r="2.55" fill="#fff" stroke="#3a3a3a" stroke-width="0.6"/><text transform="translate(278.00,146.73) scale(0.1)" font-size="37.0" font-weight="bold" text-anchor="middle" fill="#222">4</text>
<circle cx="296.60" cy="145.40" r="2.55" fill="#fff" stroke="#3a3a3a" stroke-width="0.6"/><text transform="translate(296.60,146.73) scale(0.1)" font-size="37.0" font-weight="bold" text-anchor="middle" fill="#222">2</text>
<circle cx="322.00" cy="145.40" r="2.55" fill="#fff" stroke="#3a3a3a" stroke-width="0.6"/><text transform="translate(322.00,146.73) scale(0.1)" font-size="37.0" font-weight="bold" text-anchor="middle" fill="#222">3</text>
<circle cx="327.00" cy="95.00" r="2.55" fill="#fff" stroke="#3a3a3a" stroke-width="0.6"/><text transform="translate(327.00,96.33) scale(0.1)" font-size="37.0" font-weight="bold" text-anchor="middle" fill="#222">1</text>
<circle cx="365.40" cy="127.00" r="2.55" fill="#fff" stroke="#3a3a3a" stroke-width="0.6"/><text transform="translate(365.40,128.33) scale(0.1)" font-size="37.0" font-weight="bold" text-anchor="middle" fill="#222">7</text>
<circle cx="68.00" cy="169.50" r="2.55" fill="#fff" stroke="#3a3a3a" stroke-width="0.6"/><text transform="translate(68.00,170.83) scale(0.1)" font-size="37.0" font-weight="bold" text-anchor="middle" fill="#222">1</text>
<circle cx="108.75" cy="225.00" r="2.55" fill="#fff" stroke="#3a3a3a" stroke-width="0.6"/><text transform="translate(108.75,226.33) scale(0.1)" font-size="37.0" font-weight="bold" text-anchor="middle" fill="#222">2</text>
<circle cx="130.75" cy="225.00" r="2.55" fill="#fff" stroke="#3a3a3a" stroke-width="0.6"/><text transform="translate(130.75,226.33) scale(0.1)" font-size="37.0" font-weight="bold" text-anchor="middle" fill="#222">4</text>
<circle cx="150.00" cy="225.00" r="2.55" fill="#fff" stroke="#3a3a3a" stroke-width="0.6"/><text transform="translate(150.00,226.33) scale(0.1)" font-size="37.0" font-weight="bold" text-anchor="middle" fill="#222">5</text>
<circle cx="202.00" cy="169.50" r="2.55" fill="#fff" stroke="#3a3a3a" stroke-width="0.6"/><text transform="translate(202.00,170.62) scale(0.1)" font-size="31.0" font-weight="bold" text-anchor="middle" fill="#222">10</text>
<circle cx="241.00" cy="169.50" r="2.55" fill="#fff" stroke="#3a3a3a" stroke-width="0.6"/><text transform="translate(241.00,170.62) scale(0.1)" font-size="31.0" font-weight="bold" text-anchor="middle" fill="#222">11</text>
<circle cx="187.60" cy="228.80" r="2.55" fill="#fff" stroke="#3a3a3a" stroke-width="0.6"/><text transform="translate(187.60,229.92) scale(0.1)" font-size="31.0" font-weight="bold" text-anchor="middle" fill="#222">11</text>
<circle cx="216.00" cy="228.80" r="2.55" fill="#fff" stroke="#3a3a3a" stroke-width="0.6"/><text transform="translate(216.00,229.92) scale(0.1)" font-size="31.0" font-weight="bold" text-anchor="middle" fill="#222">10</text>
<circle cx="262.00" cy="275.40" r="2.55" fill="#fff" stroke="#3a3a3a" stroke-width="0.6"/><text transform="translate(262.00,276.73) scale(0.1)" font-size="37.0" font-weight="bold" text-anchor="middle" fill="#222">5</text>
<circle cx="278.60" cy="275.40" r="2.55" fill="#fff" stroke="#3a3a3a" stroke-width="0.6"/><text transform="translate(278.60,276.73) scale(0.1)" font-size="37.0" font-weight="bold" text-anchor="middle" fill="#222">4</text>
<circle cx="297.00" cy="275.40" r="2.55" fill="#fff" stroke="#3a3a3a" stroke-width="0.6"/><text transform="translate(297.00,276.73) scale(0.1)" font-size="37.0" font-weight="bold" text-anchor="middle" fill="#222">2</text>
<circle cx="328.70" cy="227.00" r="2.55" fill="#fff" stroke="#3a3a3a" stroke-width="0.6"/><text transform="translate(328.70,228.33) scale(0.1)" font-size="37.0" font-weight="bold" text-anchor="middle" fill="#222">1</text>
<circle cx="365.00" cy="262.00" r="2.55" fill="#fff" stroke="#3a3a3a" stroke-width="0.6"/><text transform="translate(365.00,263.12) scale(0.1)" font-size="31.0" font-weight="bold" text-anchor="middle" fill="#222">12</text>
<circle cx="67.50" cy="283.80" r="2.55" fill="#fff" stroke="#3a3a3a" stroke-width="0.6"/><text transform="translate(67.50,285.13) scale(0.1)" font-size="37.0" font-weight="bold" text-anchor="middle" fill="#222">1</text>
<circle cx="109.50" cy="338.00" r="2.55" fill="#fff" stroke="#3a3a3a" stroke-width="0.6"/><text transform="translate(109.50,339.33) scale(0.1)" font-size="37.0" font-weight="bold" text-anchor="middle" fill="#222">2</text>
<circle cx="132.50" cy="338.00" r="2.55" fill="#fff" stroke="#3a3a3a" stroke-width="0.6"/><text transform="translate(132.50,339.12) scale(0.1)" font-size="31.0" font-weight="bold" text-anchor="middle" fill="#222">13</text>
<circle cx="150.50" cy="338.00" r="2.55" fill="#fff" stroke="#3a3a3a" stroke-width="0.6"/><text transform="translate(150.50,339.12) scale(0.1)" font-size="31.0" font-weight="bold" text-anchor="middle" fill="#222">14</text>
<circle cx="240.00" cy="288.00" r="2.55" fill="#fff" stroke="#3a3a3a" stroke-width="0.6"/><text transform="translate(240.00,289.12) scale(0.1)" font-size="31.0" font-weight="bold" text-anchor="middle" fill="#222">15</text>
<circle cx="182.00" cy="349.60" r="2.55" fill="#fff" stroke="#3a3a3a" stroke-width="0.6"/><text transform="translate(182.00,350.72) scale(0.1)" font-size="31.0" font-weight="bold" text-anchor="middle" fill="#222">15</text>
<circle cx="258.00" cy="396.60" r="2.55" fill="#fff" stroke="#3a3a3a" stroke-width="0.6"/><text transform="translate(258.00,397.72) scale(0.1)" font-size="31.0" font-weight="bold" text-anchor="middle" fill="#222">14</text>
<circle cx="275.00" cy="396.60" r="2.55" fill="#fff" stroke="#3a3a3a" stroke-width="0.6"/><text transform="translate(275.00,397.72) scale(0.1)" font-size="31.0" font-weight="bold" text-anchor="middle" fill="#222">13</text>
<circle cx="294.00" cy="395.40" r="2.55" fill="#fff" stroke="#3a3a3a" stroke-width="0.6"/><text transform="translate(294.00,396.73) scale(0.1)" font-size="37.0" font-weight="bold" text-anchor="middle" fill="#222">2</text>
<circle cx="328.00" cy="345.00" r="2.55" fill="#fff" stroke="#3a3a3a" stroke-width="0.6"/><text transform="translate(328.00,346.33) scale(0.1)" font-size="37.0" font-weight="bold" text-anchor="middle" fill="#222">1</text>
<circle cx="376.70" cy="37.60" r="2.55" fill="#fff" stroke="#3a3a3a" stroke-width="0.6"/><text transform="translate(376.70,38.93) scale(0.1)" font-size="37.0" font-weight="bold" text-anchor="middle" fill="#222">8</text>
<circle cx="439.40" cy="37.60" r="2.55" fill="#fff" stroke="#3a3a3a" stroke-width="0.6"/><text transform="translate(439.40,38.93) scale(0.1)" font-size="37.0" font-weight="bold" text-anchor="middle" fill="#222">8</text>
<circle cx="376.70" cy="156.60" r="2.55" fill="#fff" stroke="#3a3a3a" stroke-width="0.6"/><text transform="translate(376.70,157.93) scale(0.1)" font-size="37.0" font-weight="bold" text-anchor="middle" fill="#222">8</text>
<circle cx="439.70" cy="156.60" r="2.55" fill="#fff" stroke="#3a3a3a" stroke-width="0.6"/><text transform="translate(439.70,157.93) scale(0.1)" font-size="37.0" font-weight="bold" text-anchor="middle" fill="#222">8</text>
<circle cx="376.70" cy="274.70" r="2.55" fill="#fff" stroke="#3a3a3a" stroke-width="0.6"/><text transform="translate(376.70,275.82) scale(0.1)" font-size="31.0" font-weight="bold" text-anchor="middle" fill="#222">16</text>
<circle cx="439.70" cy="274.70" r="2.55" fill="#fff" stroke="#3a3a3a" stroke-width="0.6"/><text transform="translate(439.70,275.82) scale(0.1)" font-size="31.0" font-weight="bold" text-anchor="middle" fill="#222">16</text>
<circle cx="474.40" cy="119.60" r="2.55" fill="#fff" stroke="#3a3a3a" stroke-width="0.6"/><text transform="translate(474.40,120.93) scale(0.1)" font-size="37.0" font-weight="bold" text-anchor="middle" fill="#222">9</text>
<circle cx="553.00" cy="119.60" r="2.55" fill="#fff" stroke="#3a3a3a" stroke-width="0.6"/><text transform="translate(553.00,120.93) scale(0.1)" font-size="37.0" font-weight="bold" text-anchor="middle" fill="#222">9</text>
<circle cx="474.40" cy="240.10" r="2.55" fill="#fff" stroke="#3a3a3a" stroke-width="0.6"/><text transform="translate(474.40,241.22) scale(0.1)" font-size="31.0" font-weight="bold" text-anchor="middle" fill="#222">17</text>
<circle cx="553.00" cy="240.10" r="2.55" fill="#fff" stroke="#3a3a3a" stroke-width="0.6"/><text transform="translate(553.00,241.22) scale(0.1)" font-size="31.0" font-weight="bold" text-anchor="middle" fill="#222">17</text>
<circle cx="474.40" cy="360.30" r="2.55" fill="#fff" stroke="#3a3a3a" stroke-width="0.6"/><text transform="translate(474.40,361.42) scale(0.1)" font-size="31.0" font-weight="bold" text-anchor="middle" fill="#222">17</text>
<circle cx="553.00" cy="360.30" r="2.55" fill="#fff" stroke="#3a3a3a" stroke-width="0.6"/><text transform="translate(553.00,361.42) scale(0.1)" font-size="31.0" font-weight="bold" text-anchor="middle" fill="#222">17</text>
<rect x="18" y="382.1" width="18.2" height="14.7" fill="#4c7a9a" stroke="#2f4f66" stroke-width="0.7"/>
<text x="27.1" y="392.00000000000006" font-size="7" font-weight="bold" fill="#fff" text-anchor="middle">245</text>
<text transform="translate(27.10,402.10) scale(0.1)" font-size="33.0" font-weight="bold" letter-spacing="1.5" text-anchor="middle" fill="#111">RLM 74</text>
<text transform="translate(27.10,407.00) scale(0.1)" font-size="41.0" text-anchor="middle" fill="#333">Dark Grey</text>
<rect x="44.5" y="382.1" width="18.2" height="14.7" fill="#a1b0b3" stroke="#6d7c80" stroke-width="0.7"/>
<text x="53.6" y="392.00000000000006" font-size="7" font-weight="bold" fill="#1c2428" text-anchor="middle">246</text>
<text transform="translate(53.60,402.10) scale(0.1)" font-size="33.0" font-weight="bold" letter-spacing="1.5" text-anchor="middle" fill="#111">RLM 75</text>
<text transform="translate(53.60,407.00) scale(0.1)" font-size="41.0" text-anchor="middle" fill="#333">Grey Violet</text>
<rect x="70.8" y="382.1" width="18.2" height="14.7" fill="#c9e5e4" stroke="#8aa" stroke-width="0.7"/>
<text x="79.89999999999999" y="392.00000000000006" font-size="7" font-weight="bold" fill="#1c2428" text-anchor="middle">247</text>
<text transform="translate(79.90,402.10) scale(0.1)" font-size="33.0" font-weight="bold" letter-spacing="1.5" text-anchor="middle" fill="#111">RLM 76</text>
<text transform="translate(79.90,407.00) scale(0.1)" font-size="41.0" text-anchor="middle" fill="#333">Light Blue Grey</text>
<rect x="97.4" y="382.1" width="18.2" height="14.7" fill="#17352a" stroke="#0c1c16" stroke-width="0.7"/>
<text x="106.5" y="392.00000000000006" font-size="7" font-weight="bold" fill="#fff" text-anchor="middle">241</text>
<text transform="translate(106.50,402.10) scale(0.1)" font-size="33.0" font-weight="bold" letter-spacing="1.5" text-anchor="middle" fill="#111">RLM 70</text>
<text transform="translate(106.50,407.00) scale(0.1)" font-size="41.0" text-anchor="middle" fill="#333">Black Green</text>
<rect x="122.6" y="381.7" width="18.2" height="14.7" fill="#1f6136" stroke="#123c20" stroke-width="0.7"/>
<text x="131.7" y="391.6" font-size="7" font-weight="bold" fill="#fff" text-anchor="middle">242</text>
<text transform="translate(131.70,400.90) scale(0.1)" font-size="33.0" font-weight="bold" letter-spacing="1.5" text-anchor="middle" fill="#111">RLM 71</text>
<text transform="translate(131.70,405.80) scale(0.1)" font-size="41.0" text-anchor="middle" fill="#333">Dark Green</text>
<rect x="478.4" y="382.1" width="18.2" height="14.7" fill="#3c2318" stroke="#777" stroke-width="0.7"/>
<text x="487.5" y="392.00000000000006" font-size="7" font-weight="bold" fill="#fff" text-anchor="middle">160</text>
<text transform="translate(487.50,402.10) scale(0.1)" font-size="33.0" font-weight="bold" letter-spacing="1.5" text-anchor="middle" fill="#111">RLM 63</text>
<text transform="translate(487.50,407.00) scale(0.1)" font-size="41.0" text-anchor="middle" fill="#333">Red Brown</text>
<rect x="504.6" y="382.1" width="18.2" height="14.7" fill="#7f9c7e" stroke="#5c705c" stroke-width="0.7"/>
<text x="513.7" y="392.00000000000006" font-size="7" font-weight="bold" fill="#2a3a2a" text-anchor="middle">240</text>
<text transform="translate(513.70,402.10) scale(0.1)" font-size="33.0" font-weight="bold" letter-spacing="1.5" text-anchor="middle" fill="#111">RLM 02</text>
<text transform="translate(513.70,407.00) scale(0.1)" font-size="41.0" text-anchor="middle" fill="#333">Grey</text>
<rect x="530.4" y="382.1" width="18.2" height="14.7" fill="#ffffff" stroke="#777" stroke-width="0.7"/>
<text x="539.5" y="392.00000000000006" font-size="7" font-weight="bold" fill="#222" text-anchor="middle">34</text>
<text transform="translate(539.50,402.10) scale(0.1)" font-size="33.0" font-weight="bold" letter-spacing="1.5" text-anchor="middle" fill="#111">White</text>
<text transform="translate(539.50,407.00) scale(0.1)" font-size="41.0" text-anchor="middle" fill="#333"></text>
<rect x="556.4" y="382.1" width="18.2" height="14.7" fill="#f9a21c" stroke="#a86c10" stroke-width="0.7"/>
<text x="565.5" y="392.00000000000006" font-size="7" font-weight="bold" fill="#332" text-anchor="middle">154</text>
<text transform="translate(565.50,402.10) scale(0.1)" font-size="33.0" font-weight="bold" letter-spacing="1.5" text-anchor="middle" fill="#111">RLM 04</text>
<text transform="translate(565.50,407.00) scale(0.1)" font-size="41.0" text-anchor="middle" fill="#333">Yellow</text>
<text x="442" y="389.8" font-size="6.2" font-weight="bold" fill="#222" text-anchor="middle">Paints used:</text>
<rect x="415.6" y="392" width="52" height="7.6" rx="1.6" fill="#fff" stroke="#999" stroke-width="0.7"/>
<text x="441.6" y="398.2" font-size="6.4" font-family="Liberation Serif, serif" font-weight="bold" fill="#e8141c" stroke="#e8141c" stroke-width="0.7" text-anchor="middle" textLength="45" lengthAdjust="spacingAndGlyphs">HUMBROL</text>
</svg>
<svg width="600" height="419" viewBox="0 0 600 419" font-family="Liberation Sans, sans-serif" style="pointer-events:none">
<text x="41.6" y="107.60" font-size="5.95" font-weight="bold" fill="#111" word-spacing="2.743">Bf 109F-2, Stab/JG51, flown by</text>
<text x="41.6" y="114.85" font-size="5.95" font-weight="bold" fill="#111" word-spacing="4.173">OLt. Werner Molders, Western</text>
<text x="41.6" y="122.10" font-size="5.95" font-weight="bold" fill="#111" word-spacing="0.000">Front, June 1941</text>
<text x="41.6" y="237.10" font-size="5.95" font-weight="bold" fill="#111" word-spacing="3.315">Bf 109F-2, W. Nr. 5458, I/JG3,</text>
<text x="41.6" y="244.30" font-size="5.95" font-weight="bold" fill="#111" word-spacing="1.669">flown by Hptm. Hans von Hahn,</text>
<text x="41.6" y="251.20" font-size="5.95" font-weight="bold" fill="#111" word-spacing="0.000">Western Front, July 1941</text>
<text x="41.6" y="258.30" font-size="5.95" font-style="italic" fill="#262626" word-spacing="1.130">Note the external bullet proof glass</text>
<text x="41.6" y="265.20" font-size="5.95" font-style="italic" fill="#262626" word-spacing="2.188">and dark heat resistant colour on</text>
<text x="41.6" y="271.60" font-size="5.95" font-style="italic" fill="#262626" word-spacing="0.000">wing roots.</text>
<text x="40" y="349.20" font-size="5.95" font-weight="bold" fill="#111" word-spacing="0.750">Bf 109F-2, „Black 4”, Stab I/JG52,</text>
<text x="40" y="356.45" font-size="5.95" font-weight="bold" fill="#111" word-spacing="3.781">flown by Lt. Johannes Weise,</text>
<text x="40" y="363.30" font-size="5.95" font-weight="bold" fill="#111" word-spacing="0.000">Katwijk, Holland 1941</text>
<text x="40" y="370.40" font-size="5.95" font-style="italic" fill="#262626" word-spacing="2.682">Aircraft in interesting experimental</text>
<text x="40" y="376.60" font-size="5.95" font-style="italic" fill="#262626" word-spacing="0.000">camouflage applied in Spring 1941.</text>
</svg>
</body></html>
